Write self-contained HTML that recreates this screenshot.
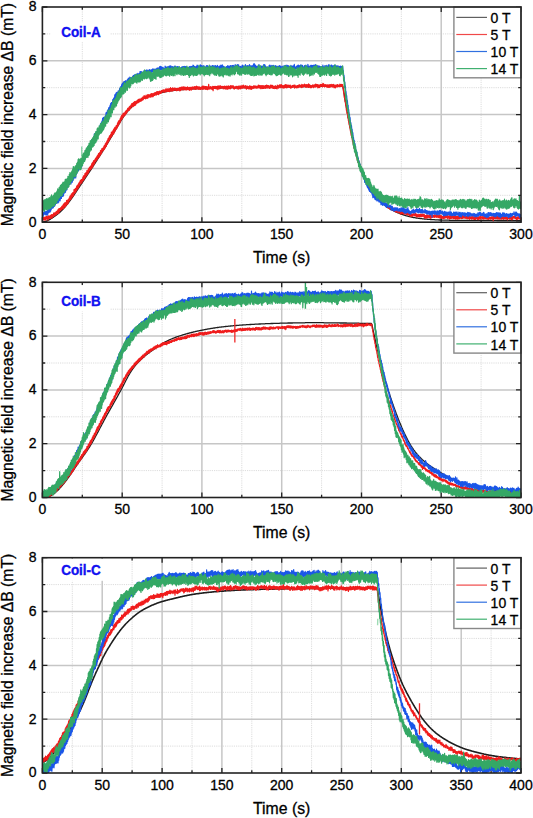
<!DOCTYPE html>
<html><head><meta charset="utf-8"><style>
html,body{margin:0;padding:0;background:#fff;}
svg{display:block;}
text{font-family:"Liberation Sans",sans-serif;fill:#000;stroke:#000;stroke-width:0.3px;}
</style><style>
.mg{stroke:#dcdcdc;stroke-width:1;stroke-dasharray:1.2 1;}
.Mg{stroke:#c6c6c6;stroke-width:1.5;}
.tk{stroke:#222;stroke-width:1.3;fill:none;}
.fr{fill:none;stroke:#222;stroke-width:1.6;}
.lg{fill:#fff;stroke:#888;stroke-width:1.4;}
.xl{font-size:14px;text-anchor:middle;}
.yl{font-size:14px;text-anchor:end;}
.xt{font-size:15.8px;text-anchor:middle;}
.yt{font-size:15.7px;text-anchor:middle;}
.lt{font-size:14px;}
.coil{font-size:14px;font-weight:bold;fill:#1010f0;stroke:#1010f0;stroke-width:0.35px;}
</style></head><body>
<svg width="533" height="818" viewBox="0 0 533 818">

<line x1="82.3" y1="7" x2="82.3" y2="222.2" class="mg"/>
<line x1="162.1" y1="7" x2="162.1" y2="222.2" class="mg"/>
<line x1="241.8" y1="7" x2="241.8" y2="222.2" class="mg"/>
<line x1="321.6" y1="7" x2="321.6" y2="222.2" class="mg"/>
<line x1="401.3" y1="7" x2="401.3" y2="222.2" class="mg"/>
<line x1="481.1" y1="7" x2="481.1" y2="222.2" class="mg"/>
<line x1="42.4" y1="195.3" x2="521" y2="195.3" class="mg"/>
<line x1="42.4" y1="141.5" x2="521" y2="141.5" class="mg"/>
<line x1="42.4" y1="87.7" x2="521" y2="87.7" class="mg"/>
<line x1="42.4" y1="33.9" x2="521" y2="33.9" class="mg"/>
<line x1="122.2" y1="7" x2="122.2" y2="222.2" class="Mg"/>
<line x1="201.9" y1="7" x2="201.9" y2="222.2" class="Mg"/>
<line x1="281.7" y1="7" x2="281.7" y2="222.2" class="Mg"/>
<line x1="361.5" y1="7" x2="361.5" y2="222.2" class="Mg"/>
<line x1="441.2" y1="7" x2="441.2" y2="222.2" class="Mg"/>
<line x1="42.4" y1="168.4" x2="521" y2="168.4" class="Mg"/>
<line x1="42.4" y1="114.6" x2="521" y2="114.6" class="Mg"/>
<line x1="42.4" y1="60.8" x2="521" y2="60.8" class="Mg"/>
<path d="M42.4 222.2v-5M42.4 7v5M82.3 222.2v-2.8M82.3 7v2.8M122.2 222.2v-5M122.2 7v5M162.1 222.2v-2.8M162.1 7v2.8M201.9 222.2v-5M201.9 7v5M241.8 222.2v-2.8M241.8 7v2.8M281.7 222.2v-5M281.7 7v5M321.6 222.2v-2.8M321.6 7v2.8M361.5 222.2v-5M361.5 7v5M401.3 222.2v-2.8M401.3 7v2.8M441.2 222.2v-5M441.2 7v5M481.1 222.2v-2.8M481.1 7v2.8M521 222.2v-5M521 7v5M42.4 222.2h5M521 222.2h-5M42.4 195.3h2.8M521 195.3h-2.8M42.4 168.4h5M521 168.4h-5M42.4 141.5h2.8M521 141.5h-2.8M42.4 114.6h5M521 114.6h-5M42.4 87.7h2.8M521 87.7h-2.8M42.4 60.8h5M521 60.8h-5M42.4 33.9h2.8M521 33.9h-2.8M42.4 7h5M521 7h-5" class="tk"/>
<rect x="50.8" y="22.3" width="59.2" height="19.5" fill="#fff"/>
<text x="42.4" y="239" class="xl">0</text>
<text x="122.2" y="239" class="xl">50</text>
<text x="201.9" y="239" class="xl">100</text>
<text x="281.7" y="239" class="xl">150</text>
<text x="361.5" y="239" class="xl">200</text>
<text x="441.2" y="239" class="xl">250</text>
<text x="521" y="239" class="xl">300</text>
<text x="36.6" y="226.5" class="yl">0</text>
<text x="36.6" y="172.7" class="yl">2</text>
<text x="36.6" y="118.9" class="yl">4</text>
<text x="36.6" y="65.1" class="yl">6</text>
<text x="36.6" y="11.3" class="yl">8</text>
<text x="281.7" y="262.8" class="xt">Time (s)</text>
<text transform="translate(12.5 114.6) rotate(-90)" class="yt">Magnetic field increase ΔB (mT)</text>
<line x1="82.3" y1="282.3" x2="82.3" y2="497.5" class="mg"/>
<line x1="162.1" y1="282.3" x2="162.1" y2="497.5" class="mg"/>
<line x1="241.8" y1="282.3" x2="241.8" y2="497.5" class="mg"/>
<line x1="321.6" y1="282.3" x2="321.6" y2="497.5" class="mg"/>
<line x1="401.3" y1="282.3" x2="401.3" y2="497.5" class="mg"/>
<line x1="481.1" y1="282.3" x2="481.1" y2="497.5" class="mg"/>
<line x1="42.4" y1="470.6" x2="521" y2="470.6" class="mg"/>
<line x1="42.4" y1="416.8" x2="521" y2="416.8" class="mg"/>
<line x1="42.4" y1="363" x2="521" y2="363" class="mg"/>
<line x1="42.4" y1="309.2" x2="521" y2="309.2" class="mg"/>
<line x1="122.2" y1="282.3" x2="122.2" y2="497.5" class="Mg"/>
<line x1="201.9" y1="282.3" x2="201.9" y2="497.5" class="Mg"/>
<line x1="281.7" y1="282.3" x2="281.7" y2="497.5" class="Mg"/>
<line x1="361.5" y1="282.3" x2="361.5" y2="497.5" class="Mg"/>
<line x1="441.2" y1="282.3" x2="441.2" y2="497.5" class="Mg"/>
<line x1="42.4" y1="443.7" x2="521" y2="443.7" class="Mg"/>
<line x1="42.4" y1="389.9" x2="521" y2="389.9" class="Mg"/>
<line x1="42.4" y1="336.1" x2="521" y2="336.1" class="Mg"/>
<path d="M42.4 497.5v-5M42.4 282.3v5M82.3 497.5v-2.8M82.3 282.3v2.8M122.2 497.5v-5M122.2 282.3v5M162.1 497.5v-2.8M162.1 282.3v2.8M201.9 497.5v-5M201.9 282.3v5M241.8 497.5v-2.8M241.8 282.3v2.8M281.7 497.5v-5M281.7 282.3v5M321.6 497.5v-2.8M321.6 282.3v2.8M361.5 497.5v-5M361.5 282.3v5M401.3 497.5v-2.8M401.3 282.3v2.8M441.2 497.5v-5M441.2 282.3v5M481.1 497.5v-2.8M481.1 282.3v2.8M521 497.5v-5M521 282.3v5M42.4 497.5h5M521 497.5h-5M42.4 470.6h2.8M521 470.6h-2.8M42.4 443.7h5M521 443.7h-5M42.4 416.8h2.8M521 416.8h-2.8M42.4 389.9h5M521 389.9h-5M42.4 363h2.8M521 363h-2.8M42.4 336.1h5M521 336.1h-5M42.4 309.2h2.8M521 309.2h-2.8M42.4 282.3h5M521 282.3h-5" class="tk"/>
<rect x="50.8" y="285.6" width="59.2" height="25.9" fill="#fff"/>
<text x="42.4" y="514.3" class="xl">0</text>
<text x="122.2" y="514.3" class="xl">50</text>
<text x="201.9" y="514.3" class="xl">100</text>
<text x="281.7" y="514.3" class="xl">150</text>
<text x="361.5" y="514.3" class="xl">200</text>
<text x="441.2" y="514.3" class="xl">250</text>
<text x="521" y="514.3" class="xl">300</text>
<text x="36.6" y="501.8" class="yl">0</text>
<text x="36.6" y="448" class="yl">2</text>
<text x="36.6" y="394.2" class="yl">4</text>
<text x="36.6" y="340.4" class="yl">6</text>
<text x="36.6" y="286.6" class="yl">8</text>
<text x="281.7" y="538.1" class="xt">Time (s)</text>
<text transform="translate(12.5 389.9) rotate(-90)" class="yt">Magnetic field increase ΔB (mT)</text>
<line x1="72.3" y1="557.7" x2="72.3" y2="773" class="mg"/>
<line x1="132.1" y1="557.7" x2="132.1" y2="773" class="mg"/>
<line x1="192" y1="557.7" x2="192" y2="773" class="mg"/>
<line x1="251.8" y1="557.7" x2="251.8" y2="773" class="mg"/>
<line x1="311.6" y1="557.7" x2="311.6" y2="773" class="mg"/>
<line x1="371.4" y1="557.7" x2="371.4" y2="773" class="mg"/>
<line x1="431.3" y1="557.7" x2="431.3" y2="773" class="mg"/>
<line x1="491.1" y1="557.7" x2="491.1" y2="773" class="mg"/>
<line x1="42.4" y1="746.1" x2="521" y2="746.1" class="mg"/>
<line x1="42.4" y1="692.3" x2="521" y2="692.3" class="mg"/>
<line x1="42.4" y1="638.4" x2="521" y2="638.4" class="mg"/>
<line x1="42.4" y1="584.6" x2="521" y2="584.6" class="mg"/>
<line x1="102.2" y1="557.7" x2="102.2" y2="773" class="Mg"/>
<line x1="162.1" y1="557.7" x2="162.1" y2="773" class="Mg"/>
<line x1="221.9" y1="557.7" x2="221.9" y2="773" class="Mg"/>
<line x1="281.7" y1="557.7" x2="281.7" y2="773" class="Mg"/>
<line x1="341.5" y1="557.7" x2="341.5" y2="773" class="Mg"/>
<line x1="401.3" y1="557.7" x2="401.3" y2="773" class="Mg"/>
<line x1="461.2" y1="557.7" x2="461.2" y2="773" class="Mg"/>
<line x1="42.4" y1="719.2" x2="521" y2="719.2" class="Mg"/>
<line x1="42.4" y1="665.4" x2="521" y2="665.4" class="Mg"/>
<line x1="42.4" y1="611.5" x2="521" y2="611.5" class="Mg"/>
<path d="M42.4 773v-5M42.4 557.7v5M72.3 773v-2.8M72.3 557.7v2.8M102.2 773v-5M102.2 557.7v5M132.1 773v-2.8M132.1 557.7v2.8M162.1 773v-5M162.1 557.7v5M192 773v-2.8M192 557.7v2.8M221.9 773v-5M221.9 557.7v5M251.8 773v-2.8M251.8 557.7v2.8M281.7 773v-5M281.7 557.7v5M311.6 773v-2.8M311.6 557.7v2.8M341.5 773v-5M341.5 557.7v5M371.4 773v-2.8M371.4 557.7v2.8M401.3 773v-5M401.3 557.7v5M431.3 773v-2.8M431.3 557.7v2.8M461.2 773v-5M461.2 557.7v5M491.1 773v-2.8M491.1 557.7v2.8M521 773v-5M521 557.7v5M42.4 773h5M521 773h-5M42.4 746.1h2.8M521 746.1h-2.8M42.4 719.2h5M521 719.2h-5M42.4 692.3h2.8M521 692.3h-2.8M42.4 665.4h5M521 665.4h-5M42.4 638.4h2.8M521 638.4h-2.8M42.4 611.5h5M521 611.5h-5M42.4 584.6h2.8M521 584.6h-2.8M42.4 557.7h5M521 557.7h-5" class="tk"/>
<rect x="50.8" y="558.4" width="59.2" height="22.4" fill="#fff"/>
<text x="42.4" y="789.8" class="xl">0</text>
<text x="102.2" y="789.8" class="xl">50</text>
<text x="162.1" y="789.8" class="xl">100</text>
<text x="221.9" y="789.8" class="xl">150</text>
<text x="281.7" y="789.8" class="xl">200</text>
<text x="341.5" y="789.8" class="xl">250</text>
<text x="401.3" y="789.8" class="xl">300</text>
<text x="461.2" y="789.8" class="xl">350</text>
<text x="521" y="789.8" class="xl">400</text>
<text x="36.6" y="777.3" class="yl">0</text>
<text x="36.6" y="723.5" class="yl">2</text>
<text x="36.6" y="669.6" class="yl">4</text>
<text x="36.6" y="615.8" class="yl">6</text>
<text x="36.6" y="562" class="yl">8</text>
<text x="281.7" y="813.6" class="xt">Time (s)</text>
<text transform="translate(12.5 665.4) rotate(-90)" class="yt">Magnetic field increase ΔB (mT)</text>
<clipPath id="cp0"><rect x="42.4" y="7.0" width="478.6" height="215.2"/></clipPath>
<g clip-path="url(#cp0)" fill="none" stroke-linejoin="round">
<path d="M42.4 222.0l.5 0 .5-.1 .5-.1 .5-.1 .5-.1 .5-.1 .5-.2 .5-.2 .5-.2 .5-.2 .5-.3 .5-.2 .5-.3 .5-.2 .5-.3 .5-.3 .5-.3 .5-.3 .5-.3 .5-.4 .5-.3 .5-.3 .5-.4 .5-.3 .5-.4 .5-.3 .5-.4 .5-.4 .5-.4 .5-.3 .5-.4 .5-.5 .5-.4 .5-.4 .5-.4 .5-.5 .5-.5 .5-.4 .5-.5 .5-.5 .5-.6 .5-.5 .5-.5 .5-.6 .5-.5 .5-.6 .5-.6 .5-.6 .5-.6 .5-.7 .5-.6 .5-.6 .5-.7 .5-.7 .5-.6 .5-.7 .5-.7 .5-.7 .5-.7 .5-.7 .5-.7 .5-.8 .5-.7 .5-.7 .5-.8 .5-.7 .5-.8 .5-.7 .5-.8 .5-.7 .5-.8 .5-.7 .5-.8 .5-.7 .5-.8 .5-.7 .5-.8 .5-.7 .5-.8 .5-.7 .5-.8 .5-.7 .5-.8 .5-.7 .5-.8 .5-.7 .5-.8 .5-.7 .5-.8 .5-.7 .5-.8 .5-.7 .5-.8 .5-.7 .5-.8 .5-.8 .5-.7 .5-.8 .5-.8 .5-.7 .5-.8 .5-.8 .5-.7 .5-.8 .5-.8 .5-.8 .5-.7 .5-.8 .5-.8 .5-.8 .5-.8 .5-.8 .5-.7 .5-.8 .5-.8 .5-.8 .5-.8 .5-.8 .5-.8 .5-.8 .5-.8 .5-.8 .5-.8 .5-.8 .5-.8 .5-.8 .5-.9 .5-.8 .5-.8 .5-.8 .5-.9 .5-.8 .5-.8 .5-.8 .5-.9 .5-.8 .5-.9 .5-.8 .5-.8 .5-.9 .5-.8 .5-.9 .5-.8 .5-.9 .5-.8 .5-.9 .5-.8 .5-.9 .5-.8 .5-.9 .5-.8 .5-.9 .5-.8 .5-.8 .5-.9 .5-.8 .5-.9 .5-.8 .5-.8 .5-.8 .5-.7 .5-.7 .5-.8 .5-.7 .5-.6 .5-.7 .5-.6 .5-.7 .5-.6 .5-.6 .5-.6 .5-.5 .5-.6 .5-.5 .5-.6 .5-.5 .5-.5 .5-.5 .5-.5 .5-.5 .5-.4 .5-.5 .5-.4 .5-.5 .5-.4 .5-.4 .5-.4 .5-.3 .5-.4 .5-.4 .5-.3 .5-.3 .5-.4 .5-.3 .5-.3 .5-.3 .5-.3 .5-.2 .5-.3 .5-.3 .5-.2 .5-.3 .5-.2 .5-.2 .5-.3 .5-.2 .5-.2 .5-.2 .5-.2 .5-.2 .5-.2 .5-.2 .5-.2 .5-.2 .5-.2 .5-.2 .5-.1 .5-.2 .5-.2 .5-.1 .5-.2 .5-.2 .5-.1 .5-.2 .5-.1 .5-.2 .5-.1 .5-.2 .5-.1 .5-.2 .5-.1 .5-.1 .5-.2 .5-.1 .5-.1 .5-.1 .5-.2 .5-.1 .5-.1 .5-.1 .5-.1 .5-.1 .5-.1 .5-.1 .5-.1 .5-.1 .5-.1 .5-.1 .5-.1 .5-.1 .5-.1 .5-.1 .5-.1 .5 0 .5-.1 .5-.1 .5-.1 .5 0 .5-.1 .5-.1 .5 0 .5-.1 .5-.1 .5 0 .5-.1 .5 0 .5-.1 .5-.1 .5 0 .5-.1 .5 0 .5-.1 .5 0 .5-.1 .5 0 .5 0 .5-.1 .5 0 .5-.1 .5 0 .5 0 .5-.1 .5 0 .5-.1 .5 0 .5 0 .5-.1 .5 0 .5 0 .5-.1 .5 0 .5 0 .5-.1 .5 0 .5 0 .5-.1 .5 0 .5 0 .5 0 .5-.1 .5 0 .5 0 .5 0 .5-.1 .5 0 .5 0 .5 0 .5-.1 .5 0 .5 0 .5 0 .5-.1 .5 0 .5 0 .5 0 .5 0 .5-.1 .5 0 .5 0 .5 0 .5 0 .5 0 .5-.1 .5 0 .5 0 .5 0 .5 0 .5-.1 .5 0 .5 0 .5 0 .5 0 .5 0 .5 0 .5-.1 .5 0 .5 0 .5 0 .5 0 .5 0 .5 0 .5-.1 .5 0 .5 0 .5 0 .5 0 .5 0 .5 0 .5-.1 .5 0 .5 0 .5 0 .5 0 .5 0 .5 0 .5 0 .5 0 .5-.1 .5 0 .5 0 .5 0 .5 0 .5 0 .5 0 .5 0 .5 0 .5-.1 .5 0 .5 0 .5 0 .5 0 .5 0 .5 0 .5 0 .5 0 .5 0 .5-.1 .5 0 .5 0 .5 0 .5 0 .5 0 .5 0 .5 0 .5 0 .5 0 .5 0 .5-.1 .5 0 .5 0 .5 0 .5 0 .5 0 .5 0 .5 0 .5 0 .5 0 .5 0 .5 0 .5-.1 .5 0 .5 0 .5 0 .5 0 .5 0 .5 0 .5 0 .5 0 .5 0 .5 0 .5 0 .5-.1 .5 0 .5 0 .5 0 .5 0 .5 0 .5 0 .5 0 .5 0 .5 0 .5 0 .5 0 .5-.1 .5 0 .5 0 .5 0 .5 0 .5 0 .5 0 .5 0 .5 0 .5 0 .5 0 .5-.1 .5 0 .5 0 .5 0 .5 0 .5 0 .5 0 .5 0 .5 0 .5 0 .5 0 .5 0 .5-.1 .5 0 .5 0 .5 0 .5 0 .5 0 .5 0 .5 0 .5 0 .5 0 .5 0 .5 0 .5-.1 .5 0 .5 0 .5 0 .5 0 .5 0 .5 0 .5 0 .5 0 .5 0 .5 0 .5 0 .5-.1 .5 0 .5 0 .5 0 .5 0 .5 0 .5 0 .5 0 .5 0 .5 0 .5 0 .5 0 .5-.1 .5 0 .5 0 .5 0 .5 0 .5 0 .5 0 .5 0 .5 0 .5 0 .5 0 .5 0 .5-.1 .5 0 .5 0 .5 0 .5 0 .5 0 .5 0 .5 0 .5 0 .5 0 .5 0 .5 0 .5 0 .5-.1 .5 0 .5 0 .5 0 .5 0 .5 0 .5 0 .5 0 .5 0 .5 0 .5 0 .5 0 .5 0 .5 0 .5 0 .5-.1 .5 0 .5 0 .5 0 .5 0 .5 0 .5 0 .5 0 .5 0 .5 0 .5 0 .5 0 .5 0 .5 0 .5 0 .5 0 .5 0 .5-.1 .5 0 .5 0 .5 0 .5 0 .5 0 .5 0 .5 0 .5 0 .5 0 .5 0 .5 0 .5 0 .5 0 .5 0 .5 0 .5 0 .5-.1 .5 0 .5 0 .5 0 .5 0 .5 0 .5 0 .5 0 .5 0 .5 0 .5 0 .5 0 .5 0 .5 0 .5 0 .5 0 .5 0 .5-.1 .5 0 .5 0 .5 0 .5 0 .5 0 .5 0 .5 0 .5 0 .5 0 .5 0 .5 0 .5 0 .5 0 .5 0 .5 0 .5 0 .5-.1 .5 0 .5 0 .5 0 .5 0 .5 0 .5 0 .5 0 .5 0 .5 0 .5 .6 .5 3 .5 3 .5 3 .5 2.9 .5 2.9 .5 2.8 .5 2.8 .5 2.8 .5 2.7 .5 2.7 .5 2.6 .5 2.6 .5 2.6 .5 2.5 .5 2.4 .5 2.5 .5 2.3 .5 2.4 .5 2.2 .5 2.2 .5 2.2 .5 2.1 .5 2 .5 2 .5 2 .5 1.9 .5 1.8 .5 1.8 .5 1.7 .5 1.7 .5 1.6 .5 1.6 .5 1.5 .5 1.5 .5 1.4 .5 1.4 .5 1.4 .5 1.3 .5 1.3 .5 1.2 .5 1.2 .5 1.2 .5 1.1 .5 1.1 .5 1.1 .5 1 .5 1.1 .5 1 .5 .9 .5 1 .5 .9 .5 .9 .5 .9 .5 .9 .5 .8 .5 .8 .5 .9 .5 .7 .5 .8 .5 .8 .5 .7 .5 .7 .5 .7 .5 .7 .5 .7 .5 .6 .5 .6 .5 .7 .5 .6 .5 .5 .5 .6 .5 .6 .5 .5 .5 .5 .5 .5 .5 .5 .5 .5 .5 .5 .5 .4 .5 .5 .5 .4 .5 .4 .5 .4 .5 .4 .5 .4 .5 .4 .5 .3 .5 .4 .5 .4 .5 .3 .5 .3 .5 .3 .5 .4 .5 .3 .5 .3 .5 .3 .5 .3 .5 .2 .5 .3 .5 .3 .5 .2 .5 .3 .5 .2 .5 .3 .5 .2 .5 .3 .5 .2 .5 .2 .5 .2 .5 .2 .5 .2 .5 .2 .5 .2 .5 .2 .5 .2 .5 .2 .5 .2 .5 .2 .5 .1 .5 .2 .5 .2 .5 .1 .5 .2 .5 .2 .5 .1 .5 .2 .5 .1 .5 .1 .5 .2 .5 .1 .5 .1 .5 .2 .5 .1 .5 .1 .5 .1 .5 .1 .5 .1 .5 .2 .5 .1 .5 .1 .5 .1 .5 0 .5 .1 .5 .1 .5 .1 .5 .1 .5 .1 .5 .1 .5 0 .5 .1 .5 .1 .5 0 .5 .1 .5 .1 .5 0 .5 .1 .5 .1 .5 0 .5 .1 .5 0 .5 .1 .5 0 .5 .1 .5 0 .5 .1 .5 0 .5 .1 .5 0 .5 .1 .5 0 .5 0 .5 .1 .5 0 .5 0 .5 .1 .5 0 .5 .1 .5 0 .5 0 .5 0 .5 .1 .5 0 .5 0 .5 .1 .5 0 .5 0 .5 0 .5 .1 .5 0 .5 0 .5 0 .5 .1 .5 0 .5 0 .5 0 .5 0 .5 0 .5 .1 .5 0 .5 0 .5 0 .5 0 .5 0 .5 .1 .5 0 .5 0 .5 0 .5 0 .5 0 .5 0 .5 0 .5 0 .5 .1 .5 0 .5 0 .5 0 .5 0 .5 0 .5 0 .5 0 .5 0 .5 0 .5 0 .5 0 .5 0 .5 0 .5 0 .5 .1 .5 0 .5 0 .5 0 .5 0 .5 0 .5 0 .5 0 .5 0 .5 0 .5 0 .5 0 .5 0 .5 0 .5 0 .5 0 .5 0 .5 0 .5 0 .5 0 .5 0 .5 0 .5 0 .5 0 .5 0 .5 0 .5 0 .5 0 .5 0 .5 0 .5 0 .5 0 .5 0 .5 0 .5 0 .5 0 .5 0 .5 0 .5 0 .5 0 .5 0 .5 0 .5 0 .5 0 .5 0 .5 0 .5 0 .5 0 .5 0 .5 0 .5 0 .5 0 .5 0 .5 0 .5 0 .5 0 .5 0 .5 0 .5 0 .5 0 .5 0 .5 0 .5 0 .5 0 .5 0 .5 0 .5 0 .5 0 .5 0 .5 0 .5 0 .5 0 .5 0 .5 0 .5 0 .5 0 .5 0 .5 0 .5 0 .5 0 .5 .1 .5 0 .5 0 .5 0 .5 0 .5 0 .5 0 .5 0 .5 0 .5 0 .5 0 .5 0 .5 0 .5 0 .5 0 .5 0 .5 0 .5 0 .5 0 .5 0 .5 0 .5 0 .5 0 .5 0 .5 0 .5 0 .5 0 .5 0 .5 0 .5 0 .5 0 .5 0 .5 0 .5 0 .5 0 .5 .1 .5 0 .5 0 .5 0 .5 0 .5 0 .5 0 .5 0 .5 0 .5 0 .5 0 .5 0 .5 0 .5 0" stroke="#1e1e1e" stroke-width="1.3"/>
<path d="M42.4 220.2l.3-2.1 .4 2 .3-2.7 .4 1.9 .3-1.5 .3 1.8 .4-2.5 .3 3.3 .4-3.3 .3 2.6 .3-3 .4 2.3 .3-2.8 .4 2.7 .3-1.2 .3 2.4 .4-4.3 .3 2.8 .4-2.5 .3 2.6 .3-2.7 .4 2.1 .3-2.4 .4 2.6 .3-3.1 .3 2.8 .4-3.3 .3 3.5 .4-3.7 .3 2.7 .3-2.3 .4 1.4 .3-3.3 .4 3 .3-3.1 .3 2.9 .4-2.7 .3 2 .4-2.8 .3 2.4 .3-3.3 .4 3.1 .3-3.2 .4 2 .3-3.1 .3 2.7 .4-3.7 .3 4.2 .4-4.7 .3 3 .3-3.2 .4 2.3 .3-2.8 .4 2.2 .3-2.9 .3 2.5 .4-3.5 .3 3 .4-3.5 .3 2.8 .3-3.7 .4 3.6 .3-4.6 .4 3.8 .3-4.5 .3 3.3 .4-3.9 .3 4 .4-4.1 .3 3 .3-4.8 .4 3.8 .3-4.3 .4 4 .3-4.2 .3 3.1 .4-4 .3 2.5 .4-3.8 .3 2.6 .3-4.1 .4 3.2 .3-3.8 .4 3.6 .3-5.2 .3 3.7 .4-4.1 .3 3.3 .4-4.3 .3 3.6 .3-3.7 .4 2.6 .3-5.5 .4 3.6 .3-3.9 .3 3.5 .4-4.3 .3 3.6 .4-4.3 .3 2.8 .3-4.7 .4 3.6 .3-4.1 .4 3 .3-4.2 .3 3.7 .4-4.8 .3 3.3 .4-4.3 .3 3.1 .3-4.5 .4 2.5 .3-3.1 .4 2.6 .3-3.3 .3 3.6 .4-4.1 .3 2.2 .4-4.2 .3 3.5 .3-4.6 .4 3.9 .3-4.1 .4 2.6 .3-4.6 .3 3.8 .4-4.3 .3 3.3 .4-4.2 .3 3 .3-4.7 .4 3.9 .3-3.8 .4 2.8 .3-4.5 .3 3.7 .4-4.6 .3 2.8 .4-3.7 .3 2.5 .3-3.1 .4 3 .3-4.1 .4 3 .3-4.6 .3 3.8 .4-4.8 .3 4.2 .4-5.2 .3 3.3 .3-4.6 .4 3.8 .3-4 .4 2.9 .3-4.1 .3 2.2 .4-3.3 .3 3 .4-3.9 .3 2.4 .3-3.5 .4 3 .3-4.1 .4 3 .3-4.3 .3 3.1 .4-3.6 .3 3.6 .4-4.4 .3 2.8 .3-4.7 .4 3.6 .3-3.9 .4 3.2 .3-4.8 .3 2.8 .4-3.1 .3 2.7 .4-3.5 .3 2.6 .3-3.9 .4 3.2 .3-4.1 .4 2.9 .3-4.4 .3 3.2 .4-4.2 .3 3.6 .4-4.9 .3 3 .3-4.2 .4 2.9 .3-4.5 .4 3.3 .3-4.2 .3 3.1 .4-4.9 .3 3.6 .4-4.3 .3 2.7 .3-3.6 .4 2.9 .3-5.2 .4 4.4 .3-4.5 .3 3 .4-4.2 .3 3.5 .4-4.8 .3 4.1 .3-5.1 .4 3.8 .3-5 .4 3.6 .3-3.9 .3 2.7 .4-4.2 .3 3.3 .4-3.6 .3 2.8 .3-4.8 .4 3.1 .3-4.4 .4 3.3 .3-4.7 .3 3.2 .4-3.7 .3 3 .4-4.6 .3 2.9 .3-4.4 .4 2.7 .3-3.9 .4 3.5 .3-4.4 .3 3.5 .4-4.8 .3 3.5 .4-3.9 .3 3 .3-3.1 .4 2.1 .3-3.1 .4 2.9 .3-3.9 .3 3 .4-3.3 .3 2.6 .4-3.6 .3 2.1 .3-3.4 .4 2.2 .3-2.5 .4 2.2 .3-3.2 .3 3 .4-3.8 .3 2.5 .4-2.9 .3 2.4 .3-3.5 .4 2 .3-3.2 .4 3 .3-2.9 .3 3 .4-3.9 .3 3.4 .4-3.9 .3 3.3 .3-4 .4 3.8 .3-3.6 .4 3.2 .3-3.7 .3 2.6 .4-2.7 .3 2.2 .4-3.1 .3 2.3 .3-2.8 .4 2.9 .3-3.3 .4 1.9 .3-2.3 .3 3 .4-2.9 .3 2.4 .4-2.4 .3 1.8 .3-2.9 .4 2.8 .3-2.5 .4 1.9 .3-3.1 .3 2.7 .4-2.9 .3 2.1 .4-3.5 .3 3 .3-2.3 .4 2.3 .3-2.2 .4 2.5 .3-3.6 .3 2.8 .4-1.7 .3 2 .4-3.4 .3 3.3 .3-3.6 .4 2.6 .3-2.4 .4 1.9 .3-1.8 .3 2.3 .4-2.7 .3 2.7 .4-3.4 .3 2.4 .3-2.6 .4 3.4 .3-3.1 .4 2.2 .3-2.5 .3 3 .4-3.1 .3 2 .4-2.7 .3 2.7 .3-2.6 .4 1.8 .3-2.1 .4 2.5 .3-2.9 .3 2.7 .4-3.4 .3 2.2 .4-2.1 .3 2.9 .3-3 .4 3.1 .3-2.7 .4 1.8 .3-2.7 .3 2.4 .4-1.7 .3 1.8 .4-2.6 .3 1.9 .3-2.1 .4 1.3 .3-1.6 .4 1.8 .3-2.3 .3 2.1 .4-2.1 .3 2.1 .4-1.9 .3 2.4 .3-2.7 .4 1.7 .3-2.6 .4 2.3 .3-2.2 .3 2.7 .4-2.8 .3 2.6 .4-2.5 .3 2.5 .3-2.7 .4 2.6 .3-2.3 .4 2.6 .3-3.3 .3 2.5 .4-3.2 .3 3.3 .4-2.4 .3 2.2 .3-2 .4 2.4 .3-3.3 .4 2.6 .3-1.9 .3 1.9 .4-2.3 .3 2.1 .4-2.2 .3 1.5 .3-1.3 .4 2 .3-2 .4 2.4 .3-2 .3 1.9 .4-2.3 .3 2.2 .4-1.6 .3 1.2 .3-2.1 .4 1.9 .3-2 .4 2.9 .3-3.5 .3 3.3 .4-2.8 .3 1.7 .4-2.3 .3 2.8 .3-2.8 .4 2.5 .3-2.6 .4 2.8 .3-3 .3 2.6 .4-2.5 .3 2.6 .4-2.6 .3 2.7 .3-2.4 .4 2.6 .3-2.6 .4 2.6 .3-2.4 .3 1.9 .4-2.6 .3 2.8 .4-1.7 .3 1.6 .3-1.9 .4 2.9 .3-3.2 .4 2.6 .3-2.3 .3 2 .4-2.4 .3 2.9 .4-2.6 .3 2 .3-2.5 .4 2 .3-2.1 .4 2.1 .3-1.3 .3 1.5 .4-2.7 .3 2.4 .4-1.8 .3 2.4 .3-2.8 .4 2.6 .3-3.1 .4 2.6 .3-2.2 .3 2.4 .4-2.1 .3 1.9 .4-1.9 .3 2.6 .3-2.7 .4 2.3 .3-2.1 .4 2.4 .3-1.7 .3 1.8 .4-2.4 .3 1.9 .4-2.2 .3 2.1 .3-2.7 .4 3.3 .3-3.2 .4 2.4 .3-2.7 .3 3 .4-2.2 .3 2.1 .4-2.4 .3 2.8 .3-2.6 .4 2.8 .3-2.9 .4 2.6 .3-2.1 .3 2.6 .4-3 .3 2 .4-4.4 .3 5 .3-2.2 .4 1.6 .3-1.9 .4 1.8 .3-2.1 .3 2.4 .4-1.7 .3 1.9 .4-1.9 .3 2.1 .3-2.9 .4 4.3 .3-3.8 .4 1.8 .3-2.4 .3 2 .4-1.7 .3 1.8 .4-2.1 .3 2.4 .3-2.2 .4 2.3 .3-2.3 .4 1.6 .3-2 .3 3.5 .4-3.3 .3 2.5 .4-3 .3 2.1 .3-1.6 .4 2.5 .3-3.1 .4 2.4 .3-1.5 .3 1.5 .4-1.8 .3 1.7 .4-1.7 .3 1.6 .3-1.3 .4 2.2 .3-2.3 .4 2 .3-2.4 .3 2.6 .4-2.3 .3 2.3 .4-2 .3 2.6 .3-3.1 .4 2 .3-1.8 .4 2.7 .3-2.7 .3 2.8 .4-3.3 .3 2.6 .4-1.8 .3 1.8 .3-2.1 .4 2.4 .3-3.3 .4 3.1 .3-1.5 .3 .9 .4-2.3 .3 1.8 .4-1.2 .3 1.6 .3-2.2 .4 2.8 .3-1.8 .4 2.4 .3-2.2 .3 1.8 .4-1.8 .3 1.5 .4-2.1 .3 1.7 .3-1.7 .4 2.3 .3-2.3 .4 2.4 .3-1.8 .3 2.3 .4-3 .3 2.6 .4-1.7 .3 1.2 .3-2.4 .4 3.1 .3-3 .4 2.7 .3-2.7 .3 2 .4-2.3 .3 2.4 .4-1.9 .3 1.9 .3-2.9 .4 2.3 .3-1.3 .4 1.9 .3-2 .3 1 .4-1.5 .3 2.7 .4-2.1 .3 2.9 .3-2.8 .4 2 .3-2.1 .4 2.3 .3-1.6 .3 2 .4-2.2 .3 1.9 .4-2.8 .3 3.1 .3-2.8 .4 2.7 .3-2.5 .4 3.1 .3-3 .3 2.7 .4-2.6 .3 1.9 .4-1.6 .3 1.3 .3-2.3 .4 2.7 .3-2.4 .4 1.8 .3-2 .3 1.8 .4-1.6 .3 2 .4-1.5 .3 1.6 .3-2.1 .4 2.1 .3-1.9 .4 1.4 .3-2.5 .3 2.5 .4-2.4 .3 2.9 .4-2.4 .3 1.7 .3-2 .4 3.1 .3-2.5 .4 1.9 .3-2.3 .3 3 .4-3 .3 2.7 .4-2.1 .3 2 .3-2.6 .4 2.6 .3-1.4 .4 1.1 .3-2.3 .3 2.7 .4-2.9 .3 2 .4-2.3 .3 3 .3-2.8 .4 2.6 .3-2.5 .4 2.3 .3-2.2 .3 2.2 .4-1.8 .3 2.3 .4-2.3 .3 2.1 .3-3 .4 2.7 .3-2.1 .4 1.9 .3-2.5 .3 2.9 .4-2.4 .3 2.7 .4-2.3 .3 2.3 .3-1.6 .4 2 .3-2.4 .4 1.9 .3-2.5 .3 2.8 .4-1.4 .3 1.2 .4-1.6 .3 2.2 .3-3.8 .4 2.9 .3-2.2 .4 2.3 .3-2.4 .3 2.3 .4-3.1 .3 2.3 .4-2.3 .3 2.3 .3-2 .4 2.6 .3-3.2 .4 2.3 .3-1.4 .3 1.9 .4-1.8 .3 2.6 .4-2.3 .3 1.9 .3-2.5 .4 2.5 .3-2.6 .4 2.5 .3-3.1 .3 2.5 .4-2.4 .3 3.1 .4-2.1 .3 2 .3-2.6 .4 2.1 .3-2 .4 1.4 .3-1.2 .3 2 .4-2 .3 2 .4-2.2 .3 3 .3-2.1 .4 1.9 .3-1.9 .4 1.3 .3-1.8 .3 1.9 .4-2.2 .3 1.5 .4-1.4 .3 1.8 .3-2 .4 3 .3-3 .4 2.2 .3-1.4 .3 1.3 .4-1.4 .3 1.9 .4-2 .3 1.8 .3-2 .4 2 .3-2.5 .4 2.1 .3-1.9 .3 1.7 .4-2.3 .3 2.3 .4-1.4 .3 1.3 .3-1.4 .4 2.1 .3-3.3 .4 2.9 .3-2.4 .3 2.4 .4-2.2 .3 1.8 .4-2.2 .3 1.9 .3-2.5 .4 2.3 .3-1.6 .4 2.5 .3-2.1 .3 2.1 .4-2.7 .3 2.6 .4-2.5 .3 2.2 .3-1.6 .4 2.1 .3-3.4 .4 3.5 .3-2.8 .3 2.1 .4-1.5 .3 2.1 .4-1.7 .3 2.4 .3-2.5 .4 1.8 .3-1.6 .4 1.5 .3-2.4 .3 2.1 .4-1.8 .3 2.5 .4-2.5 .3 1.4 .3-1.6 .4 2.3 .3-3.2 .4 2.8 .3-2 .3 1.8 .4-2.3 .3 2.4 .4-2.1 .3 3.2 .3-2.8 .4 2.4 .3-2.6 .4 2.9 .3-2.4 .3 2.1 .4-2.9 .3 1.9 .4-2 .3 2 .3-2 .4 1.4 .3-1.3 .4 2.4 .3-3.5 .3 3.1 .4-2.7 .3 2.7 .4-1.8 .3 2.2 .3-1.9 .4 1.4 .3-1.8 .4 2.1 .3-1.7 .3 2 .4-2.2 .3 2.5 .4-2.5 .3 2.1 .3-2.1 .4 2.6 .3-2 .4 1.7 .3-2.4 .3 2.8 .4-2.9 .3 2.1 .4-1.7 .3 1.6 .3-2.2 .4 2.2 .3-1.7 .4 2.3 .3-2.6 .3 1.8 .4-2 .3 3.2 .4-2.3 .3 2.4 .3-2.4 .4 2.5 .3-2.7 .4 1.9 .3-1.8 .3 1.6 .4-2.1 .3 2.3 .4-2.3 .3 1.8 .3-.8 .4 1 .3-1.6 .4 1.6 .3-2.7 .3 2.6 .4-2.1 .3 1.9 .4-2.1 .3 2 .3-1.7 .4 1.8 .3-1.9 .4 3.7 .3-.3 .3 4.9 .4 .1 .3 4.6 .4-.4 .3 4.7 .3-.7 .4 4.3 .3 .3 .4 4.5 .3-.7 .3 3.9 .4-.5 .3 4.9 .4-.9 .3 3.7 .3-1 .4 5.2 .3-.8 .4 4 .3 .2 .3 2.8 .4-.2 .3 4.3 .4-.6 .3 3.1 .3 .4 .4 3 .3-.3 .4 3.6 .3-1.4 .3 4.9 .4-2.3 .3 4 .4-.4 .3 2.1 .3 .6 .4 3.1 .3-1.3 .4 4.1 .3-1.4 .3 3.5 .4-1.6 .3 4.1 .4-1.3 .3 2.6 .3-.5 .4 3.4 .3-2.2 .4 4 .3-.9 .3 2.8 .4-1 .3 3 .4-1.2 .3 3 .3-1.2 .4 3.2 .3-2.1 .4 2.8 .3-1.5 .3 3 .4-1.6 .3 3.1 .4-1.7 .3 2.8 .3-.7 .4 2.9 .3-1.8 .4 2.6 .3-2.1 .3 2.5 .4-.8 .3 2.1 .4-1.1 .3 1.8 .3-1.3 .4 2.7 .3-1.7 .4 2.7 .3-1.5 .3 2.6 .4-1.4 .3 3 .4-1.9 .3 2.8 .3-1.1 .4 2.2 .3-2.1 .4 2.7 .3-1.5 .3 2.4 .4-2.7 .3 3.2 .4-1.8 .3 2.7 .3-.9 .4 1.7 .3-1.6 .4 3.1 .3-2.3 .3 2.4 .4-1.5 .3 2.6 .4-1.8 .3 2.3 .3-1.3 .4 1.8 .3-2.2 .4 3.1 .3-2.9 .3 2.7 .4-2.4 .3 3.2 .4-2.9 .3 3.4 .3-2.2 .4 2.6 .3-2.2 .4 2.7 .3-2.3 .3 2.2 .4-.6 .3 1.4 .4-1 .3 1.8 .3-1.8 .4 2 .3-1.4 .4 3.1 .3-2.2 .3 3.1 .4-3.2 .3 2.7 .4-1.9 .3 2.9 .3-2.1 .4 2.8 .3-2.1 .4 1.7 .3-1.5 .3 2 .4-1.8 .3 1.8 .4-1.3 .3 2.1 .3-2.4 .4 3 .3-1.4 .4 1.2 .3-1.6 .3 2.2 .4-1.7 .3 2.6 .4-2.5 .3 2.2 .3-2.1 .4 2.6 .3-2.1 .4 2.4 .3-2.8 .3 2.4 .4-2 .3 2.3 .4-2.6 .3 3.2 .3-2.3 .4 2.8 .3-2.3 .4 3.2 .3-2.7 .3 1.5 .4-1.9 .3 2.4 .4-1.7 .3 1.7 .3-1.9 .4 2.5 .3-2.9 .4 2 .3-1.7 .3 2.5 .4-2.7 .3 2.6 .4-.9 .3 1.5 .3-2 .4 2 .3-1.4 .4 1.6 .3-2.9 .3 2.5 .4-2 .3 2.8 .4-2.5 .3 3 .3-2.1 .4 2.9 .3-2.7 .4 2.2 .3-2.1 .3 2 .4-1.6 .3 2.4 .4-2.7 .3 1.6 .3-2.1 .4 1.6 .3-1.1 .4 1.6 .3-1.8 .3 2.2 .4-2.6 .3 2.6 .4-2.1 .3 2.7 .3-2 .4 2 .3-1.8 .4 2.1 .3-2.6 .3 2.3 .4-1.8 .3 1.7 .4-1.9 .3 2.2 .3-2.5 .4 2.1 .3-2.4 .4 2.6 .3-2.3 .3 2.3 .4-2.4 .3 2.1 .4-1.9 .3 1.7 .3-1.8 .4 2.5 .3-2.6 .4 3.6 .3-2.5 .3 2.8 .4-2.6 .3 2.5 .4-2.5 .3 2.5 .3-3.3 .4 3.1 .3-2 .4 1.9 .3-2.6 .3 2 .4-.8 .3 1.3 .4-2.7 .3 2.8 .3-2.7 .4 3.3 .3-2.8 .4 2.5 .3-2.7 .3 1.8 .4-2.3 .3 2.7 .4-2 .3 1.7 .3-2.2 .4 2.1 .3-2 .4 2.3 .3-1.7 .3 1.1 .4-2.1 .3 2.1 .4-1.8 .3 2.5 .3-2.6 .4 2 .3-1.5 .4 2.3 .3-2.7 .3 2.3 .4-1.6 .3 2.1 .4-3 .3 2.9 .3-2.1 .4 2.3 .3-2.4 .4 2.8 .3-1.9 .3 2 .4-1.9 .3 1.7 .4-2 .3 2.3 .3-2.1 .4 2.1 .3-2 .4 1.5 .3-2.6 .3 2.4 .4-2.7 .3 2.2 .4-1 .3 1.7 .3-2.4 .4 3.1 .3-2.9 .4 2.2 .3-2.1 .3 2.2 .4-1.4 .3 2.4 .4-3.3 .3 2.5 .3-2.8 .4 3.2 .3-2.9 .4 2.4 .3-2.2 .3 1.6 .4-2.1 .3 3.3 .4-2.8 .3 2.3 .3-2.2 .4 2.3 .3-2.5 .4 3 .3-2.4 .3 2.6 .4-2.8 .3 2.7 .4-2.6 .3 1.9 .3-2 .4 3 .3-3.1 .4 2.1 .3-2.2 .3 2.9 .4-2.7 .3 2 .4-1.9 .3 1.8 .3-1.5 .4 1.9 .3-2.4 .4 2.3 .3-3.5 .3 3.4 .4-2.9 .3 2.7 .4-1.7 .3 1.5 .3-1.5 .4 1.7 .3-1.8 .4 2.1 .3-1.7 .3 1 .4-1.2 .3 2.1 .4-2.4 .3 2.5 .3-2.8 .4 2.7 .3-2.4 .4 2.2 .3-2.5 .3 3.3 .4-2.4 .3 1.8 .4-1.8 .3 1.4 .3-1.2 .4 2 .3-2.4 .4 2.1 .3-2.3 .3 2.1 .4-1.9 .3 2.2 .4-1.6 .3 2 .3-2.2 .4 2.3 .3-2.7 .4 2.6 .3-2.5 .3 1.9 .4-1.8 .3 1.6 .4-1.7 .3 2.7 .3-2.2 .4 2.3 .3-2.5 .4 1.9 .3-2.4 .3 2.2 .4-1.7 .3 2.1 .4-3 .3 2.3 .3-1.6 .4 1.3 .3-1.4 .4 2.2 .3-2.4 .3 1.9 .4-1.6 .3 2.2 .4-2.7 .3 1.8 .3-2.1 .4 2.7 .3-2.3 .4 1.8 .3-1.3 .3 1.7 .4-1.5 .3 1.9 .4-2.6 .3 2.6 .3-2.2 .4 2.6 .3-2 .4 1 .3-1.4 .3 1.9 .4-1.6 .3 1.7 .4-1.9 .3 1.4 .3-1.8 .4 2.1 .3-1.9 .4 1.8 .3-2.1 .3 4.2 .4-4.5 .3 2.6 .4-2.7 .3 2.1 .3-3.1 .4 3.2 .3-2.5 .4 2.8 .3-2.6 .3 2.1 .4-2 .3 2.6 .4-2.3 .3 2.3 .3-2.4 .4 2.3 .3-1.9 .4 2.1 .3-2.6 .3 2.7 .4-2.3 .3 2.2 .4-2.9 .3 3.1 .3-2.4 .4 2.1 .3-2.2 .4 1.4 .3-1.3 .3 2.5 .4-2.6 .3 1.5 .4-2.2 .3 2.9 .3-2.8 .4 2.2 .3-1.6 .4 2.4 .3-2.1 .3 2 .4-2.1 .3 3 .4-2.6 .3 1.2 .3-1.2 .4 1.2 .3-1.6 .4 2.3 .3-2.2 .3 1.8 .4-1.8 .3 2.1 .4-1.6 .3 2.2 .3-3.4 .4 3.4 .3-2.7 .4 1.5 .3-1.8 .3 1.2 .4-1.6 .3 1.7 .4-1.9 .3 2.5 .3-1.5 .4 1.7 .3-1.4 .4 1.9 .3-2 .3 2.4 .4-2.6 .3 2 .4-2.6 .3 2.3 .3-1.5 .4 1.2 .3-2.2 .4 2.9 .3-2.9 .3 2.9 .4-2.1" stroke="#f01c1c" stroke-width="1.2"/>
<path d="M42.4 215.2l.3-4.3 .4 5.6 .3-3.7 .4 2.1 .3-2.2 .3 1.4 .4-2.9 .3 3 .4-1.8 .3 2.5 .3-3.7 .4 3.3 .3-2.8 .4 3.5 .3-4.6 .3 3.5 .4-4.2 .3 2.9 .4-3.4 .3 2.7 .3-4.2 .4 4.2 .3-3.9 .4 3 .3-4.4 .3 2.9 .4-4.6 .3 2.9 .4-2.6 .3 2.7 .3-3.5 .4 3.1 .3-4.2 .4 3 .3-3.3 .3 2.9 .4-3.2 .3 2.1 .4-3.5 .3 1.1 .3-2 .4 2.8 .3-4.6 .4 3.6 .3-4.8 .3 5.4 .4-5.8 .3 5 .4-5.5 .3 3.7 .3-4.4 .4 4.8 .3-5 .4 2.9 .3-3.1 .3 2.9 .4-4.9 .3 2.8 .4-3.7 .3 3.8 .3-4.8 .4 4 .3-5.6 .4 3 .3-3.9 .3 3.5 .4-5.5 .3 5 .4-4.2 .3 2.2 .3-5.1 .4 4.5 .3-6.4 .4 4.1 .3-4.3 .3 2.4 .4-4.8 .3 3.7 .4-4.7 .3 5.1 .3-5 .4 2.7 .3-2.8 .4 4.4 .3-4.4 .3 2.6 .4-4.4 .3 4.3 .4-5.8 .3 4.1 .3-4.8 .4 3.3 .3-4.9 .4 3.9 .3-5.6 .3 4.4 .4-4.7 .3 6 .4-7.9 .3 4.2 .3-6 .4 4.6 .3-6 .4 4.3 .3-4.4 .3 3.8 .4-5 .3 3.2 .4-3.7 .3 3.7 .3-4.2 .4 3.2 .3-4 .4 3.8 .3-6.4 .3 5 .4-5.5 .3 2.3 .4-4.8 .3 3.1 .3-4.5 .4 3.2 .3-4.2 .4 3.7 .3-5.5 .3 4.8 .4-6.7 .3 3.1 .4-5 .3 4 .3-4.1 .4 3.2 .3-3.6 .4 4.4 .3-5.2 .3 3.1 .4-4.3 .3 3.2 .4-6.2 .3 3.7 .3-4 .4 3.1 .3-4.9 .4 2.8 .3-5.7 .3 4.4 .4-4.7 .3 3.3 .4-4.1 .3 2.9 .3-4.9 .4 4.1 .3-6.8 .4 4.3 .3-4.7 .3 3.7 .4-4 .3 2.4 .4-4 .3 3.7 .3-3.3 .4 3.6 .3-3.9 .4 2 .3-4.3 .3 3.5 .4-4.9 .3 3 .4-5.3 .3 2.9 .3-4.8 .4 3.2 .3-4.2 .4 3.9 .3-5.7 .3 3.8 .4-6.3 .3 3.9 .4-5 .3 4.7 .3-4.4 .4 4.1 .3-4.5 .4 3.5 .3-4.9 .3 3.6 .4-6.6 .3 4.5 .4-5 .3 3.1 .3-4.7 .4 2.8 .3-3.8 .4 3.1 .3-5.1 .3 3.3 .4-3.9 .3 3.8 .4-5.8 .3 3.4 .3-5 .4 3.6 .3-4.7 .4 4.9 .3-5.1 .3 2.6 .4-5.4 .3 3.8 .4-4.6 .3 3.2 .3-4.2 .4 2.9 .3-5.7 .4 3.8 .3-4.5 .3 3.6 .4-4.9 .3 3.9 .4-4.4 .3 3.7 .3-3.8 .4 1.4 .3-2.8 .4 4.5 .3-4.4 .3 2.1 .4-4.5 .3 4.4 .4-5.8 .3 4.5 .3-5.2 .4 3.3 .3-5 .4 3.4 .3-4.7 .3 4.1 .4-4.7 .3 3.3 .4-4.3 .3 2.8 .3-3.3 .4 1.7 .3-1.5 .4 3 .3-3.9 .3 3.7 .4-2.7 .3 3.1 .4-4.8 .3 3.3 .3-3.9 .4 3.3 .3-4.7 .4 3.9 .3-2.9 .3 2.2 .4-4.1 .3 4.2 .4-3.3 .3 3.3 .3-3.5 .4 2.5 .3-2.8 .4 1.8 .3-2.8 .3 3.2 .4-4 .3 4.3 .4-4.6 .3 3.1 .3-3.3 .4 2.2 .3-3 .4 2.1 .3-1 .3 2.8 .4-4 .3 3.7 .4-4 .3 3 .3-3.7 .4 3.6 .3-2.6 .4 2.3 .3-2.9 .3 2 .4-4.2 .3 4.2 .4-4.2 .3 3.3 .3-3.1 .4 3.5 .3-3.2 .4 2.8 .3-2.2 .3 1.9 .4-2.3 .3 1.4 .4-2.9 .3 2.4 .3-2 .4 1.6 .3-2.2 .4 3 .3-2.6 .3 2.6 .4-3.7 .3 3.2 .4-1.4 .3 1.3 .3-2.8 .4 2.6 .3-1.8 .4 2.4 .3-3.7 .3 3.1 .4-2 .3 2.2 .4-3.1 .3 3.5 .3-3.3 .4 1.7 .3-2.3 .4 1.9 .3-2.5 .3 2.6 .4-2 .3 2.2 .4-2.5 .3 2.2 .3-1.6 .4 2.2 .3-2.7 .4 2.2 .3-2.6 .3 1.1 .4-1.8 .3 3.4 .4-3.4 .3 2.9 .3-3.2 .4 2.5 .3-2 .4 1.9 .3-3.6 .3 3.3 .4-3.5 .3 3 .4-2.6 .3 2.6 .3-2.6 .4 3.1 .3-2.1 .4 2 .3-2.4 .3 2.9 .4-1.8 .3 1.2 .4-1.4 .3 2.5 .3-4.6 .4 3.5 .3-2.7 .4 1.2 .3-1.2 .3 2.6 .4-2.3 .3 2.3 .4-2.9 .3 2.8 .3-2.6 .4 .8 .3-1.5 .4 2.4 .3-2.5 .3 4 .4-4.2 .3 3.7 .4-3.2 .3 4.3 .3-3.3 .4 2.2 .3-3 .4 3.1 .3-2.7 .3 2 .4-2.1 .3 1.9 .4-2.7 .3 3 .3-3 .4 3.8 .3-2.5 .4 2.6 .3-3.1 .3 3.2 .4-3.5 .3 3.1 .4-3.1 .3 2.7 .3-2.2 .4 2.8 .3-2.4 .4 3 .3-2.4 .3 2.3 .4-2.2 .3 2.1 .4-3.3 .3 3.1 .3-3 .4 3.3 .3-3.9 .4 2 .3-2 .3 2.8 .4-2.9 .3 2.7 .4-2.2 .3 2.4 .3-2.7 .4 3.1 .3-3 .4 2.2 .3-2.1 .3 2.1 .4-1.4 .3 2.2 .4-1.8 .3 2.1 .3-3 .4 1.7 .3-2.1 .4 3 .3-2.4 .3 2.5 .4-3.3 .3 3.1 .4-2.9 .3 2 .3-2 .4 1.6 .3-3 .4 3.2 .3-2.7 .3 3.8 .4-3 .3 2.1 .4-1.9 .3 3.6 .3-2.3 .4 1.8 .3-3.4 .4 2.6 .3-4 .3 4.7 .4-3.9 .3 2.5 .4-2.1 .3 2.2 .3-2.3 .4 2.7 .3-2.7 .4 2.6 .3-3.8 .3 4.3 .4-3.4 .3 1.5 .4-1.8 .3 3.7 .3-2.8 .4 2.3 .3-2.5 .4 2.3 .3-2.8 .3 2.7 .4-1 .3 2.1 .4-1.7 .3 1.7 .3-3.2 .4 1.7 .3-2.3 .4 2.9 .3-3.1 .3 3.2 .4-2.5 .3 1.8 .4-.9 .3 1.4 .3-1.3 .4 2.7 .3-3.7 .4 2.4 .3-2.6 .3 3.3 .4-2.5 .3 2.3 .4-3.4 .3 2.6 .3-2.6 .4 2.7 .3-2.1 .4 2.1 .3-2.8 .3 2.9 .4-1.8 .3 2.3 .4-3.3 .3 2.9 .3-2.1 .4 2.5 .3-2.9 .4 2.7 .3-3.5 .3 3 .4-1.8 .3 2.4 .4-1.7 .3 3.4 .3-4.5 .4 1.7 .3-2 .4 2.5 .3-3.3 .3 3.1 .4-2.6 .3 2.3 .4-3 .3 3.5 .3-2.1 .4 2.3 .3-2.1 .4 2.6 .3-2.2 .3 3.1 .4-2.2 .3 2.3 .4-2.7 .3 1.7 .3-2.4 .4 2.2 .3-2.3 .4 1.9 .3-2.7 .3 2.3 .4-1.9 .3 2.6 .4-1.9 .3 2.5 .3-3.2 .4 3.4 .3-3.9 .4 3.2 .3-2.4 .3 2 .4-2.7 .3 3.6 .4-3.8 .3 2.3 .3-2.4 .4 3.1 .3-2.7 .4 2 .3-.8 .3 .9 .4-3.3 .3 3.4 .4-1.7 .3 1.1 .3-1.8 .4 2.9 .3-4 .4 2.3 .3-1.9 .3 2.4 .4-2.5 .3 3.2 .4-1.7 .3 2.4 .3-1.7 .4 2.6 .3-3.2 .4 2.3 .3-.7 .3 2.3 .4-4.6 .3 3 .4-3.5 .3 3.6 .3-2.6 .4 2.5 .3-2.6 .4 3.3 .3-3.4 .3 1.1 .4-2.4 .3 4.1 .4-2.7 .3 1.9 .3-1.9 .4 2.2 .3-2.8 .4 3.2 .3-2.4 .3 2 .4-2.8 .3 2.8 .4-3.8 .3 3.4 .3-2.4 .4 3.2 .3-2.3 .4 2.9 .3-3.5 .3 1.9 .4-1.9 .3 2.8 .4-2.9 .3 2.1 .3-3.6 .4 2.7 .3-3.2 .4 5.2 .3-3.7 .3 3.1 .4-3.3 .3 4.6 .4-2.7 .3 1.8 .3-2.3 .4 1.8 .3-1.7 .4 2.6 .3-3.6 .3 2.7 .4-3.7 .3 3.5 .4-1.8 .3 2.8 .3-2 .4 2 .3-2.7 .4 3.4 .3-3.5 .3 2.8 .4-2.6 .3 1.7 .4-2.3 .3 2.1 .3-3.3 .4 3.7 .3-3.6 .4 4.4 .3-4 .3 4.1 .4-2.4 .3 1.4 .4-1.3 .3 2.4 .3-1.7 .4 1.6 .3-1.6 .4 2.1 .3-2.7 .3 1.3 .4-2.9 .3 2.1 .4-2.4 .3 3.7 .3-3 .4 2 .3-1.6 .4 1.2 .3-2.1 .3 3.4 .4-2.4 .3 1.5 .4-2.4 .3 3.6 .3-3.1 .4 2.1 .3-1.4 .4 2 .3-3 .3 4.3 .4-3.8 .3 2.6 .4-2.3 .3 2.7 .3-2.1 .4 1.9 .3-2.8 .4 2.1 .3-1.7 .3 2.6 .4-3.6 .3 3.3 .4-2.9 .3 4 .3-3.4 .4 2.5 .3-1.9 .4 1.8 .3-2.7 .3 2.5 .4-1.8 .3 1.1 .4-1.1 .3 1.3 .3-2.5 .4 2.7 .3-2.2 .4 2.6 .3-3.5 .3 2.7 .4-1.8 .3 2.1 .4-3.3 .3 2.5 .3-1.8 .4 2.9 .3-2.9 .4 2.9 .3-2.3 .3 3.6 .4-2.5 .3 3 .4-4.1 .3 2 .3-3 .4 2.8 .3-1.7 .4 2.1 .3-2.4 .3 3 .4-3.1 .3 3.3 .4-3.8 .3 3.5 .3-4.6 .4 4.6 .3-1.6 .4 .9 .3-1.3 .3 1.6 .4-2.6 .3 2.4 .4-1.3 .3 1.1 .3-2.8 .4 1.6 .3-2 .4 3.4 .3-2.4 .3 2.4 .4-2.7 .3 2.4 .4-3 .3 3.5 .3-3.7 .4 2.8 .3-2.2 .4 3.2 .3-3.4 .3 2.7 .4-1 .3 .9 .4-1.1 .3 1.9 .3-3.1 .4 2.7 .3-2.2 .4 3.6 .3-4.7 .3 2.7 .4-1.5 .3 2 .4-1.3 .3 1.1 .3-3.7 .4 5.4 .3-3.6 .4 2.2 .3-2.3 .3 3.6 .4-2 .3 .6 .4-2.8 .3 3.8 .3-3.8 .4 3.5 .3-3.6 .4 2.9 .3-2.4 .3 4 .4-4.4 .3 2.7 .4-2.9 .3 2.8 .3-1.6 .4 1.9 .3-3.7 .4 3.7 .3-2.2 .3 2.3 .4-3.1 .3 3 .4-1 .3 2.2 .3-4 .4 3.6 .3-1.6 .4 1 .3-2.3 .3 3.8 .4-3.1 .3 2.6 .4-2.9 .3 2.7 .3-2.3 .4 1.8 .3-2.5 .4 2.1 .3-3.2 .3 3.7 .4-2.1 .3 3 .4-3 .3 2.4 .3-3.7 .4 4.1 .3-2.1 .4 2 .3-4.1 .3 4.1 .4-2.5 .3 .6 .4-1.8 .3 2.3 .3-3.1 .4 2.9 .3-3.2 .4 3.8 .3-1.7 .3 1.1 .4-2.1 .3 2.5 .4-3.2 .3 2.9 .3-2.8 .4 2.3 .3-.7 .4 1.1 .3-2.4 .3 2.8 .4-1.5 .3 2.2 .4-3.9 .3 3.8 .3-1.9 .4 1.9 .3-3.3 .4 3.9 .3-3.4 .3 4 .4-4.2 .3 2.5 .4-2.4 .3 3.7 .3-3.7 .4 3.1 .3-2.6 .4 1.8 .3-2 .3 2.7 .4-2.8 .3 2.3 .4-1.6 .3 1.9 .3-2.4 .4 2.9 .3-2.9 .4 3.9 .3 .3 .3 4.2 .4 .5 .3 5.7 .4 .7 .3 4.3 .3-.2 .4 5.2 .3 .5 .4 5.8 .3-1.6 .3 6.4 .4-1.4 .3 4.3 .4 0 .3 6.2 .3-1.6 .4 6 .3-1.4 .4 4.7 .3-1.2 .3 6.1 .4-1.3 .3 4.7 .4-1.5 .3 4.7 .3-1.2 .4 5.2 .3-1.8 .4 5.5 .3-.6 .3 3.9 .4-1 .3 3.6 .4-.8 .3 3.6 .3-.5 .4 5.9 .3-1.6 .4 4.1 .3-2.5 .3 5.1 .4-.9 .3 3.8 .4-2 .3 4.1 .3-1.7 .4 5 .3-2.2 .4 4.1 .3-2.6 .3 4.5 .4-2 .3 4.8 .4-2.5 .3 3.6 .3-1.8 .4 4.8 .3-2.4 .4 4.1 .3-2.4 .3 3.3 .4-.8 .3 4.2 .4-2.3 .3 2.4 .3-1.1 .4 3.1 .3-2.8 .4 4.3 .3-1.9 .3 3.3 .4-1.8 .3 2.8 .4-1.1 .3 2.7 .3-1.9 .4 3.3 .3-2.5 .4 2.6 .3-1.3 .3 2.3 .4-2.2 .3 2.8 .4-1.3 .3 3.1 .3-1.1 .4 4 .3-2.7 .4 .7 .3-2 .3 4 .4-1.9 .3 3.3 .4-2.1 .3 2.7 .3-3.4 .4 3.6 .3-2.6 .4 3.7 .3-4.4 .3 3.4 .4-1.9 .3 2.8 .4-1.4 .3 2.4 .3-1.5 .4 1.5 .3-.2 .4 .9 .3-1.9 .3 4 .4-2.8 .3 2.3 .4-2.6 .3 3.7 .3-3.4 .4 3 .3-3.5 .4 3.5 .3-1.8 .3 2 .4-1.9 .3 2.6 .4-3 .3 3.8 .3-2.7 .4 3.6 .3-4.3 .4 3 .3-3 .3 3.7 .4-2.3 .3 2.6 .4-2.3 .3 2.1 .3-.8 .4 1.4 .3-2.4 .4 2.6 .3-1.8 .3 4.1 .4-4.1 .3 3.4 .4-3.1 .3 3.6 .3-1.9 .4 2.3 .3-2 .4 2.9 .3-3.4 .3 2.5 .4-2.4 .3 2.5 .4-2.6 .3 2.8 .3-2.4 .4 1.9 .3-2.3 .4 2.2 .3-1.9 .3 3.1 .4-1.9 .3 1.5 .4-2 .3 2.2 .3-2.5 .4 2.4 .3-2 .4 2.7 .3-3.7 .3 3.1 .4-3 .3 3.3 .4-2.4 .3 2.6 .3-4.3 .4 4.9 .3-4.2 .4 3.4 .3-2.5 .3 4.5 .4-4.1 .3 3.8 .4-4 .3 4.2 .3-4.2 .4 3.5 .3-3.6 .4 2.6 .3-4 .3 5.1 .4-2.8 .3 3.5 .4-2.5 .3 2.4 .3-1.7 .4 2.6 .3-2.4 .4 2.1 .3-2.8 .3 1.6 .4-2.5 .3 2.6 .4-2.3 .3 2.5 .3-3.7 .4 3.1 .3-2.2 .4 2.7 .3-2 .3 2 .4-3.1 .3 2.3 .4-1.7 .3 1.5 .3-3.3 .4 3.4 .3-2.5 .4 3.2 .3-3.3 .3 3.5 .4-2.7 .3 1.7 .4-3.5 .3 4.3 .3-2.3 .4 2.4 .3-3 .4 2.7 .3-2.5 .3 3.1 .4-3.7 .3 3.5 .4-2.7 .3 1.7 .3-1 .4 2.1 .3-1.7 .4 1.2 .3-3.1 .3 3.4 .4-2.5 .3 3.1 .4-2.7 .3 2.8 .3-2.5 .4 3.3 .3-3.3 .4 1.6 .3-1.3 .3 2.7 .4-2.3 .3 2.6 .4-3.2 .3 3.8 .3-3.1 .4 2.8 .3-2.6 .4 1.6 .3-2.2 .3 5.8 .4-6 .3 2.9 .4-2.4 .3 1.8 .3-2.3 .4 3.1 .3-3.3 .4 3.4 .3-3.4 .3 2.3 .4-1.7 .3 2.7 .4-2 .3 2.6 .3-3.9 .4 3.2 .3-3 .4 3.7 .3-3 .3 2 .4-3.1 .3 3.6 .4-3.9 .3 3.4 .3-3.2 .4 2.5 .3-1.8 .4 2.2 .3-1.4 .3 1.9 .4-3 .3 3.8 .4-2.8 .3 3.7 .3-3.2 .4 3.2 .3-4.3 .4 4.2 .3-3.7 .3 3.3 .4-2.8 .3 2.6 .4-2.9 .3 3.4 .3-1.8 .4 1.4 .3-3.1 .4 2.4 .3-2.2 .3 2.4 .4-2.3 .3 3.1 .4-4.5 .3 4.2 .3-2.4 .4 2.5 .3-3 .4 3.6 .3-2.2 .3 1.8 .4-1.8 .3 1.8 .4-3.2 .3 2.9 .3-3.1 .4 3.6 .3-2.7 .4 2.6 .3-3.4 .3 3.4 .4-2.6 .3 1.9 .4-3 .3 3.1 .3-1.8 .4 2.1 .3-1.8 .4 2.1 .3-3.5 .3 4.3 .4-3.8 .3 4.2 .4-2.7 .3 2.1 .3-3.8 .4 4.5 .3-3 .4 .8 .3-2.1 .3 2.4 .4-2 .3 2.7 .4-2.5 .3 .6 .3-.8 .4 2.9 .3-2.8 .4 3.5 .3-3.5 .3 2.5 .4-2.1 .3 1.8 .4-1.8 .3 2.8 .3-3.8 .4 4.2 .3-3.7 .4 1.5 .3-1.9 .3 3.3 .4-2.5 .3 1 .4-1.3 .3 3.3 .3-2.5 .4 1.8 .3-1.7 .4 1.5 .3-1.3 .3 1.9 .4-2.7 .3 2.1 .4-.9 .3 2.3 .3-3.1 .4 2.3 .3-1.8 .4 2.5 .3-2.1 .3 1.7 .4-2.3 .3 2.9 .4-2.7 .3 1.1 .3-2.4 .4 3.4 .3-3.1 .4 2.1 .3-2.7 .3 2.6 .4-3.2 .3 3.3 .4-2.5 .3 2.9 .3-2.1 .4 1.8 .3-1.5 .4 1.5 .3-2 .3 2 .4-3.1 .3 3.7 .4-3.2 .3 3.7 .3-1.9 .4 2.1 .3-2.5 .4 2.8 .3-1.7 .3 1.8 .4-3.6 .3 3.9 .4-3 .3 2.3 .3-4 .4 4.2 .3-4.4 .4 3.1 .3-2.7 .3 3 .4-3 .3 2.7 .4-2.9 .3 2.7 .3-2 .4 2.5 .3-2.6 .4 2.4 .3-1.3 .3 1.6 .4-2.7 .3 2.5 .4-2.3 .3 3 .3-2.6 .4 2.9 .3-3.3 .4 3.2 .3-4.1 .3 3 .4-2.8 .3 2.4 .4-2.3 .3 3.2 .3-1.9 .4 2.4 .3-3.9 .4 3.1 .3-2.1 .3 3.4 .4-4.1 .3 4.8 .4-3.3 .3 2.2 .3-2.2 .4 1.9 .3-3.3 .4 3 .3-3.4 .3 2.1 .4-1.2 .3 3.1 .4-3.7 .3 3.4 .3-2.3 .4 2.4 .3-2.4 .4 1.7 .3-2.3 .3 2.9 .4-2.2 .3 1.5 .4-1.6 .3 3.3 .3-2.2 .4 2.1 .3-3.4 .4 2.2 .3-1.6 .3 2.4 .4-3.5 .3 3.6 .4-2.5 .3 1.7 .3-2.7 .4 2.5 .3-2.7 .4 1.5 .3-1.3 .3 1.2 .4-2.8 .3 2.7 .4-1.2 .3 2.3 .3-2.9 .4 4 .3-4.9 .4 4 .3-3.2 .3 1.7 .4-.9 .3 2.1 .4-1.9 .3 1.8 .3-.8 .4 1.9 .3-2.8 .4 3.9 .3-3.1 .3 2.4 .4-2.9" stroke="#1a56e8" stroke-width="1.2"/>
<path d="M42.4 210.4l.3-10.7 .4 10.6 .3-9.4 .4 8.1 .3-8.4 .3 10.8 .4-11.7 .3 10 .4-9.9 .3 9.2 .3-9.8 .4 10.4 .3-11 .4 11.5 .3-9.7 .3 8.7 .4-11.1 .3 10.8 .4-9.4 .3 9.7 .3-11.6 .4 11.1 .3-10.5 .4 10.1 .3-12.1 .3 10.8 .4-12.1 .3 12.3 .4-9.5 .3 8.3 .3-9.8 .4 10 .3-10.7 .4 10.5 .3-12.1 .3 11.5 .4-12.5 .3 10.6 .4-9.7 .3 9.7 .3-11.1 .4 10.4 .3-11.7 .4 9.6 .3-11.7 .3 11.4 .4-10.3 .3 8.1 .4-10.5 .3 10.2 .3-10.7 .4 8.5 .3-10 .4 10.6 .3-11.4 .3 10.9 .4-11.4 .3 11.3 .4-12.4 .3 10.1 .3-11.2 .4 10.6 .3-9.6 .4 9 .3-10.3 .3 9.4 .4-11.6 .3 9.7 .4-10.3 .3 10.6 .3-9.8 .4 9.3 .3-10.5 .4 7.9 .3-10.1 .3 11 .4-10.6 .3 9.7 .4-12.2 .3 9.7 .3-11.5 .4 11.5 .3-10 .4 7.2 .3-9 .3 9.1 .4-10.5 .3 8.1 .4-10 .3 11 .3-13.3 .4 8.7 .3-8.5 .4 10 .3-8 .3 6.8 .4-9.6 .3 10.6 .4-11.2 .3 8.5 .3-10.4 .4 9.6 .3-10.7 .4 9.3 .3-12.2 .3 9 .4-9.8 .3 10.1 .4-9 .3 10.1 .3-10.4 .4 10.1 .3-11.3 .4 10.8 .3-10.7 .3 7.3 .4-10.4 .3 10.4 .4-11.5 .3 9.3 .3-10.5 .4 8.8 .3-8.7 .4 8.3 .3-10.9 .3 9.4 .4-9.9 .3 7.6 .4-9.4 .3 9.1 .3-9.5 .4 9.4 .3-10.6 .4 10.7 .3-11.8 .3 10 .4-12.1 .3 11.6 .4-11.8 .3 8.4 .3-11 .4 9.6 .3-9 .4 8.8 .3-10.5 .3 7.6 .4-8.9 .3 8.7 .4-9.3 .3 8.6 .3-9.8 .4 9.1 .3-11.1 .4 8.9 .3-9.9 .3 9.4 .4-11.2 .3 10.5 .4-10.1 .3 8.6 .3-11.8 .4 10.1 .3-11.1 .4 11 .3-10.4 .3 6.8 .4-9.3 .3 8.2 .4-7.5 .3 6.3 .3-9 .4 9.6 .3-9.8 .4 8.7 .3-9.7 .3 8.9 .4-10.2 .3 8.9 .4-7.3 .3 6.7 .3-10.2 .4 8.5 .3-10.8 .4 8.4 .3-6.1 .3 6.7 .4-10.9 .3 7.3 .4-7.5 .3 8.4 .3-9.2 .4 7.4 .3-11.5 .4 11.6 .3-10.5 .3 8.4 .4-9.2 .3 7.7 .4-9.3 .3 7.3 .3-7.9 .4 8.4 .3-10.9 .4 6.9 .3-8.3 .3 8.6 .4-12 .3 8.7 .4-9 .3 9 .3-9.6 .4 7.1 .3-7.6 .4 7.5 .3-8.6 .3 6.7 .4-7.8 .3 8.6 .4-11 .3 8.5 .3-10.3 .4 8.8 .3-8.5 .4 6.8 .3-9.2 .3 8.6 .4-7.9 .3 6.3 .4-10.2 .3 9.8 .3-10.2 .4 9.2 .3-8.4 .4 6.3 .3-7 .3 5.8 .4-7.6 .3 8.2 .4-9.3 .3 8.8 .3-11.1 .4 9.3 .3-8.2 .4 8.7 .3-8.4 .3 6.9 .4-8.8 .3 7 .4-7.6 .3 9 .3-7.9 .4 4.1 .3-6.2 .4 6.8 .3-7 .3 7.8 .4-8.6 .3 8.2 .4-10 .3 8.1 .3-6.7 .4 4.2 .3-4.2 .4 4.8 .3-7 .3 7.1 .4-6.4 .3 5.8 .4-5.6 .3 4.7 .3-6.5 .4 6.1 .3-6.7 .4 6.6 .3-7 .3 7.6 .4-8.2 .3 9 .4-7.8 .3 6.1 .3-6 .4 6.5 .3-7.7 .4 7.6 .3-7.3 .3 7.2 .4-7.5 .3 7.4 .4-6.9 .3 5.8 .3-7.8 .4 6.6 .3-6.2 .4 7.1 .3-8.3 .3 5.3 .4-4.9 .3 6.3 .4-7.5 .3 7.8 .3-9.2 .4 8.4 .3-7 .4 6.6 .3-5.7 .3 6.5 .4-6.8 .3 6 .4-6 .3 6.4 .3-7.6 .4 5.7 .3-3.7 .4 5 .3-6.1 .3 7.4 .4-7.2 .3 9.6 .4-8.8 .3 8.5 .3-7.3 .4 6.9 .3-8.1 .4 7.8 .3-7.5 .3 6.5 .4-8.9 .3 6.9 .4-4.6 .3 5.7 .3-8.9 .4 9 .3-7.9 .4 8.7 .3-9.2 .3 5.4 .4-5.9 .3 6.6 .4-6.1 .3 6.2 .3-7.3 .4 6.6 .3-6.3 .4 7.4 .3-5.8 .3 6.7 .4-6.7 .3 6.5 .4-7.1 .3 6.8 .3-5.2 .4 4.1 .3-6.2 .4 6.8 .3-7.7 .3 7 .4-5.4 .3 4.4 .4-5.8 .3 5.7 .3-6.3 .4 7 .3-6.9 .4 7.3 .3-7.2 .3 6.6 .4-7 .3 6.8 .4-8 .3 8.2 .3-6.9 .4 6.6 .3-6.5 .4 7.6 .3-7.2 .3 5.4 .4-5.8 .3 6.5 .4-6.6 .3 7.1 .3-8.2 .4 7 .3-5.2 .4 6.7 .3-6.7 .3 6.6 .4-8 .3 5.1 .4-6 .3 8.9 .3-8.3 .4 5.5 .3-6.1 .4 7 .3-6 .3 6.9 .4-6.2 .3 4.4 .4-5.3 .3 6.4 .3-6.3 .4 5.3 .3-6.4 .4 7.8 .3-6.4 .3 5.9 .4-6 .3 7.4 .4-6.5 .3 5.2 .3-5.6 .4 6 .3-6.4 .4 7.5 .3-8.4 .3 8.2 .4-7.4 .3 6.6 .4-6.5 .3 7.2 .3-6.3 .4 5.6 .3-6.4 .4 6.3 .3-8.4 .3 8.5 .4-6.9 .3 6.7 .4-6.5 .3 7.7 .3-8.1 .4 10.1 .3-8 .4 6.1 .3-7.1 .3 6.9 .4-7.6 .3 6.3 .4-5.5 .3 6.2 .3-7.5 .4 6.9 .3-4.4 .4 6.2 .3-8.9 .3 8.3 .4-7.2 .3 6.3 .4-6.5 .3 7.2 .3-6.8 .4 7 .3-6.9 .4 6.9 .3-5.6 .3 5 .4-6.6 .3 6 .4-6.9 .3 5.9 .3-8 .4 8.4 .3-6.6 .4 8 .3-7.2 .3 6 .4-6.7 .3 6.3 .4-5.8 .3 6.3 .3-5.9 .4 5.5 .3-6.9 .4 7.9 .3-7.3 .3 8.6 .4-9.2 .3 8 .4-6.5 .3 6.4 .3-6.7 .4 6.6 .3-7.4 .4 6.6 .3-6.3 .3 7.1 .4-6.5 .3 6.8 .4-7.9 .3 6.8 .3-8.4 .4 10.5 .3-8.6 .4 5.8 .3-5.4 .3 6.3 .4-7.1 .3 5.4 .4-4.7 .3 5.5 .3-5.7 .4 6.6 .3-6.2 .4 6.5 .3-7.5 .3 8.3 .4-5.2 .3 5.4 .4-7.2 .3 6.8 .3-6.5 .4 7.2 .3-5.9 .4 3.3 .3-5.2 .3 6.4 .4-6.2 .3 7.3 .4-6.6 .3 7.8 .3-6.6 .4 5.7 .3-5.8 .4 6.2 .3-7.5 .3 7.4 .4-6.9 .3 5.5 .4-6 .3 7.7 .3-8.4 .4 9.4 .3-8.9 .4 6.3 .3-6.1 .3 6.3 .4-7.4 .3 6.7 .4-6.3 .3 7.4 .3-6.5 .4 6.5 .3-6.6 .4 6.6 .3-6.7 .3 6.5 .4-6 .3 6.8 .4-5.2 .3 4.6 .3-6 .4 7.1 .3-8.6 .4 6.9 .3-6.3 .3 5.4 .4-7 .3 8.4 .4-6 .3 4.6 .3-5 .4 5.2 .3-6.8 .4 7.9 .3-7.3 .3 6.8 .4-8.3 .3 7.4 .4-7.3 .3 4.6 .3-4.5 .4 5.3 .3-6.2 .4 8.3 .3-6.9 .3 7.4 .4-7 .3 6.6 .4-6.7 .3 8.1 .3-7.3 .4 5.6 .3-4.8 .4 6.5 .3-6.6 .3 6.4 .4-6.9 .3 5.2 .4-5.2 .3 5.3 .3-5.3 .4 5.3 .3-7.3 .4 8.1 .3-7.1 .3 6.4 .4-6.2 .3 7.2 .4-8.2 .3 6.8 .3-5.2 .4 6 .3-6.7 .4 7 .3-7 .3 6.5 .4-7.1 .3 6.8 .4-6.1 .3 7.4 .3-7.9 .4 8.5 .3-8.1 .4 8.2 .3-7.3 .3 7.4 .4-7.9 .3 7.6 .4-5.4 .3 4.3 .3-7 .4 8.9 .3-7.8 .4 7.4 .3-7.6 .3 7.5 .4-6.1 .3 5.5 .4-6 .3 6.5 .3-6.7 .4 5.9 .3-6.8 .4 5 .3-7.5 .3 9.7 .4-8.4 .3 6.9 .4-6.9 .3 8.8 .3-9.6 .4 8.7 .3-5.4 .4 5.9 .3-6.6 .3 6.9 .4-6.5 .3 5.4 .4-7.4 .3 6.8 .3-7.9 .4 6.8 .3-4.7 .4 5.8 .3-6.4 .3 7.4 .4-5.9 .3 7 .4-7.8 .3 6.6 .3-6.8 .4 6.5 .3-7.6 .4 7.4 .3-6.4 .3 5.4 .4-5.4 .3 7 .4-7.2 .3 6.8 .3-5.8 .4 6.7 .3-7.7 .4 7.4 .3-8.7 .3 8.7 .4-7.9 .3 6.4 .4-6.3 .3 5.9 .3-6.9 .4 7.7 .3-6.9 .4 6.6 .3-5.4 .3 6.7 .4-6.8 .3 7.9 .4-5.1 .3 4.9 .3-8.9 .4 8.6 .3-7.9 .4 7.2 .3-6.7 .3 6.6 .4-7.1 .3 6.3 .4-5.1 .3 6.3 .3-5.9 .4 6.2 .3-6.2 .4 5.4 .3-6.8 .3 6 .4-5.6 .3 5.2 .4-5.2 .3 4.5 .3-6.3 .4 8.1 .3-7.3 .4 6.1 .3-7.3 .3 8.8 .4-6.8 .3 6.9 .4-8.1 .3 8.4 .3-6.5 .4 5.7 .3-6.8 .4 9.2 .3-9 .3 8.4 .4-9.7 .3 6.7 .4-5.5 .3 7.4 .3-8.6 .4 8.6 .3-7.1 .4 7 .3-7.1 .3 9.2 .4-7.7 .3 4.6 .4-5.6 .3 7.7 .3-7.7 .4 6.7 .3-5.2 .4 5.6 .3-5.5 .3 4.9 .4-4.6 .3 5.1 .4-7.5 .3 7.8 .3-7 .4 8.9 .3-9 .4 6.2 .3-6.5 .3 6.3 .4-6.9 .3 7.8 .4-7.6 .3 5.2 .3-7.3 .4 7.2 .3-5.6 .4 6.8 .3-6 .3 6.5 .4-6.9 .3 7.7 .4-6.9 .3 6 .3-6.3 .4 5.3 .3-7 .4 6.6 .3-7.2 .3 6.5 .4-5.1 .3 6.8 .4-6.9 .3 6.8 .3-5.8 .4 5.7 .3-5.5 .4 5 .3-5 .3 7.8 .4-9 .3 8.2 .4-7.3 .3 7.6 .3-7.3 .4 6.3 .3-6.2 .4 4.4 .3-4.7 .3 7.1 .4-8 .3 5.9 .4-6.6 .3 7.6 .3-6.2 .4 3.8 .3-5.5 .4 6.4 .3-6.1 .3 5.9 .4-7.1 .3 6.5 .4-3.6 .3 5.2 .3-4.7 .4 5.4 .3-6.2 .4 6.4 .3-6.2 .3 8.3 .4-8.9 .3 9 .4-9.4 .3 7.7 .3-8.1 .4 9 .3-8.9 .4 8.1 .3-4.9 .3 4 .4-6.3 .3 7.1 .4-7 .3 7.4 .3-6.7 .4 5 .3-7.2 .4 8.1 .3-6.7 .3 7.9 .4-8.7 .3 6.4 .4-6.3 .3 5.8 .3-5.4 .4 6.5 .3-5.6 .4 7.2 .3-10 .3 9 .4-7.7 .3 9.2 .4-7.9 .3 7.5 .3-8.1 .4 6 .3-4.6 .4 5.7 .3-7 .3 6.7 .4-8.1 .3 7.7 .4-5.3 .3 6.6 .3-10.4 .4 9.1 .3-7.3 .4 7.9 .3-6.5 .3 5.4 .4-5.7 .3 6.3 .4-7.1 .3 6.9 .3-6.5 .4 5.5 .3-4.6 .4 7.4 .3-7.2 .3 7.5 .4-7.3 .3 5.7 .4-5.8 .3 5.8 .3-7.3 .4 5.4 .3-6.5 .4 9.5 .3-4.5 .3 10.1 .4-3.9 .3 10.4 .4-5.1 .3 9.3 .3-3 .4 10.3 .3-4.8 .4 9.4 .3-4.6 .3 9.1 .4-3.6 .3 7 .4-3.2 .3 9.8 .3-5.7 .4 8.3 .3-4.9 .4 9.6 .3-5.1 .3 9.3 .4-5.6 .3 8.9 .4-3.9 .3 8.8 .3-6.1 .4 8.2 .3-4.1 .4 9.6 .3-5.2 .3 8.2 .4-6.5 .3 10.2 .4-7.4 .3 8.4 .3-6.8 .4 9.9 .3-6.3 .4 7.9 .3-5.5 .3 8.4 .4-4.7 .3 6.8 .4-3.6 .3 7.3 .3-4.3 .4 5.8 .3-5 .4 7.9 .3-5.7 .3 6.4 .4-5.1 .3 5.7 .4-4.9 .3 8.6 .3-7.4 .4 8.1 .3-7.4 .4 9.1 .3-7.1 .3 8.3 .4-6.7 .3 6.6 .4-3.2 .3 5.9 .3-6.5 .4 8.6 .3-6 .4 6.5 .3-6.1 .3 6.3 .4-6.1 .3 6.1 .4-6.5 .3 7.7 .3-7.3 .4 8 .3-7.2 .4 9 .3-6.4 .3 8.9 .4-6.8 .3 7.8 .4-6.4 .3 6.4 .3-4.1 .4 5.3 .3-6.1 .4 6.6 .3-8.3 .3 7.3 .4-5.5 .3 8.2 .4-6.7 .3 6.9 .3-6.3 .4 7.6 .3-7.9 .4 9.9 .3-9.2 .3 7.4 .4-7.9 .3 8.4 .4-5.5 .3 6.8 .3-7.3 .4 8 .3-6.6 .4 6.1 .3-7.8 .3 9.9 .4-8.7 .3 7.9 .4-6.4 .3 7.9 .3-6.9 .4 7 .3-6.3 .4 6.1 .3-6.1 .3 6.8 .4-6.1 .3 5.8 .4-6.8 .3 6 .3-5.7 .4 6.2 .3-6.7 .4 8.3 .3-7.9 .3 7.2 .4-6.4 .3 8.9 .4-9.2 .3 6.9 .3-6.5 .4 6.5 .3-6.3 .4 5.2 .3-5.1 .3 5.3 .4-5.3 .3 7.7 .4-8.1 .3 6.8 .3-5.1 .4 5.6 .3-5.1 .4 4.5 .3-6.3 .3 5.9 .4-6.8 .3 7.2 .4-6.5 .3 7.6 .3-8.4 .4 8 .3-7.3 .4 9 .3-7.3 .3 6.8 .4-6.7 .3 5.3 .4-7.1 .3 9.3 .3-7.4 .4 6.6 .3-6.2 .4 7.1 .3-7.7 .3 6.9 .4-7 .3 7.8 .4-6.3 .3 7.6 .3-6.9 .4 6.4 .3-6.9 .4 7.5 .3-8.6 .3 8.4 .4-7.1 .3 7.5 .4-8.4 .3 8.7 .3-8.3 .4 6.1 .3-6.5 .4 7.1 .3-7.2 .3 6.6 .4-5.7 .3 5.4 .4-6.3 .3 6.6 .3-5.2 .4 6 .3-6.2 .4 7.9 .3-8 .3 8.1 .4-8.9 .3 7.8 .4-6.4 .3 6.5 .3-7.2 .4 5.4 .3-6.3 .4 6.6 .3-5.7 .3 4.5 .4-5.1 .3 7.8 .4-7.2 .3 7.4 .3-6.8 .4 6.8 .3-7.9 .4 7.7 .3-7.4 .3 7.4 .4-7.8 .3 6.8 .4-7.4 .3 6.3 .3-8.4 .4 8.6 .3-7.6 .4 9.4 .3-5.7 .3 5.7 .4-7.6 .3 8.5 .4-7.2 .3 6 .3-5.9 .4 4.7 .3-5.7 .4 6.9 .3-8.2 .3 8.7 .4-7.8 .3 6.6 .4-5.2 .3 5.9 .3-8.2 .4 6.6 .3-4 .4 5.4 .3-7.3 .3 7 .4-5.3 .3 5.6 .4-7 .3 8.3 .3-7.7 .4 6.7 .3-7 .4 6.4 .3-6.9 .3 6.2 .4-5.1 .3 6.8 .4-6.3 .3 7.3 .3-5.3 .4 5.6 .3-7.3 .4 7.6 .3-7.7 .3 5 .4-5 .3 7 .4-7.6 .3 6.1 .3-5.9 .4 6.7 .3-6.6 .4 5.3 .3-5.4 .3 7.2 .4-9.1 .3 8.4 .4-6.9 .3 7.2 .3-7.3 .4 6.1 .3-5.8 .4 7 .3-8.1 .3 8 .4-6.1 .3 6.9 .4-7.9 .3 7.9 .3-6.8 .4 6.3 .3-5.5 .4 5.7 .3-4.4 .3 5.1 .4-7.4 .3 6.4 .4-7 .3 6.3 .3-7.4 .4 5.7 .3-5.3 .4 6.7 .3-6.6 .3 5.8 .4-5.3 .3 5.9 .4-5.7 .3 8.7 .3-8.7 .4 6.9 .3-6.6 .4 5.8 .3-6.8 .3 6.4 .4-6.5 .3 4.6 .4-4.2 .3 5.2 .3-5.7 .4 7.2 .3-6.5 .4 5.1 .3-6.2 .3 6.3 .4-6.1 .3 7.6 .4-6.4 .3 6.6 .3-6.8 .4 8.5 .3-7.1 .4 5.4 .3-7.2 .3 7.1 .4-6.3 .3 5.6 .4-7.3 .3 6.4 .3-6.2 .4 7.8 .3-6.7 .4 7.1 .3-8 .3 7.8 .4-8.2 .3 6.8 .4-6.4 .3 7.8 .3-7.7 .4 6.8 .3-6.6 .4 8.1 .3-6.6 .3 6.7 .4-6.9 .3 5.6 .4-6.9 .3 6.2 .3-6.8 .4 7.1 .3-7.1 .4 7.4 .3-7 .3 7.3 .4-8.1 .3 7 .4-6.4 .3 7.8 .3-6.8 .4 7.8 .3-9.2 .4 8.5 .3-5.7 .3 6.1 .4-7.4 .3 6.7 .4-6.9 .3 7.1 .3-8.2 .4 8.3 .3-7.3 .4 7.2 .3-7.9 .3 8.3 .4-7.7 .3 7.6 .4-6.8 .3 5.6 .3-3.8 .4 7 .3-7.7 .4 8 .3-10.2 .3 7.2 .4-6.2 .3 9.2 .4-8.6 .3 5.6 .3-6.9 .4 6.1 .3-6.3 .4 5.8 .3-7.6 .3 6.4 .4-6.6 .3 7.2 .4-6.6 .3 7.1 .3-6.4 .4 6.8 .3-5.9 .4 5.7 .3-6.9 .3 6.1 .4-5.6 .3 8.2 .4-6.9 .3 7.1 .3-8.7 .4 6.5 .3-6.4 .4 7.9 .3-6 .3 6.7 .4-7.8 .3 7.1 .4-4.4 .3 5.9 .3-6.3 .4 4.9 .3-5.4 .4 5 .3-5.3 .3 7.8 .4-6 .3 4.3 .4-6.9 .3 5.6 .3-6.5 .4 6.3 .3-7.4 .4 6.4 .3-5.1 .3 6.1 .4-7.3 .3 6.9 .4-6.1 .3 7.6 .3-5 .4 6.5 .3-8 .4 8.8 .3-9.9 .3 7.9 .4-6.7 .3 5.8 .4-5.1 .3 6.1 .3-6.8 .4 5.9 .3-6.1 .4 7.4 .3-7.8 .3 7.3 .4-6.6 .3 6.7 .4-8.7 .3 7.1 .3-4.6 .4 6.2 .3-7 .4 7.9 .3-8.8 .3 9.1 .4-7.9 .3 6.9 .4-6.9 .3 7.1 .3-8 .4 7.9 .3-6.8 .4 6.2 .3-6.8 .3 5.8 .4-6.7 .3 6.2 .4-7.5 .3 7.7 .3-8.6 .4 7.1 .3-4.1 .4 5 .3-5.7 .3 7.2 .4-8.2 .3 8.8 .4-9 .3 8.6 .3-7.8 .4 6.1 .3-6.9 .4 6.7 .3-5 .3 6.8 .4-6.8 .3 8 .4-6.7 .3 7.3 .3-7.7 .4 7 .3-12.1 .4 10.9 .3-5.2 .3 6.7 .4-7.2" stroke="#34a865" stroke-width="1.2"/>
<line x1="81.8" y1="146.5" x2="81.8" y2="156" stroke="#6cc490" stroke-width="1.1"/>
</g>
<clipPath id="cp1"><rect x="42.4" y="282.3" width="478.6" height="215.2"/></clipPath>
<g clip-path="url(#cp1)" fill="none" stroke-linejoin="round">
<path d="M42.4 497.8l.5 0 .5 0 .5 0 .5 0 .5-.1 .5 0 .5-.1 .5-.1 .5-.2 .5-.1 .5-.2 .5-.2 .5-.2 .5-.2 .5-.2 .5-.3 .5-.2 .5-.3 .5-.3 .5-.4 .5-.3 .5-.4 .5-.3 .5-.4 .5-.4 .5-.4 .5-.5 .5-.4 .5-.5 .5-.4 .5-.5 .5-.5 .5-.5 .5-.5 .5-.6 .5-.5 .5-.6 .5-.5 .5-.6 .5-.6 .5-.6 .5-.6 .5-.6 .5-.6 .5-.7 .5-.6 .5-.7 .5-.6 .5-.7 .5-.7 .5-.7 .5-.7 .5-.7 .5-.7 .5-.7 .5-.7 .5-.7 .5-.8 .5-.7 .5-.8 .5-.7 .5-.8 .5-.7 .5-.7 .5-.8 .5-.7 .5-.8 .5-.7 .5-.7 .5-.8 .5-.7 .5-.7 .5-.7 .5-.7 .5-.7 .5-.7 .5-.7 .5-.7 .5-.7 .5-.7 .5-.7 .5-.7 .5-.7 .5-.7 .5-.7 .5-.7 .5-.8 .5-.7 .5-.7 .5-.8 .5-.7 .5-.8 .5-.7 .5-.8 .5-.8 .5-.8 .5-.8 .5-.9 .5-.8 .5-.9 .5-.8 .5-.9 .5-.9 .5-.9 .5-.9 .5-.9 .5-1 .5-.9 .5-.9 .5-1 .5-.9 .5-1 .5-.9 .5-1 .5-.9 .5-1 .5-.9 .5-1 .5-.9 .5-1 .5-.9 .5-1 .5-.9 .5-.9 .5-.9 .5-.9 .5-1 .5-.9 .5-.9 .5-.9 .5-.9 .5-.8 .5-.9 .5-.9 .5-.9 .5-.9 .5-.9 .5-.9 .5-.8 .5-.9 .5-.9 .5-.9 .5-.9 .5-.9 .5-.9 .5-.8 .5-.9 .5-.9 .5-.9 .5-.9 .5-.9 .5-.9 .5-1 .5-.9 .5-.9 .5-.9 .5-.9 .5-1 .5-.9 .5-1 .5-.9 .5-1 .5-1 .5-.9 .5-1 .5-1 .5-1 .5-1 .5-.9 .5-1 .5-.9 .5-.9 .5-.9 .5-.8 .5-.9 .5-.8 .5-.8 .5-.8 .5-.7 .5-.7 .5-.7 .5-.7 .5-.7 .5-.6 .5-.7 .5-.6 .5-.6 .5-.6 .5-.5 .5-.6 .5-.5 .5-.5 .5-.5 .5-.5 .5-.5 .5-.5 .5-.5 .5-.5 .5-.4 .5-.5 .5-.4 .5-.5 .5-.4 .5-.5 .5-.4 .5-.4 .5-.4 .5-.4 .5-.4 .5-.4 .5-.4 .5-.4 .5-.4 .5-.3 .5-.4 .5-.4 .5-.3 .5-.4 .5-.3 .5-.4 .5-.4 .5-.3 .5-.3 .5-.4 .5-.3 .5-.4 .5-.3 .5-.4 .5-.3 .5-.4 .5-.3 .5-.3 .5-.4 .5-.3 .5-.3 .5-.4 .5-.3 .5-.3 .5-.3 .5-.3 .5-.3 .5-.3 .5-.3 .5-.3 .5-.2 .5-.3 .5-.3 .5-.2 .5-.3 .5-.2 .5-.3 .5-.2 .5-.3 .5-.2 .5-.2 .5-.2 .5-.3 .5-.2 .5-.2 .5-.2 .5-.2 .5-.2 .5-.2 .5-.2 .5-.2 .5-.2 .5-.2 .5-.2 .5-.1 .5-.2 .5-.2 .5-.2 .5-.1 .5-.2 .5-.2 .5-.1 .5-.2 .5-.2 .5-.1 .5-.2 .5-.1 .5-.2 .5-.1 .5-.2 .5-.1 .5-.2 .5-.1 .5-.2 .5-.1 .5-.2 .5-.1 .5-.1 .5-.2 .5-.1 .5-.1 .5-.1 .5-.2 .5-.1 .5-.1 .5-.1 .5-.2 .5-.1 .5-.1 .5-.1 .5-.1 .5-.2 .5-.1 .5-.1 .5-.1 .5-.1 .5-.1 .5-.1 .5-.1 .5-.1 .5-.1 .5-.1 .5-.1 .5-.1 .5-.1 .5-.1 .5-.1 .5-.1 .5-.1 .5-.1 .5-.1 .5-.1 .5-.1 .5-.1 .5-.1 .5-.1 .5-.1 .5-.1 .5 0 .5-.1 .5-.1 .5-.1 .5-.1 .5-.1 .5 0 .5-.1 .5-.1 .5-.1 .5-.1 .5 0 .5-.1 .5-.1 .5-.1 .5 0 .5-.1 .5-.1 .5 0 .5-.1 .5-.1 .5-.1 .5 0 .5-.1 .5 0 .5-.1 .5-.1 .5 0 .5-.1 .5 0 .5-.1 .5-.1 .5 0 .5-.1 .5 0 .5-.1 .5 0 .5-.1 .5 0 .5-.1 .5 0 .5-.1 .5 0 .5-.1 .5 0 .5-.1 .5 0 .5-.1 .5 0 .5-.1 .5 0 .5-.1 .5 0 .5 0 .5-.1 .5 0 .5-.1 .5 0 .5 0 .5-.1 .5 0 .5-.1 .5 0 .5 0 .5-.1 .5 0 .5 0 .5-.1 .5 0 .5-.1 .5 0 .5 0 .5-.1 .5 0 .5 0 .5-.1 .5 0 .5 0 .5-.1 .5 0 .5 0 .5 0 .5-.1 .5 0 .5 0 .5-.1 .5 0 .5 0 .5 0 .5-.1 .5 0 .5 0 .5-.1 .5 0 .5 0 .5 0 .5-.1 .5 0 .5 0 .5 0 .5-.1 .5 0 .5 0 .5 0 .5-.1 .5 0 .5 0 .5 0 .5 0 .5-.1 .5 0 .5 0 .5 0 .5-.1 .5 0 .5 0 .5 0 .5 0 .5-.1 .5 0 .5 0 .5 0 .5 0 .5 0 .5-.1 .5 0 .5 0 .5 0 .5 0 .5-.1 .5 0 .5 0 .5 0 .5 0 .5 0 .5-.1 .5 0 .5 0 .5 0 .5 0 .5 0 .5 0 .5-.1 .5 0 .5 0 .5 0 .5 0 .5 0 .5 0 .5-.1 .5 0 .5 0 .5 0 .5 0 .5 0 .5 0 .5 0 .5 0 .5-.1 .5 0 .5 0 .5 0 .5 0 .5 0 .5 0 .5 0 .5 0 .5 0 .5-.1 .5 0 .5 0 .5 0 .5 0 .5 0 .5 0 .5 0 .5 0 .5 0 .5 0 .5 0 .5-.1 .5 0 .5 0 .5 0 .5 0 .5 0 .5 0 .5 0 .5 0 .5 0 .5 0 .5 0 .5 0 .5-.1 .5 0 .5 0 .5 0 .5 0 .5 0 .5 0 .5 0 .5 0 .5 0 .5 0 .5 0 .5 0 .5 0 .5 0 .5 0 .5 0 .5 0 .5 0 .5 0 .5 0 .5 0 .5 0 .5 0 .5 0 .5 0 .5 0 .5 0 .5 0 .5 0 .5 0 .5 0 .5 0 .5 0 .5 0 .5 0 .5 0 .5 .1 .5 0 .5 0 .5 0 .5 0 .5 0 .5 0 .5 0 .5 0 .5 0 .5 0 .5 0 .5 0 .5 0 .5 0 .5 0 .5 0 .5 .1 .5 0 .5 0 .5 0 .5 0 .5 0 .5 0 .5 0 .5 0 .5 0 .5 0 .5 0 .5 0 .5 0 .5 0 .5 .1 .5 0 .5 0 .5 0 .5 0 .5 0 .5 0 .5 0 .5 0 .5 0 .5 0 .5 0 .5 0 .5 0 .5 .1 .5 0 .5 0 .5 0 .5 0 .5 0 .5 0 .5 0 .5 0 .5 0 .5 0 .5 0 .5 0 .5 .1 .5 0 .5 0 .5 0 .5 0 .5 0 .5 0 .5 0 .5 0 .5 0 .5 0 .5 0 .5 .1 .5 0 .5 0 .5 0 .5 0 .5 0 .5 0 .5 0 .5 0 .5 0 .5 0 .5 0 .5 0 .5 .1 .5 0 .5 0 .5 0 .5 0 .5 0 .5 0 .5 0 .5 0 .5 0 .5 0 .5 0 .5 1.1 .5 2.4 .5 2.4 .5 2.3 .5 2.3 .5 2.3 .5 2.3 .5 2.3 .5 2.2 .5 2.2 .5 2.2 .5 2.1 .5 2.2 .5 2.1 .5 2.1 .5 2 .5 2.1 .5 2 .5 2 .5 1.9 .5 1.9 .5 1.9 .5 1.9 .5 1.9 .5 1.8 .5 1.8 .5 1.8 .5 1.7 .5 1.8 .5 1.7 .5 1.7 .5 1.6 .5 1.7 .5 1.6 .5 1.6 .5 1.5 .5 1.6 .5 1.5 .5 1.5 .5 1.5 .5 1.5 .5 1.5 .5 1.4 .5 1.4 .5 1.4 .5 1.4 .5 1.4 .5 1.4 .5 1.3 .5 1.4 .5 1.3 .5 1.3 .5 1.3 .5 1.3 .5 1.2 .5 1.3 .5 1.2 .5 1.2 .5 1.2 .5 1.2 .5 1.2 .5 1.1 .5 1.2 .5 1.1 .5 1.1 .5 1.1 .5 1 .5 1.1 .5 1 .5 1 .5 1 .5 1 .5 .9 .5 .9 .5 1 .5 .8 .5 .9 .5 .8 .5 .9 .5 .8 .5 .7 .5 .8 .5 .7 .5 .8 .5 .7 .5 .6 .5 .7 .5 .7 .5 .6 .5 .6 .5 .6 .5 .6 .5 .6 .5 .6 .5 .5 .5 .5 .5 .6 .5 .5 .5 .5 .5 .5 .5 .4 .5 .5 .5 .4 .5 .5 .5 .4 .5 .4 .5 .5 .5 .4 .5 .4 .5 .4 .5 .3 .5 .4 .5 .4 .5 .4 .5 .3 .5 .4 .5 .3 .5 .4 .5 .3 .5 .4 .5 .3 .5 .4 .5 .3 .5 .3 .5 .4 .5 .3 .5 .3 .5 .3 .5 .4 .5 .3 .5 .3 .5 .3 .5 .3 .5 .4 .5 .3 .5 .3 .5 .3 .5 .3 .5 .3 .5 .3 .5 .3 .5 .3 .5 .3 .5 .3 .5 .3 .5 .3 .5 .2 .5 .3 .5 .3 .5 .3 .5 .3 .5 .2 .5 .3 .5 .3 .5 .2 .5 .3 .5 .2 .5 .3 .5 .2 .5 .3 .5 .2 .5 .3 .5 .2 .5 .2 .5 .3 .5 .2 .5 .2 .5 .2 .5 .2 .5 .2 .5 .2 .5 .3 .5 .2 .5 .1 .5 .2 .5 .2 .5 .2 .5 .2 .5 .2 .5 .2 .5 .1 .5 .2 .5 .2 .5 .1 .5 .2 .5 .2 .5 .1 .5 .2 .5 .1 .5 .2 .5 .1 .5 .2 .5 .1 .5 .2 .5 .1 .5 .2 .5 .1 .5 .1 .5 .2 .5 .1 .5 .1 .5 .1 .5 .2 .5 .1 .5 .1 .5 .1 .5 .2 .5 .1 .5 .1 .5 .1 .5 .1 .5 .1 .5 .1 .5 .1 .5 .2 .5 .1 .5 .1 .5 .1 .5 .1 .5 .1 .5 .1 .5 0 .5 .1 .5 .1 .5 .1 .5 .1 .5 .1 .5 .1 .5 .1 .5 .1 .5 0 .5 .1 .5 .1 .5 .1 .5 0 .5 .1 .5 .1 .5 .1 .5 0 .5 .1 .5 .1 .5 0 .5 .1 .5 .1 .5 0 .5 .1 .5 0 .5 .1 .5 .1 .5 0 .5 .1 .5 0 .5 .1 .5 0 .5 .1 .5 0 .5 .1 .5 0 .5 .1 .5 0 .5 .1 .5 0 .5 0 .5 .1 .5 0 .5 .1 .5 0 .5 0 .5 .1 .5 0 .5 .1 .5 0 .5 0 .5 .1 .5 0 .5 0 .5 .1 .5 0 .5 .1 .5 0 .5 0 .5 0 .5 .1 .5 0 .5 0 .5 .1 .5 0 .5 0 .5 .1 .5 0 .5 0 .5 0 .5 .1 .5 0 .5 0 .5 .1 .5 0 .5 0 .5 0" stroke="#1e1e1e" stroke-width="1.3"/>
<path d="M42.4 498.5l.3-2 .4 1.6 .3-1.3 .4 1.4 .3-1.9 .3 2.2 .4-2.3 .3 2 .4-2.6 .3 2.5 .3-2.3 .4 2.4 .3-2.7 .4 2.1 .3-2.6 .3 1.9 .4-1.7 .3 1 .4-1.7 .3 2.3 .3-3 .4 2.9 .3-3.3 .4 2.1 .3-1.9 .3 1.5 .4-2.2 .3 1.9 .4-2.7 .3 2 .3-2.6 .4 2.6 .3-2.7 .4 1.6 .3-3 .3 2.9 .4-3.1 .3 2 .4-2.2 .3 2 .3-3 .4 2.6 .3-3.1 .4 2.1 .3-3.4 .3 1.9 .4-2.3 .3 2.2 .4-3.5 .3 3.1 .3-3.1 .4 2.1 .3-2.5 .4 2 .3-3.1 .3 2.2 .4-2.8 .3 1.8 .4-2.4 .3 1.9 .3-3.2 .4 2.7 .3-2.8 .4 1.9 .3-3.3 .3 2.7 .4-3.6 .3 2.5 .4-3.1 .3 1.7 .3-3.3 .4 2.4 .3-2.8 .4 1.8 .3-3.6 .3 2.8 .4-3.6 .3 2.6 .4-3.4 .3 2.4 .3-2.7 .4 2.6 .3-3.8 .4 3 .3-3.3 .3 2.4 .4-3.3 .3 1.8 .4-3.3 .3 2.9 .3-4.4 .4 3 .3-3.8 .4 2.7 .3-3.7 .3 2.3 .4-3.7 .3 2.8 .4-3.7 .3 2.4 .3-3.2 .4 2.6 .3-3.7 .4 3.3 .3-3.5 .3 2.1 .4-3.8 .3 2.6 .4-3.2 .3 2.3 .3-3.8 .4 3.2 .3-3.8 .4 2.6 .3-4.1 .3 3.2 .4-3.8 .3 2.1 .4-3.3 .3 2.7 .3-4 .4 2.5 .3-3.2 .4 2.9 .3-3.8 .3 3.1 .4-3.8 .3 2.3 .4-3.5 .3 3.1 .3-4.7 .4 2.9 .3-3.2 .4 2.3 .3-4.3 .3 2.3 .4-2.9 .3 2.3 .4-3.9 .3 2.9 .3-4.2 .4 3.1 .3-3.8 .4 2.9 .3-4.1 .3 2.5 .4-4.2 .3 2.2 .4-3.7 .3 3.3 .3-3.9 .4 2.6 .3-4.7 .4 3.5 .3-3.6 .3 1.9 .4-4.1 .3 3.2 .4-5 .3 2.8 .3-4.2 .4 3.2 .3-4.2 .4 3 .3-3.7 .3 2.7 .4-4.7 .3 3 .4-3.6 .3 2 .3-4 .4 2.8 .3-4.1 .4 3.4 .3-4.1 .3 1.9 .4-3.7 .3 3 .4-4.2 .3 2.6 .3-3.9 .4 3.2 .3-4.5 .4 3.3 .3-4.3 .3 2.4 .4-3.7 .3 2.5 .4-4.6 .3 2.9 .3-4.1 .4 3.2 .3-4.2 .4 3.2 .3-3.8 .3 2.5 .4-3 .3 1.8 .4-3.7 .3 3.2 .3-4.4 .4 2.3 .3-3.7 .4 3.1 .3-4.3 .3 3.1 .4-4.1 .3 2.6 .4-3.4 .3 2.5 .3-4.7 .4 3.5 .3-4.3 .4 2.7 .3-4.5 .3 2.5 .4-4 .3 2.7 .4-4.3 .3 3.7 .3-5 .4 3 .3-3.9 .4 3.1 .3-3.3 .3 2.5 .4-4.3 .3 2.8 .4-4.1 .3 3.5 .3-4.6 .4 3 .3-3.9 .4 3 .3-4.4 .3 2.9 .4-4.6 .3 2.8 .4-4.5 .3 3.6 .3-4 .4 2.6 .3-3.7 .4 2 .3-3.6 .3 2.6 .4-3.6 .3 2.5 .4-3.8 .3 2.6 .3-3.4 .4 2.4 .3-3.7 .4 2.5 .3-3.3 .3 2.9 .4-3.7 .3 1.9 .4-2.6 .3 1.8 .3-2.7 .4 2.4 .3-3.3 .4 1.8 .3-2.7 .3 2.4 .4-2.6 .3 2.1 .4-3.6 .3 2.4 .3-3.4 .4 2.1 .3-2.4 .4 2.1 .3-3 .3 2.6 .4-3.1 .3 1.8 .4-2.6 .3 2.6 .3-3.3 .4 2.3 .3-3 .4 2.1 .3-3 .3 2.4 .4-2.6 .3 2.5 .4-3 .3 2 .3-3.1 .4 2.4 .3-2.9 .4 2.2 .3-3.1 .3 2.1 .4-2 .3 1.9 .4-3 .3 2.9 .3-3.1 .4 1.8 .3-2.4 .4 1.3 .3-2.3 .3 2.2 .4-3.2 .3 2.7 .4-2.5 .3 1.8 .3-2.5 .4 2.1 .3-2.7 .4 2.9 .3-3.3 .3 1.7 .4-2.2 .3 2.4 .4-2.8 .3 2.1 .3-2.1 .4 1.5 .3-1.9 .4 1.6 .3-2.3 .3 2 .4-2.7 .3 2.4 .4-2.4 .3 1.7 .3-2.5 .4 1.7 .3-1.8 .4 2.8 .3-3.4 .3 2.1 .4-1.9 .3 1.9 .4-3.1 .3 2.7 .3-1.8 .4 1.5 .3-1.3 .4 .5 .3-1.2 .3 2 .4-2.3 .3 1.9 .4-2.9 .3 2.3 .3-2.2 .4 1.8 .3-2.8 .4 2.3 .3-2.4 .3 1.9 .4-1.7 .3 1.8 .4-2.4 .3 2 .3-2 .4 2.1 .3-1.9 .4 1.9 .3-2.4 .3 2.8 .4-2.8 .3 1.6 .4-1.9 .3 1.7 .3-2.1 .4 2 .3-2.2 .4 2 .3-2.1 .3 1.4 .4-1.6 .3 1.7 .4-1.8 .3 1.7 .3-1.8 .4 1.1 .3-1.7 .4 1.3 .3-1.3 .3 1.2 .4-1.6 .3 1.7 .4-2.1 .3 1.7 .3-1.5 .4 1.1 .3-1.9 .4 2 .3-2.2 .3 2.1 .4-2.2 .3 1.4 .4-1.6 .3 1.3 .3-2.1 .4 2.2 .3-1.3 .4 1.6 .3-1.9 .3 1.4 .4-2.1 .3 2.2 .4-2.1 .3 2.2 .3-2.5 .4 1.6 .3-1.6 .4 1.7 .3-.9 .3 .8 .4-2.1 .3 2 .4-2 .3 2.3 .3-2.5 .4 2.2 .3-2.6 .4 2.4 .3-2.3 .3 1.9 .4-2.8 .3 2.4 .4-2.2 .3 1.6 .3-1.5 .4 2 .3-2.2 .4 1.3 .3-1.4 .3 1.6 .4-1.8 .3 1.7 .4-2.5 .3 2.5 .3-2 .4 1.4 .3-1.8 .4 2.2 .3-2.2 .3 2.4 .4-2.4 .3 2 .4-2 .3 1.4 .3-1.6 .4 2 .3-2.4 .4 2.4 .3-2.2 .3 1.7 .4-1.7 .3 1.2 .4-1.8 .3 2.1 .3-2.4 .4 1.9 .3-2.2 .4 1.7 .3-1.7 .3 1.8 .4-1.4 .3 .9 .4-1.4 .3 2.6 .3-2.6 .4 2.1 .3-2.1 .4 2.6 .3-2 .3 1.7 .4-2.4 .3 2.2 .4-2.4 .3 1.9 .3-1.5 .4 1.9 .3-2 .4 1.9 .3-2.1 .3 1.4 .4-1.8 .3 2.1 .4-1.8 .3 1.6 .3-1.8 .4 1.4 .3-1.8 .4 1.9 .3-2 .3 1.6 .4-.9 .3 .8 .4-1.7 .3 1.2 .3-1.7 .4 1.9 .3-2 .4 2 .3-2.1 .3 1.8 .4-1 .3 1.6 .4-1.6 .3 1.8 .3-1.8 .4 1.6 .3-1.8 .4 1 .3-1.7 .3 2 .4-2.2 .3 2.2 .4-1.4 .3 1.5 .3-2.1 .4 2.4 .3-2.5 .4 2.3 .3-1.6 .3 1.5 .4-1.2 .3 1.5 .4-2.3 .3 1.9 .3-1.5 .4 1.8 .3-1.9 .4 1.8 .3-2 .3 1.3 .4-1.6 .3 1.3 .4-1.5 .3 1.4 .3-.7 .4 1.4 .3-2.3 .4 1.8 .3-1.4 .3 1.4 .4-1.6 .3 1.4 .4-1.3 .3 1.3 .3-1.1 .4 1.2 .3-1.2 .4 1.3 .3-1.4 .3 1.9 .4-2.3 .3 2 .4-1.3 .3 1.6 .3-2 .4 1.3 .3-1.5 .4 1.5 .3-1.8 .3 2 .4-2.3 .3 1.8 .4-1.6 .3 1.7 .3-1.6 .4 1.4 .3-2.1 .4 1.9 .3-1.8 .3 1 .4-1.3 .3 .8 .4-.9 .3 1.5 .3-1.7 .4 1.1 .3-1.4 .4 2.3 .3-1.1 .3 1.1 .4-1.9 .3 1.9 .4-2.5 .3 2.2 .3-1.7 .4 1.9 .3-1.5 .4 1.4 .3-2.1 .3 1.6 .4-1.5 .3 2 .4-2 .3 1.3 .3-1.2 .4 1.7 .3-2 .4 2 .3-2.2 .3 1.9 .4-1.6 .3 1.4 .4-1.9 .3 2.5 .3-1.7 .4 1.7 .3-1.9 .4 1 .3-.8 .3 1.3 .4-1.9 .3 2 .4-1.7 .3 1.7 .3-1.8 .4 1.4 .3-1.3 .4 1.8 .3-1.3 .3 1.5 .4-2.6 .3 2 .4-2.4 .3 2 .3-1.3 .4 1.1 .3-1.4 .4 2.2 .3-2.4 .3 1.9 .4-1.8 .3 2.4 .4-2.2 .3 1.9 .3-1.7 .4 1.9 .3-1.7 .4 1.7 .3-2.4 .3 1.6 .4-1.7 .3 2.1 .4-2.2 .3 1.8 .3-2.3 .4 2.1 .3-1.6 .4 1.9 .3-2.1 .3 2.1 .4-1.9 .3 1.8 .4-1.3 .3 .9 .3-1.1 .4 1.4 .3-1.2 .4 1.5 .3-1.5 .3 1.2 .4-1.8 .3 2.4 .4-2.3 .3 2.2 .3-2.6 .4 1.7 .3-1.4 .4 1.5 .3-1.7 .3 1.9 .4-1.3 .3 1.3 .4-1.8 .3 1.9 .3-1.9 .4 1.6 .3-.9 .4 1 .3-1.4 .3 1.2 .4-1.5 .3 .7 .4-.9 .3 1 .3-.9 .4 1.2 .3-1.7 .4 2.9 .3-2.2 .3 1.1 .4-1.5 .3 1.3 .4-.8 .3 1.1 .3-1.3 .4 1.4 .3-1.7 .4 1.4 .3-1.8 .3 2.2 .4-1.9 .3 1.3 .4-1.2 .3 1.6 .3-1.7 .4 2.3 .3-2.4 .4 1.8 .3-1.8 .3 3 .4-3 .3 1.3 .4-2.1 .3 1.5 .3-1.5 .4 1.9 .3-1.5 .4 1.3 .3-1.8 .3 2.1 .4-1.7 .3 1.2 .4-1.2 .3 1.8 .3-2 .4 1.9 .3-1.4 .4 1.2 .3-1.2 .3 1.8 .4-1.8 .3 1.8 .4-1.9 .3 1.3 .3-1 .4 .9 .3-.8 .4 1.6 .3-1.9 .3 1.4 .4-1.3 .3 2 .4-1.9 .3 1.6 .3-1.9 .4 1.6 .3-1.4 .4 1.5 .3-1.6 .3 1 .4-1.4 .3 1.6 .4-1.5 .3 1.4 .3-1.6 .4 .5 .3-.3 .4 1 .3-1.8 .3 1.9 .4-1.1 .3 .9 .4-1.7 .3 1.9 .3-1.2 .4 1.5 .3-1.5 .4 1.5 .3-1.6 .3 1.9 .4-2 .3 1.3 .4-1.3 .3 1.6 .3-2.2 .4 1.5 .3-1 .4 1.4 .3-1.3 .3 1.5 .4-.5 .3 .9 .4-1.9 .3 1.2 .3-1 .4 .7 .3-1 .4 1.1 .3-1.8 .3 1.5 .4-1.4 .3 1.4 .4-1.4 .3 1.6 .3-1.5 .4 2 .3-1.7 .4 1.8 .3-2.2 .3 1.7 .4-2.1 .3 2.7 .4-1.8 .3 .4 .3-.7 .4 1.8 .3-2.1 .4 2 .3-1.9 .3 2 .4-2 .3 1.7 .4-1.5 .3 1.9 .3-1.5 .4 1 .3-.9 .4 1.8 .3-2.3 .3 2.2 .4-2 .3 1.6 .4-2.2 .3 2 .3-1.9 .4 1.8 .3-1.6 .4 1.7 .3-1.8 .3 2.2 .4-2 .3 2 .4-2 .3 1.2 .3-.8 .4 1 .3-2.3 .4 1.8 .3-1.3 .3 1.4 .4-.9 .3 1.2 .4-1.7 .3 1.7 .3-1.4 .4 1.5 .3-2 .4 1.5 .3-1.4 .3 1.7 .4-1 .3 .8 .4-1.8 .3 1.8 .3-1.7 .4 1.8 .3-1.6 .4 1.6 .3-1.1 .3 .7 .4-2.1 .3 1.7 .4-1 .3 2 .3-2.1 .4 1.9 .3-1.1 .4 .9 .3-.8 .3 .7 .4-1.2 .3 1.9 .4-1.7 .3 1.3 .3-1.5 .4 1.9 .3-1.6 .4 1.6 .3-2.3 .3 2 .4-1.5 .3 1.2 .4-2.2 .3 2.6 .3-1.9 .4 1.9 .3-2 .4 1.6 .3-1.5 .3 1.6 .4-1.9 .3 1.7 .4-1.7 .3 1.7 .3-1.5 .4 1.4 .3-1.4 .4 .9 .3-1.1 .3 2 .4-2.3 .3 1.7 .4-.7 .3 1.3 .3-2.2 .4 2.5 .3-1.5 .4 1.5 .3-1.5 .3 1.2 .4-1.7 .3 1.8 .4-2.1 .3 1.5 .3-1.7 .4 2.5 .3-2.7 .4 2 .3-.9 .3 1.3 .4-2.8 .3 2.5 .4-2.1 .3 2 .3-2.6 .4 2.1 .3-1.2 .4 1.7 .3-1.9 .3 1 .4-1 .3 1.7 .4-1.4 .3 1.7 .3-1.9 .4 1.3 .3-1.1 .4 2.4 .3-2.9 .3 1.8 .4-.8 .3 1.2 .4-2 .3 1.2 .3-1.2 .4 1.8 .3-2.1 .4 1.9 .3-2.3 .3 2.1 .4-1.6 .3 1.2 .4-1 .3 .9 .3-1 .4 1.1 .3-.8 .4 1.2 .3-1.6 .3 1.7 .4-1.7 .3 1.3 .4-.6 .3 3.9 .3 .4 .4 2.9 .3 1.1 .4 3.9 .3 .2 .3 2.9 .4 .2 .3 3.4 .4 .4 .3 3.6 .3 .4 .4 2.3 .3 .2 .4 3.1 .3 1 .3 3 .4 .3 .3 3 .4-.2 .3 3.1 .3 .5 .4 2.5 .3 .1 .4 2.8 .3-.2 .3 3.4 .4-.2 .3 3.2 .4-.4 .3 3.4 .3-.7 .4 3.5 .3-.5 .4 2.7 .3 .4 .3 2.4 .4-.6 .3 2.7 .4 .6 .3 1.8 .3 .1 .4 3.1 .3-.4 .4 2.2 .3-.1 .3 3 .4-.8 .3 3.2 .4-.9 .3 2.9 .3-1.3 .4 2.8 .3-.1 .4 2.6 .3-1.7 .3 3.8 .4-.7 .3 2.9 .4-.9 .3 2.3 .3 .3 .4 2.6 .3-.3 .4 1.6 .3-.4 .3 3.1 .4-1.1 .3 2.4 .4-.3 .3 2.4 .3-.4 .4 1.9 .3-.7 .4 2.4 .3-.9 .3 2.5 .4-.6 .3 2.8 .4-1.4 .3 2.7 .3-.7 .4 2.1 .3-.2 .4 1.6 .3-.9 .3 2.9 .4-1.6 .3 2.7 .4-1.3 .3 2.1 .3-.1 .4 2.3 .3-.9 .4 1.8 .3-.4 .3 2.9 .4-1.4 .3 2.6 .4-.8 .3 2.1 .3-1.1 .4 1.5 .3-.7 .4 2.4 .3-1 .3 1.5 .4-.2 .3 2 .4-.2 .3 1.8 .3-1.4 .4 2.5 .3-1.5 .4 2.5 .3-.8 .3 2 .4-1.4 .3 1.9 .4-.6 .3 1.2 .3-.9 .4 2.1 .3-1.8 .4 2.6 .3-1.1 .3 2.4 .4-1.2 .3 2.1 .4-1.1 .3 1.8 .3-.7 .4 .9 .3-.7 .4 1.6 .3-.4 .3 1.7 .4-1.4 .3 1.8 .4-2 .3 2.5 .3-1.2 .4 1.8 .3-1.2 .4 2.3 .3-1.3 .3 1.9 .4-1.6 .3 3.7 .4-3.3 .3 2.3 .3-1.8 .4 1.7 .3-1.3 .4 1.7 .3-.6 .3 1.4 .4-1.6 .3 3 .4-1.7 .3 1.3 .3-1.1 .4 2 .3-1.3 .4 1.7 .3-1.4 .3 1.5 .4-1.4 .3 1.7 .4-1.7 .3 2.6 .3-1.3 .4 1.5 .3-1.2 .4 1.6 .3-1.1 .3 2.3 .4-2.1 .3 1.9 .4-1.3 .3 2.1 .3-1.3 .4 2 .3-1.5 .4 2.1 .3-2.2 .3 2.2 .4-1.7 .3 2.1 .4-1.9 .3 2.2 .3-1.3 .4 1.3 .3-.7 .4 1.8 .3-1.7 .3 2.1 .4-1.9 .3 2.5 .4-1.5 .3 1.7 .3-2.5 .4 2.4 .3-1 .4 1.7 .3-1.6 .3 1.6 .4-1.1 .3 2.2 .4-2.3 .3 1.6 .3-.8 .4 .8 .3-1.3 .4 1.6 .3-1.2 .3 1.9 .4-1.4 .3 1.7 .4-1.5 .3 2.3 .3-1.7 .4 2.1 .3-1.5 .4 2.2 .3-1.5 .3 1 .4-.9 .3 2.4 .4-2.6 .3 1.9 .3-1.2 .4 1.7 .3-1.8 .4 1.9 .3-1.5 .3 1 .4-1.1 .3 2.3 .4-1.4 .3 .9 .3-.9 .4 1.1 .3-1.1 .4 1.4 .3-1.4 .3 2.1 .4-1.3 .3 2 .4-1.6 .3 1.5 .3-1.5 .4 1.5 .3-1.5 .4 1.7 .3-1.1 .3 1.4 .4-1.5 .3 1.9 .4-1.2 .3 1 .3-1.4 .4 1.9 .3-1.5 .4 2.1 .3-2.1 .3 2.1 .4-1.8 .3 2 .4-1.6 .3 1.7 .3-2.1 .4 2 .3-1.4 .4 1.3 .3-2.3 .3 2.2 .4-1.5 .3 1.9 .4-1.7 .3 1.3 .3-1.4 .4 2.7 .3-1.7 .4 1.7 .3-1.9 .3 2 .4-1.8 .3 2.1 .4-2.1 .3 1.7 .3-2.2 .4 2.4 .3-1.3 .4 1.8 .3-2.4 .3 2.5 .4-1.3 .3 1.9 .4-2 .3 1.7 .3-1.6 .4 1.9 .3-2.3 .4 1.5 .3-1.7 .3 2.1 .4-2.2 .3 1.6 .4-1.1 .3 2.1 .3-1.4 .4 1.4 .3-1.5 .4 1.6 .3-1.4 .3 1.5 .4-1.3 .3 1.1 .4-1.9 .3 1.8 .3-1.5 .4 1.9 .3-1.6 .4 2 .3-1.8 .3 2.1 .4-2.2 .3 1.4 .4-.9 .3 1.8 .3-2.2 .4 1.9 .3-.9 .4 1 .3-1.7 .3 2.4 .4-2.4 .3 1.5 .4-.9 .3 1.2 .3-1.2 .4 1.3 .3-1.5 .4 1.6 .3-1.8 .3 1.5 .4-1.5 .3 2 .4-1.7 .3 1.7 .3-1.4 .4 1 .3-.3 .4 .8 .3-1.4 .3 2.3 .4-2.3 .3 1.3 .4-1.3 .3 1.2 .3-1.3 .4 1.6 .3-1.5 .4 1.6 .3-1.8 .3 2.2 .4-1.3 .3 1.5 .4-1.5 .3 1.5 .3-1.8 .4 2.2 .3-2.1 .4 1.5 .3-1.6 .3 1.9 .4-1.6 .3 1.6 .4-1.6 .3 2.5 .3-2.7 .4 3.5 .3-2.8 .4 1.3 .3-1.8 .3 1.2 .4-1.8 .3 1.7 .4-1.3 .3 1.4 .3-1.2 .4 2 .3-1.8 .4 1.6 .3-1.1 .3 1.7 .4-1.7 .3 1.7 .4-2 .3 1.1 .3-1.3 .4 2.1 .3-2.6 .4 2.3 .3-1.7 .3 1.8 .4-2.1 .3 1.9 .4-1.1 .3 1.5 .3-1.2 .4 .7 .3 0 .4 .2 .3-1.4 .3 1.4 .4-1.5 .3 1.2 .4-2 .3 3.1 .3-2.8 .4 1.8 .3-1.6 .4 2.1 .3-1.7 .3 2.3 .4-2.1 .3 1.4 .4-1.1 .3 1.3 .3-1.6 .4 2.4 .3-2.2 .4 1.5 .3-1.5 .3 1.3 .4-1" stroke="#f01c1c" stroke-width="1.2"/>
<path d="M42.4 495.0l.3-3.7 .4 4.4 .3-3 .4 4.4 .3-5.7 .3 5.2 .4-4.5 .3 5 .4-4.4 .3 3.6 .3-4.2 .4 4.3 .3-3.8 .4 2.7 .3-4.3 .3 4.2 .4-4.7 .3 5.2 .4-6.3 .3 3.9 .3-4.9 .4 4.4 .3-3.9 .4 4.3 .3-5.1 .3 2.8 .4-4.3 .3 4.6 .4-4.9 .3 4.1 .3-4 .4 4.9 .3-5.3 .4 4 .3-3.3 .3 3 .4-3.3 .3 4.2 .4-5.8 .3 3.6 .3-5.3 .4 4.7 .3-5.5 .4 4.4 .3-5 .3 4.5 .4-5.4 .3 5.2 .4-6.3 .3 5.8 .3-4.9 .4 2.7 .3-4.5 .4 4.5 .3-5.5 .3 4.3 .4-4.6 .3 3.7 .4-4.8 .3 4.5 .3-4.9 .4 4.4 .3-5.1 .4 3.8 .3-5.3 .3 5.9 .4-6.3 .3 5.3 .4-6.5 .3 6 .3-8 .4 5.8 .3-6 .4 5.2 .3-6.9 .3 4.2 .4-4 .3 3.7 .4-5.7 .3 6 .3-6.6 .4 5.5 .3-6.5 .4 5.6 .3-5.9 .3 2.8 .4-5.4 .3 5 .4-5.8 .3 4 .3-7 .4 4.8 .3-5.1 .4 5.2 .3-7.7 .3 5.3 .4-5.2 .3 4 .4-6.4 .3 5.5 .3-8.1 .4 5.8 .3-6.4 .4 4.1 .3-6.8 .3 5.3 .4-5.1 .3 4.5 .4-6.3 .3 5.4 .3-6.4 .4 6.1 .3-8.9 .4 5.5 .3-6 .3 4.4 .4-5.4 .3 3.6 .4-5.4 .3 4.4 .3-6.4 .4 4.4 .3-4.1 .4 3.1 .3-6.3 .3 5.9 .4-6.6 .3 6.2 .4-6.8 .3 4.7 .3-6.4 .4 4.4 .3-5.1 .4 3.5 .3-5.9 .3 5 .4-5.7 .3 3.4 .4-7 .3 5.5 .3-7.2 .4 6 .3-7.4 .4 5 .3-6.4 .3 5.1 .4-6.3 .3 5.6 .4-7.4 .3 7.3 .3-8.3 .4 6.2 .3-6.5 .4 5.8 .3-8.1 .3 5.8 .4-5.3 .3 3.6 .4-6.4 .3 5.8 .3-7.7 .4 4.2 .3-5.1 .4 3.9 .3-5.3 .3 3.7 .4-5.7 .3 5.4 .4-6.4 .3 3.8 .3-5.8 .4 4.6 .3-7.2 .4 5.1 .3-5.3 .3 4 .4-7.2 .3 5 .4-6.8 .3 5 .3-5.7 .4 4.9 .3-7.7 .4 7 .3-7.4 .3 4.7 .4-5.4 .3 4.4 .4-7.5 .3 6.5 .3-7.5 .4 4.9 .3-5.5 .4 3.9 .3-6.8 .3 5.2 .4-7.2 .3 5.5 .4-6.7 .3 5.5 .3-7.3 .4 6.1 .3-7.2 .4 5.9 .3-7.1 .3 5.7 .4-7.3 .3 4.4 .4-6.9 .3 4.6 .3-7.5 .4 5.6 .3-5.9 .4 4.2 .3-5.7 .3 4.8 .4-7.5 .3 5 .4-6.1 .3 4.4 .3-7.7 .4 4.9 .3-5.7 .4 5.1 .3-7.5 .3 5.9 .4-7.1 .3 3.9 .4-5.5 .3 5.3 .3-6.9 .4 4.9 .3-5.5 .4 6 .3-7.3 .3 5.4 .4-6.8 .3 4.3 .4-6.3 .3 5.8 .3-6.5 .4 4.5 .3-6 .4 4.3 .3-3.7 .3 1.9 .4-6.4 .3 6.4 .4-7.8 .3 6.2 .3-5 .4 3.5 .3-5.6 .4 4.7 .3-4.5 .3 3.3 .4-4.4 .3 2.6 .4-4.5 .3 4 .3-5.8 .4 6.2 .3-5.9 .4 5 .3-6.8 .3 5.5 .4-5.5 .3 5.1 .4-6.2 .3 4.5 .3-4.5 .4 3.8 .3-5.2 .4 5.6 .3-5.1 .3 3.5 .4-4.9 .3 4.5 .4-4.7 .3 3.8 .3-4 .4 3.6 .3-5.2 .4 5.1 .3-5.8 .3 5.1 .4-5.3 .3 4.8 .4-5.1 .3 4.4 .3-5.7 .4 4.6 .3-5 .4 6.4 .3-6 .3 3.3 .4-4.6 .3 4.7 .4-4.5 .3 3.1 .3-4.7 .4 3.8 .3-4.6 .4 5.5 .3-5.4 .3 4.1 .4-4.9 .3 5 .4-3.8 .3 3.3 .3-3.6 .4 3.4 .3-5.7 .4 4.2 .3-4.9 .3 4.5 .4-4.4 .3 3.7 .4-4.7 .3 5.1 .3-4.7 .4 3.9 .3-5 .4 4.4 .3-4.1 .3 2.3 .4-4.5 .3 5.8 .4-5.8 .3 4.7 .3-5 .4 4.4 .3-4.3 .4 3.3 .3-4.5 .3 3.4 .4-3.2 .3 3.1 .4-4.2 .3 5.7 .3-5.2 .4 5.6 .3-4.1 .4 3.3 .3-5.3 .3 4.9 .4-4.1 .3 1.6 .4-2.5 .3 3.3 .3-4.5 .4 4.2 .3-4.1 .4 3.6 .3-3 .3 2.9 .4-3.7 .3 4.3 .4-5.4 .3 5.2 .3-5.7 .4 4.2 .3-4 .4 3.9 .3-4.4 .3 2.6 .4-1.8 .3 3.2 .4-4.9 .3 5.1 .3-4.9 .4 3.9 .3-5.2 .4 4.5 .3-4.5 .3 4.2 .4-5 .3 4.4 .4-4 .3 3.9 .3-3.9 .4 4 .3-4.1 .4 3.4 .3-3.7 .3 2.5 .4-3.4 .3 4.1 .4-2.7 .3 1.7 .3-3.8 .4 2.7 .3-3.4 .4 5 .3-5 .3 4.8 .4-4.4 .3 4.2 .4-4.8 .3 4.3 .3-3.8 .4 2.6 .3-2.2 .4 3.5 .3-5.5 .3 3.8 .4-2.4 .3 1.4 .4-3.3 .3 4.7 .3-5.2 .4 5.8 .3-5.9 .4 5.7 .3-4.1 .3 3.5 .4-4.7 .3 3.5 .4-3.1 .3 4 .3-4.2 .4 4.1 .3-3.8 .4 4 .3-2.9 .3 2.5 .4-5 .3 3.3 .4-4.3 .3 3.5 .3-3.5 .4 4.1 .3-4.1 .4 3.8 .3-3.4 .3 4.4 .4-5 .3 4.3 .4-3.3 .3 2.6 .3-3.7 .4 3.3 .3-2.9 .4 3.7 .3-2.4 .3 2.3 .4-4.6 .3 4.1 .4-3.4 .3 3.5 .3-3.4 .4 2.5 .3-2.9 .4 3.6 .3-3.1 .3 4.3 .4-4.7 .3 3.3 .4-3.1 .3 3.9 .3-4.6 .4 3 .3-2.9 .4 3.8 .3-2.5 .3 3.6 .4-4.9 .3 3.8 .4-3.5 .3 4 .3-4.3 .4 4.1 .3-3.9 .4 4.4 .3-5.4 .3 4.1 .4-2.7 .3 2.2 .4-3.8 .3 3.9 .3-3.8 .4 3.8 .3-3.1 .4 3.1 .3-3.5 .3 3.3 .4-4 .3 3.7 .4-3 .3 3.9 .3-4.5 .4 3.7 .3-3.9 .4 4.1 .3-3.9 .3 3.3 .4-3.7 .3 5.5 .4-4.9 .3 3.9 .3-4.2 .4 5.1 .3-3.5 .4 3.2 .3-3.3 .3 3.6 .4-3.7 .3 3.9 .4-4.4 .3 2.8 .3-3.8 .4 3.6 .3-4.9 .4 4.7 .3-3.5 .3 2.3 .4-3.5 .3 5.4 .4-4.7 .3 3.1 .3-2.6 .4 3.3 .3-4 .4 3.6 .3-3.8 .3 5.1 .4-4.9 .3 4.1 .4-5.6 .3 4.4 .3-2.6 .4 4.6 .3-4.5 .4 2.7 .3-3.6 .3 3.3 .4-2.5 .3 2.9 .4-4.1 .3 4.1 .3-4.3 .4 4.1 .3-3.6 .4 4.2 .3-3.7 .3 2.4 .4-3.3 .3 2.8 .4-2.9 .3 4.8 .3-3.8 .4 1.2 .3-1.9 .4 3.4 .3-2.9 .3 4 .4-4.6 .3 3.6 .4-3.7 .3 3.3 .3-2.2 .4 3.6 .3-4.5 .4 4.5 .3-4.7 .3 3.7 .4-4.3 .3 5.1 .4-3.2 .3 4.6 .3-5.3 .4 5 .3-4 .4 2.1 .3-2.9 .3 3.1 .4-3.5 .3 3.7 .4-2.8 .3 3.2 .3-3 .4 2.4 .3-3.6 .4 2.9 .3-3.1 .3 3.7 .4-4.8 .3 5.3 .4-5.1 .3 4.1 .3-2.9 .4 2.4 .3-2.6 .4 2.9 .3-3.2 .3 2.8 .4-2.5 .3 4.3 .4-4.2 .3 2 .3-2.7 .4 3.1 .3-3.1 .4 4.9 .3-5.1 .3 5.2 .4-4.5 .3 3.8 .4-4 .3 4.2 .3-3.3 .4 2.9 .3-3.4 .4 3.2 .3-6 .3 6.3 .4-3.2 .3 2.3 .4-3.1 .3 3 .3-2.9 .4 3.8 .3-4.2 .4 3.6 .3-3.6 .3 4 .4-5.1 .3 3.8 .4-2.3 .3 3.3 .3-3.6 .4 2.5 .3-1.6 .4 3 .3-3.5 .3 2.5 .4-2.7 .3 3.6 .4-2.2 .3 2.6 .3-3.6 .4 3.7 .3-2.4 .4 2.1 .3-4.1 .3 3.1 .4-3.1 .3 3.2 .4-3.6 .3 5.1 .3-4.8 .4 3.6 .3-2.4 .4 2.2 .3-2.7 .3 3.5 .4-4.3 .3 5.7 .4-4.5 .3 3.4 .3-3.3 .4 3.7 .3-3.6 .4 4.2 .3-4.5 .3 3.3 .4-3.6 .3 4.2 .4-6.2 .3 5.2 .3-4.4 .4 3.8 .3-3.9 .4 3.6 .3-4.1 .3 5.4 .4-4.7 .3 4.5 .4-3.6 .3 4.4 .3-4.4 .4 2.3 .3-4.2 .4 4.8 .3-2.7 .3 2.2 .4-3.8 .3 5.1 .4-3.8 .3 2.9 .3-3.1 .4 3.2 .3-4.1 .4 5.6 .3-4.3 .3 3.6 .4-5.1 .3 5.6 .4-4 .3 3.1 .3-3 .4 2.2 .3-4 .4 3.9 .3-2.9 .3 4.1 .4-4.6 .3 3 .4-2.5 .3 3.2 .3-3 .4 4.7 .3-4.8 .4 3.5 .3-4.3 .3 4.2 .4-3.2 .3 2.9 .4-3.9 .3 3.8 .3-4.6 .4 4.9 .3-4.7 .4 4.1 .3-3.4 .3 4.9 .4-4 .3 3.5 .4-4.8 .3 3.6 .3-3 .4 4.1 .3-3.4 .4 3.1 .3-4.2 .3 3.5 .4-3 .3 4.8 .4-4.7 .3 3.4 .3-2.3 .4 1.4 .3-3.2 .4 4.3 .3-3.8 .3 3.9 .4-2.9 .3 4.1 .4-5 .3 5.1 .3-3.6 .4 3.1 .3-4.6 .4 3.2 .3-2.8 .3 2.5 .4-4.2 .3 4.6 .4-3.6 .3 3.8 .3-3.6 .4 3.1 .3-3.7 .4 3.7 .3-3.8 .3 4.4 .4-2.5 .3 2.3 .4-4.6 .3 3.4 .3-2.8 .4 4.2 .3-3.1 .4 2.6 .3-2.8 .3 1.9 .4-3.1 .3 4.1 .4-2.9 .3 1.8 .3-3.3 .4 2.9 .3-3.9 .4 3.9 .3-3.4 .3 4.6 .4-3.5 .3 3.9 .4-4.1 .3 4.2 .3-3.5 .4 4.3 .3-4.8 .4 4.7 .3-5.5 .3 3.5 .4-2.8 .3 3.5 .4-4.2 .3 3.7 .3-3.3 .4 4 .3-4.8 .4 5.3 .3-3.4 .3 3.5 .4-4 .3 3.6 .4-3.4 .3 3.1 .3-4 .4 4.1 .3-3 .4 4.2 .3-4.2 .3 3.6 .4-3.6 .3 3.2 .4-3.8 .3 4.4 .3-5.7 .4 4.9 .3-4.6 .4 4.2 .3-3.8 .3 3 .4-3.1 .3 3.7 .4-3.6 .3 2.8 .3-2.1 .4 3.3 .3-3.9 .4 4.1 .3-3.3 .3 4 .4-4.1 .3 3.1 .4-4.2 .3 3 .3-2.7 .4 4.3 .3-4.4 .4 3.1 .3-2.4 .3 2.5 .4-2.8 .3 3.6 .4-3.9 .3 4.1 .3-4.1 .4 4.2 .3-3.6 .4 2.9 .3-3.6 .3 4.1 .4-4 .3 4 .4-4.3 .3 4 .3-3.9 .4 2.9 .3-4 .4 4.8 .3-2.9 .3 3.9 .4-5.1 .3 4 .4-4 .3 3.8 .3-3.3 .4 3.4 .3-4.5 .4 3 .3-3.8 .3 3.7 .4-2.6 .3 2.8 .4-3.4 .3 4.5 .3-3.8 .4 3.1 .3-2.4 .4 2.8 .3-2.9 .3 4.4 .4-3.2 .3 1.5 .4-2.2 .3 2.9 .3-3.8 .4 4.8 .3-3.9 .4 2.8 .3-3.6 .3 4.4 .4-4.7 .3 4.9 .4-4.2 .3 3.8 .3-4.3 .4 3.6 .3-3.7 .4 4 .3-2 .3 2.2 .4-3.3 .3 4 .4-5.1 .3 4.6 .3-4.3 .4 3.2 .3-2.5 .4 2.5 .3-4.2 .3 4.3 .4-3.7 .3 2.8 .4-2.2 .3 3.4 .3-3.4 .4 4 .3-4.3 .4 4.1 .3-3 .3 2.6 .4-3.2 .3 4.6 .4-3.6 .3 2.9 .3-3.1 .4 2.5 .3-4.4 .4 3.4 .3-3 .3 3.4 .4-2.8 .3 3.6 .4-3.6 .3 3 .3-2.7 .4 3.2 .3-4.3 .4 4.8 .3-4.4 .3 3 .4-4.3 .3 4.1 .4-3.9 .3 5 .3-4.4 .4 3 .3-1.7 .4 2.6 .3-3.2 .3 4.1 .4-3.5 .3 4.1 .4-4.4 .3 4 .3-3 .4 4.1 .3-4.3 .4 4.4 .3-4.2 .3 2.2 .4-3.3 .3 3.6 .4-.7 .3 7.3 .3 .6 .4 6.9 .3 1 .4 5.7 .3 .3 .3 6.2 .4-1.5 .3 7.5 .4-1.9 .3 6.7 .3-1.7 .4 5.5 .3-.6 .4 4.8 .3-1.2 .3 6.8 .4-2.6 .3 4.3 .4-1.5 .3 6 .3-2 .4 6 .3-2.2 .4 4.7 .3-.5 .3 4.3 .4-2.4 .3 5.4 .4-2.6 .3 5.4 .3-2.1 .4 4.7 .3-.6 .4 3.8 .3-2.3 .3 5.7 .4-2.2 .3 3.7 .4-.7 .3 4.6 .3-1.7 .4 4.4 .3-2.6 .4 4.9 .3-2.6 .3 5.2 .4-2 .3 3.4 .4-.1 .3 4.3 .3-3.3 .4 5.1 .3-1.2 .4 6 .3-4.6 .3 5 .4-2.8 .3 4.1 .4-1.4 .3 3.5 .3-2.1 .4 5 .3-2.5 .4 4.1 .3-2.3 .3 6.4 .4-3.5 .3 5.3 .4-2.9 .3 4 .3-2.1 .4 4.7 .3-3.7 .4 5.1 .3-3.3 .3 6.5 .4-3 .3 4.1 .4-2.7 .3 4.7 .3-1.9 .4 4.2 .3-4.4 .4 2.5 .3-1.9 .3 3.8 .4-2.2 .3 4.5 .4-3.2 .3 3.7 .3-2 .4 4.8 .3-3.2 .4 3.9 .3-3.6 .3 4.8 .4-1.9 .3 3.2 .4-2.5 .3 5.2 .3-3.7 .4 5 .3-3.7 .4 4.8 .3-2.7 .3 2.9 .4-2.5 .3 4.2 .4-2.8 .3 4.1 .3-3.6 .4 4.2 .3-2.8 .4 4.8 .3-2.9 .3 2.5 .4-2.6 .3 5.6 .4-3.8 .3 4.3 .3-3.3 .4 4.4 .3-3.2 .4 4.4 .3-2.5 .3 3.1 .4-3.3 .3 3.6 .4-3 .3 3.8 .3-2.4 .4 2.7 .3-3.6 .4 4.1 .3-1.4 .3 3 .4-3.6 .3 3.5 .4-3.8 .3 5.6 .3-3.7 .4 4.2 .3-1.8 .4 3 .3-3.6 .3 3.8 .4-3.6 .3 3.3 .4-1 .3 2.5 .3-2.4 .4 3.1 .3-2.9 .4 3.4 .3-4.2 .3 3 .4-4.7 .3 5.4 .4-3.7 .3 3.8 .3-2.4 .4 2.5 .3-1.9 .4 3.2 .3-2.4 .3 3.8 .4-3.1 .3 3 .4-2.4 .3 3.2 .3-3.8 .4 4.8 .3-2.3 .4 3.3 .3-4.8 .3 4.1 .4-2.4 .3 3 .4-3.1 .3 3.6 .3-3.7 .4 4.9 .3-3.3 .4 2.6 .3-3.6 .3 4 .4-2.7 .3 2.4 .4-3.6 .3 4.7 .3-3.8 .4 3.5 .3-2.6 .4 3.4 .3-4.3 .3 5.9 .4-5.1 .3 5.8 .4-5 .3 4.4 .3-2.5 .4 4.2 .3-3.9 .4 4.1 .3-3.8 .3 2.8 .4-2.9 .3 3.4 .4-3.3 .3 4.1 .3-4.1 .4 4.1 .3-3.8 .4 3.5 .3-2.5 .3 3.8 .4-2.5 .3 2.3 .4-3.5 .3 2.3 .3-.4 .4 1.4 .3-2.9 .4 3.8 .3-2.9 .3 4 .4-5.1 .3 4.7 .4-3.3 .3 4.8 .3-4.3 .4 2.9 .3-1.4 .4 2 .3-2 .3 2.6 .4-3.3 .3 1.6 .4-1.8 .3 2.5 .3-2 .4 3.2 .3-3.3 .4 4.2 .3-5.7 .3 5.7 .4-2.5 .3 3.7 .4-5.9 .3 5.2 .3-3.1 .4 4.3 .3-4.1 .4 4.8 .3-4.7 .3 3.6 .4-2.4 .3 3.1 .4-2.5 .3 4.4 .3-4.3 .4 3.5 .3-4 .4 4.4 .3-4.5 .3 5.2 .4-5.1 .3 2.8 .4-2.2 .3 4 .3-4.6 .4 3.3 .3-2.8 .4 2.6 .3-3.2 .3 5.2 .4-3.6 .3 2.5 .4-3.9 .3 5.2 .3-2.2 .4 2.1 .3-3.4 .4 3.5 .3-2.9 .3 3.6 .4-4.4 .3 4 .4-3 .3 2.1 .3-2 .4 3.2 .3-2.6 .4 3 .3-4.5 .3 3.7 .4-3.1 .3 3.5 .4-4.2 .3 5.5 .3-3.3 .4 2.5 .3-4.7 .4 4.8 .3-4.3 .3 4.7 .4-4.6 .3 4.4 .4-3.7 .3 4.2 .3-3.4 .4 3.9 .3-4.3 .4 5 .3-4.7 .3 3.7 .4-2.6 .3 3.7 .4-4.7 .3 4.4 .3-4.1 .4 3.3 .3-3 .4 2.7 .3-2.9 .3 3.9 .4-4 .3 3.5 .4-4.7 .3 3.6 .3-3.3 .4 3.7 .3-3.7 .4 3.8 .3-2.1 .3 3.3 .4-2.6 .3 3.3 .4-4.2 .3 4 .3-3.2 .4 2.4 .3-1.9 .4 1.9 .3-2.9 .3 3.3 .4-3.6 .3 3.4 .4-3.1 .3 2.7 .3-2.2 .4 2.9 .3-2.9 .4 4 .3-3 .3 4.2 .4-4.7 .3 3.9 .4-5.2 .3 3.3 .3-3.6 .4 4.1 .3-4.2 .4 2.7 .3-2.2 .3 3.8 .4-3.2 .3 4.8 .4-4.1 .3 3.3 .3-3 .4 2.9 .3-2.6 .4 3.6 .3-4.7 .3 5.6 .4-4 .3 2.7 .4-3.2 .3 2.8 .3-4.5 .4 5.1 .3-4.2 .4 3.3 .3-2.6 .3 3.2 .4-1.9 .3 2.1 .4-3.1 .3 4.6 .3-3.4 .4 3.1 .3-4.2 .4 3.6 .3-3.8 .3 3.4 .4-4.4 .3 5.7 .4-4.3 .3 3.1 .3-3.3 .4 3.2 .3-3.1 .4 3.4 .3-3 .3 1.9 .4-2.9 .3 2.7 .4-2.6 .3 4 .3-3.3 .4 2.7 .3-3.9 .4 4.4 .3-3.3 .3 3.6 .4-4.1 .3 4 .4-2.6 .3 4.3 .3-3.6 .4 1.8 .3-3.2 .4 4 .3-4.7 .3 3.9 .4-3.8 .3 3.8 .4-5.3 .3 4.9 .3-3.8 .4 3.5 .3-2.7 .4 2.7 .3-2.9 .3 3.9 .4-4.1" stroke="#1a56e8" stroke-width="1.2"/>
<path d="M42.4 497.4l.3-6.2 .4 5.9 .3-5.1 .4 4.8 .3-6.9 .3 8.1 .4-8.3 .3 8.3 .4-7.6 .3 6.3 .3-4.9 .4 5.2 .3-7.3 .4 6.4 .3-5.8 .3 6.6 .4-8.6 .3 7.9 .4-8.9 .3 7.8 .3-7.4 .4 7.4 .3-7.6 .4 6.9 .3-7.1 .3 7 .4-8.1 .3 6.5 .4-7.6 .3 9.6 .3-8.9 .4 9.2 .3-9.6 .4 8.5 .3-9.2 .3 7.9 .4-6.7 .3 6.7 .4-8.7 .3 7.8 .3-9.9 .4 7.2 .3-7.8 .4 6.3 .3-7.8 .3 7.6 .4-8.6 .3 9.8 .4-9.9 .3 7.2 .3-14.1 .4 13.2 .3-7.6 .4 7.6 .3-8 .3 6.3 .4-7.7 .3 8.8 .4-9 .3 7.9 .3-8.7 .4 8.1 .3-9.9 .4 9.2 .3-8.8 .3 6.9 .4-9 .3 9.5 .4-10.9 .3 8.9 .3-7 .4 7.9 .3-10 .4 6.2 .3-7 .3 6.9 .4-9.4 .3 9.4 .4-8.5 .3 6.7 .3-9.7 .4 8.1 .3-9.4 .4 6.4 .3-8.9 .3 8 .4-8 .3 8.4 .4-10.1 .3 9 .3-11.3 .4 11 .3-9.7 .4 7.9 .3-8.6 .3 7.3 .4-11.5 .3 10.5 .4-10.3 .3 7.1 .3-6.7 .4 6.1 .3-9 .4 8.6 .3-8.7 .3 7.9 .4-10.1 .3 7.7 .4-9.7 .3 7.9 .3-9.1 .4 7 .3-10.1 .4 7.2 .3-8.4 .3 8.2 .4-11 .3 9.3 .4-11.5 .3 9.3 .3-12.1 .4 10.1 .3-7.1 .4 5.2 .3-6.5 .3 6.9 .4-8.3 .3 6.3 .4-8.7 .3 7.1 .3-8.6 .4 8.9 .3-11.1 .4 8.7 .3-8.7 .3 5.8 .4-9.6 .3 10.7 .4-10.7 .3 8.5 .3-11.2 .4 8.8 .3-10.1 .4 8.9 .3-9.4 .3 9.1 .4-9.8 .3 7.5 .4-10.1 .3 9 .3-8.3 .4 6.1 .3-8.1 .4 8.1 .3-8.4 .3 8.6 .4-11 .3 8.4 .4-9.1 .3 6.6 .3-11.7 .4 9.9 .3-10.8 .4 9.5 .3-11.1 .3 9.4 .4-10.4 .3 9 .4-9.4 .3 9.7 .3-13.8 .4 10.5 .3-10.1 .4 10.5 .3-12.6 .3 9.1 .4-11 .3 8.6 .4-9.7 .3 8.5 .3-9.4 .4 7.9 .3-11.6 .4 9.8 .3-9.2 .3 9.9 .4-11.7 .3 8 .4-10.5 .3 8.2 .3-7.9 .4 6.7 .3-9.6 .4 7.3 .3-8.8 .3 7.5 .4-9.2 .3 6.9 .4-8.5 .3 9.1 .3-9.6 .4 7.4 .3-10.6 .4 9.2 .3-12.2 .3 8.1 .4-9.6 .3 9.9 .4-9.3 .3 6.8 .3-10.8 .4 8.6 .3-10.2 .4 9.2 .3-9.7 .3 8.1 .4-10.7 .3 9.6 .4-10.4 .3 11.3 .3-11.3 .4 6.6 .3-9.6 .4 7.7 .3-10.9 .3 10 .4-11.5 .3 11.1 .4-9.9 .3 6.1 .3-8.7 .4 7.8 .3-9.8 .4 8.8 .3-10.5 .3 6.5 .4-8 .3 6.5 .4-8.4 .3 7.7 .3-8.6 .4 8 .3-9.4 .4 8.9 .3-10.3 .3 9.3 .4-9 .3 8.4 .4-8.9 .3 6.7 .3-8.4 .4 7.5 .3-7.1 .4 6.5 .3-6.4 .3 7 .4-8.9 .3 8.2 .4-11.9 .3 9.3 .3-9 .4 7.3 .3-8.2 .4 8.3 .3-7.3 .3 6.6 .4-7.8 .3 7.2 .4-9.2 .3 7.6 .3-9.1 .4 7.3 .3-8.8 .4 8.4 .3-8.8 .3 8.9 .4-8.5 .3 5.4 .4-7.1 .3 8.1 .3-8 .4 6.6 .3-7.6 .4 8.4 .3-7.8 .3 5.6 .4-7.2 .3 7 .4-8.2 .3 9.1 .3-8.6 .4 8.9 .3-9.1 .4 7.4 .3-8.2 .3 7.5 .4-8.6 .3 8.6 .4-7.5 .3 6.9 .3-6.7 .4 4.9 .3-6.5 .4 7.5 .3-7.4 .3 7.3 .4-7.3 .3 6 .4-7.4 .3 8 .3-9.2 .4 6.8 .3-6.8 .4 5 .3-8.3 .3 7.2 .4-6.3 .3 6.1 .4-6.9 .3 7.5 .3-8.2 .4 7.6 .3-7.7 .4 7.2 .3-6.5 .3 5.5 .4-6.1 .3 7.9 .4-9.5 .3 8 .3-6.6 .4 5.1 .3-7.9 .4 6.9 .3-7.3 .3 7.3 .4-6.7 .3 7.6 .4-7.5 .3 7.6 .3-7.5 .4 8 .3-9.2 .4 8.9 .3-8.7 .3 5.7 .4-4.2 .3 5.4 .4-7.1 .3 8.9 .3-8.4 .4 6.7 .3-6.4 .4 7 .3-8.2 .3 8 .4-7.9 .3 4.9 .4-4.4 .3 4.4 .3-5.1 .4 9 .3-10.5 .4 8.9 .3-9.6 .3 7.6 .4-7.9 .3 7.8 .4-7.6 .3 6.5 .3-7.8 .4 7.4 .3-7.3 .4 6.5 .3-7.4 .3 7.5 .4-6.8 .3 6.7 .4-7.8 .3 7.7 .3-6.7 .4 6.5 .3-7.1 .4 5 .3-7.1 .3 9 .4-7.5 .3 7.6 .4-9.3 .3 9.2 .3-7.1 .4 6.7 .3-7.5 .4 6.5 .3-7.5 .3 8.4 .4-7.1 .3 6.5 .4-8.4 .3 6.8 .3-8.7 .4 8.7 .3-8.3 .4 8.2 .3-7.3 .3 8 .4-8 .3 7.1 .4-7.2 .3 9.3 .3-10.1 .4 9.3 .3-6.5 .4 4.9 .3-6.4 .3 6.3 .4-5.8 .3 6.4 .4-6.3 .3 4.3 .3-6.1 .4 7.6 .3-8.4 .4 7.1 .3-6.6 .3 7 .4-6.6 .3 4.7 .4-3.2 .3 5.8 .3-7.4 .4 6.8 .3-4.8 .4 4.8 .3-9.2 .3 8.9 .4-8.7 .3 8 .4-8.4 .3 7.4 .3-7 .4 7.2 .3-7.2 .4 7.5 .3-6.5 .3 6 .4-5.9 .3 6.5 .4-7 .3 7.5 .3-8.2 .4 7 .3-5.8 .4 5.3 .3-7.1 .3 10 .4-9.2 .3 7.8 .4-7 .3 6.3 .3-8.3 .4 8.2 .3-5.9 .4 5.6 .3-7 .3 7.6 .4-9.1 .3 8.5 .4-6.7 .3 7.9 .3-6.7 .4 6 .3-5.6 .4 5.6 .3-7.8 .3 7.4 .4-8.1 .3 6.7 .4-5.4 .3 7.3 .3-8.3 .4 7.6 .3-7.5 .4 6.6 .3-5.3 .3 6.2 .4-7.9 .3 6.7 .4-9.6 .3 8.9 .3-6.7 .4 9.7 .3-8.4 .4 6.9 .3-6.5 .3 7.1 .4-8.5 .3 7.2 .4-7.1 .3 6.4 .3-4.8 .4 5.2 .3-6.1 .4 6.4 .3-5.4 .3 6.4 .4-6.2 .3 6.7 .4-9.4 .3 8.4 .3-6.5 .4 7.5 .3-6.4 .4 6.2 .3-7.6 .3 8.7 .4-9 .3 7 .4-6.7 .3 6.2 .3-7.3 .4 6.9 .3-5.8 .4 5.6 .3-7.4 .3 6.7 .4-6.5 .3 8.5 .4-6.8 .3 6.9 .3-5.8 .4 5.4 .3-7.7 .4 6.8 .3-6.7 .3 6.9 .4-7.4 .3 8.2 .4-8.3 .3 8.3 .3-7.4 .4 8.5 .3-8.9 .4 8.8 .3-6.9 .3 5.8 .4-6.7 .3 5.2 .4-4.8 .3 6.1 .3-9.2 .4 9.2 .3-7.7 .4 7.2 .3-8 .3 7.3 .4-7.4 .3 9 .4-8 .3 8.2 .3-8.1 .4 7.9 .3-6.6 .4 5.9 .3-6.9 .3 7.9 .4-8.8 .3 8 .4-6.9 .3 6.7 .3-7.1 .4 6.5 .3-8.5 .4 8.3 .3-5.1 .3 3.9 .4-6.4 .3 7.7 .4-7.1 .3 7.3 .3-7.9 .4 8 .3-6.5 .4 8.4 .3-9.2 .3 9.5 .4-8.4 .3 5.7 .4-7.4 .3 7.3 .3-8.2 .4 6.7 .3-5.8 .4 7.8 .3-8.7 .3 8.4 .4-7.9 .3 9.5 .4-8.2 .3 7.6 .3-6.2 .4 5.2 .3-7.2 .4 8 .3-7.2 .3 5.6 .4-5.1 .3 4.4 .4-4.2 .3 5.8 .3-7.4 .4 7.5 .3-8.4 .4 6.4 .3-7.2 .3 6.9 .4-7.1 .3 9.5 .4-6.2 .3 5.8 .3-8.7 .4 9.7 .3-7.7 .4 4.5 .3-5.9 .3 7.3 .4-7.3 .3 7.8 .4-7.5 .3 7.8 .3-6.7 .4 6.6 .3-7.1 .4 7.8 .3-5.9 .3 5.2 .4-6.4 .3 6.2 .4-6.4 .3 5.8 .3-6.5 .4 5.9 .3-3.1 .4 4.9 .3-6.5 .3 7.8 .4-7.7 .3 5.4 .4-6.9 .3 6.7 .3-7.6 .4 7.2 .3-9.3 .4 8 .3-6.7 .3 7.1 .4-4.9 .3 4.9 .4-5.1 .3 6.4 .3-6 .4 7.6 .3-8 .4 6.4 .3-5.6 .3 6.3 .4-6.3 .3 5.5 .4-4.6 .3 5.6 .3-8.4 .4 5.7 .3-3.9 .4 5.8 .3-6.5 .3 7.7 .4-8.7 .3 5.5 .4-5.6 .3 5.7 .3-7.1 .4 8.1 .3-7.7 .4 7.1 .3-6.9 .3 8.7 .4-7.9 .3 6.4 .4-5.7 .3 6.8 .3-6.1 .4 6.6 .3-7.6 .4 6.8 .3-4.6 .3 4.7 .4-4.4 .3 4.8 .4-6.6 .3 5 .3-4.9 .4 6.7 .3-5.6 .4 4.6 .3-4.8 .3 5.8 .4-6.5 .3 6.6 .4-8.9 .3 8.6 .3-7.2 .4 7.2 .3-6.7 .4 5.9 .3-8.3 .3 7.9 .4-6.1 .3 5.8 .4-6.6 .3 7 .3-6.3 .4 5.6 .3-5.2 .4 6.2 .3-6.8 .3 8.2 .4-7.4 .3 5.9 .4-4.7 .3 3.9 .3-6.5 .4 8.7 .3-7.1 .4 4.3 .3-5.2 .3 6.9 .4-6.5 .3 6.7 .4-7 .3 7.2 .3-6.5 .4 5.3 .3-5.5 .4 7.4 .3-6.4 .3 6.5 .4-8.2 .3 7.7 .4-7.1 .3 5 .3-4.3 .4 5.7 .3-6.2 .4 6.5 .3-6 .3 6.7 .4-6.1 .3 6.8 .4-6.2 .3 4.4 .3-6.9 .4 5.9 .3-6.7 .4 6.2 .3-5.5 .3 12.4 .4-11.4 .3 5.9 .4-5.9 .3 5.4 .3-4.7 .4 5.6 .3-5.6 .4 6.4 .3-7.9 .3 6.9 .4-6.6 .3 7.8 .4-6.8 .3 4.2 .3-6.2 .4 6.9 .3-8.1 .4 9.3 .3-5.2 .3 5.6 .4-7.1 .3 5.8 .4-7.8 .3 6.6 .3-5.6 .4 6.5 .3-5.9 .4 5.2 .3-6.9 .3 7.1 .4-6.7 .3 6.5 .4-5 .3 4.5 .3-3.4 .4 5.1 .3-7.7 .4 7.7 .3-5.2 .3 4.9 .4-6.9 .3 7.5 .4-8.3 .3 7.8 .3-6.3 .4 5.5 .3-6.5 .4 5.7 .3-5.4 .3 5.9 .4-7.7 .3 9.4 .4-8 .3 6.7 .3-6.1 .4 5.4 .3-7.6 .4 7.2 .3-6.9 .3 8.3 .4-7.4 .3 5.4 .4-5.1 .3 6.8 .3-8.3 .4 8.5 .3-6.3 .4 6.8 .3-6.6 .3 5.5 .4-6.5 .3 6.6 .4-7.1 .3 7.3 .3-5.1 .4 5.7 .3-6.7 .4 6.8 .3-7.2 .3 7.2 .4-7.9 .3 7.5 .4-5.8 .3 6.5 .3-7.2 .4 8.8 .3-8.2 .4 5.9 .3-7.7 .3 7.6 .4-7 .3 6.8 .4-6.8 .3 8 .3-8.6 .4 7.3 .3-6.5 .4 8.3 .3-7.3 .3 8.7 .4-9.4 .3 9.6 .4-7.9 .3 6.8 .3-6.9 .4 4.5 .3-6.9 .4 6.3 .3-6.4 .3 5.8 .4-5.5 .3 5.3 .4-5.9 .3 6.7 .3-6.3 .4 7.3 .3-6.7 .4 6.7 .3-8.9 .3 9 .4-8.6 .3 9.2 .4-9.1 .3 7.9 .3-6.4 .4 5.7 .3-6.4 .4 5.3 .3-5.7 .3 7.8 .4-7.7 .3 7.3 .4-7.5 .3 7.8 .3-6.7 .4 4.5 .3-5.7 .4 7.5 .3-7.9 .3 6.7 .4-6.6 .3 6.3 .4-5.1 .3 5.8 .3-7.3 .4 8.3 .3-5.3 .4 6 .3-6.8 .3 6.9 .4-7.2 .3 4.5 .4-7.1 .3 7.6 .3-5.4 .4 5.2 .3-7.8 .4 9.3 .3-7.1 .3 5.9 .4-6.6 .3 6.5 .4-5.7 .3 8.3 .3-9.2 .4 7.6 .3-6.3 .4 7.4 .3-6.6 .3 5.9 .4-6.5 .3 6 .4-8.5 .3 7.5 .3-5 .4 5.1 .3-5.7 .4 5.1 .3-4.3 .3 5.2 .4-7 .3 7.3 .4-6.5 .3 6.9 .3-7.2 .4 6.8 .3-6 .4 7.3 .3-7.1 .3 6.4 .4-6.6 .3 6.7 .4-6.6 .3 5.1 .3-5.5 .4 4.7 .3-3.4 .4 3.3 .3-8 .3 7.3 .4-5 .3 8 .4-5.4 .3 10.2 .3-2.4 .4 7.9 .3-2.4 .4 7.8 .3-2.7 .3 9.3 .4-4.7 .3 11.5 .4-6.2 .3 12.8 .3-6.7 .4 8.6 .3-2.5 .4 8.6 .3-5.7 .3 10.4 .4-4.6 .3 10.5 .4-5.8 .3 8.8 .3-4.9 .4 8.7 .3-5.3 .4 8.3 .3-3.4 .3 8.6 .4-5.8 .3 9.5 .4-5.9 .3 9.1 .3-6.2 .4 9.4 .3-5.3 .4 9.8 .3-6.5 .3 8.4 .4-4.2 .3 10.2 .4-6.6 .3 10.1 .3-7.6 .4 9.2 .3-5.1 .4 9.6 .3-6.8 .3 7.8 .4-5.7 .3 9.2 .4-5.2 .3 7.6 .3-5.3 .4 9.8 .3-4.8 .4 6.8 .3-4.1 .3 7.9 .4-6.1 .3 7.2 .4-5.3 .3 6.3 .3-3.8 .4 7.2 .3-5.9 .4 7.7 .3-5.4 .3 9.1 .4-5.8 .3 9.1 .4-7.1 .3 10.2 .3-6.3 .4 7 .3-5.5 .4 4.6 .3-3.4 .3 4.8 .4-2.8 .3 6.5 .4-5.2 .3 6.8 .3-5.7 .4 7.9 .3-6.3 .4 7.6 .3-6.8 .3 9.7 .4-4.8 .3 7.3 .4-7.2 .3 6.1 .3-6.4 .4 9.3 .3-6.1 .4 9.8 .3-7.5 .3 6.5 .4-5.7 .3 6 .4-5 .3 7.5 .3-6.4 .4 9.6 .3-6.9 .4 5.3 .3-6.1 .3 7.9 .4-5.6 .3 7.4 .4-7.9 .3 8.3 .3-5.4 .4 6.9 .3-8.1 .4 8.6 .3-6.3 .3 7.9 .4-7.9 .3 7 .4-6.9 .3 7.8 .3-4.3 .4 5 .3-6 .4 7.5 .3-7.2 .3 6.9 .4-4.6 .3 6.4 .4-6.3 .3 7.4 .3-6.8 .4 7.1 .3-5 .4 6.4 .3-5.6 .3 6.7 .4-6.2 .3 6.7 .4-7.2 .3 7.9 .3-6 .4 6.9 .3-8.7 .4 7.8 .3-5 .3 6.8 .4-6.1 .3 6.2 .4-5.7 .3 5.3 .3-6.1 .4 7.8 .3-6.8 .4 7 .3-5.7 .3 6 .4-6 .3 8 .4-5.3 .3 6.1 .3-6 .4 4.6 .3-6.1 .4 8.4 .3-7.1 .3 6.6 .4-7.4 .3 8.1 .4-8.7 .3 9.9 .3-6.6 .4 6.1 .3-5.1 .4 6.8 .3-5.4 .3 6.8 .4-7.3 .3 8.3 .4-9.3 .3 6.4 .3-7.6 .4 8.9 .3-6.5 .4 4.5 .3-5.3 .3 9.4 .4-8.9 .3 7.7 .4-7.2 .3 8.2 .3-7.3 .4 5.7 .3-6.1 .4 8 .3-6.8 .3 6.9 .4-8.1 .3 8.1 .4-6.6 .3 8.8 .3-9.9 .4 9 .3-7.4 .4 5.8 .3-5.7 .3 6.9 .4-5.9 .3 6.5 .4-7.1 .3 7.3 .3-7.7 .4 6.4 .3-5.3 .4 7.1 .3-7.9 .3 6.5 .4-5.7 .3 6.6 .4-4.8 .3 4.8 .3-7 .4 6.4 .3-5.3 .4 7.2 .3-8.2 .3 6.4 .4-5.9 .3 7.5 .4-5.2 .3 5 .3-5.6 .4 7.3 .3-6.9 .4 6.6 .3-6.1 .3 6.9 .4-6.4 .3 5.9 .4-6.2 .3 6.2 .3-7.4 .4 6.8 .3-5.2 .4 6.1 .3-5.1 .3 7.3 .4-10.2 .3 10.5 .4-8.7 .3 5.5 .3-4.8 .4 6.4 .3-8.6 .4 8.8 .3-7.2 .3 7.8 .4-7.4 .3 7.1 .4-6.6 .3 6 .3-7.5 .4 6.4 .3-4.5 .4 6.5 .3-7 .3 7.3 .4-6.9 .3 5.6 .4-6.8 .3 6.6 .3-4.9 .4 3.5 .3-2.6 .4 5.5 .3-5.8 .3 4.7 .4-5.4 .3 7.5 .4-7 .3 6.1 .3-7.8 .4 7.4 .3-5 .4 5.5 .3-7.5 .3 7.9 .4-8 .3 7.9 .4-8.2 .3 9.8 .3-8.4 .4 7.6 .3-7.7 .4 7.1 .3-7.2 .3 8.1 .4-6.8 .3 5.7 .4-6.1 .3 3.6 .3-6.4 .4 8.5 .3-6.5 .4 6.1 .3-6.4 .3 7.1 .4-8 .3 8.3 .4-6.4 .3 5.6 .3-5.6 .4 6.1 .3-4.8 .4 4.7 .3-6.3 .3 7.8 .4-7 .3 4.5 .4-6.1 .3 5.7 .3-6.5 .4 9.2 .3-7.4 .4 8.2 .3-5.2 .3 6.1 .4-6.7 .3 5.5 .4-6.8 .3 6.7 .3-7.9 .4 7.6 .3-8.3 .4 7.6 .3-6.1 .3 6.9 .4-6.5 .3 7.1 .4-7.3 .3 6.5 .3-7.2 .4 5.8 .3-5.7 .4 6.9 .3-7.5 .3 8.4 .4-6.7 .3 6.2 .4-8.5 .3 7.8 .3-7.5 .4 8.7 .3-7.1 .4 4.4 .3-7.6 .3 7.9 .4-6 .3 5.9 .4-3.6 .3 5.4 .3-7.2 .4 8.2 .3-8.5 .4 6.7 .3-5 .3 5.6 .4-8 .3 8.2 .4-8 .3 8.8 .3-7.6 .4 5.5 .3-7.6 .4 7 .3-6.2 .3 5.6 .4-7.2 .3 6.7 .4-6.5 .3 7 .3-6.1 .4 5.9 .3-6.4 .4 6.9 .3-6.4 .3 5.4 .4-6.9 .3 7.3 .4-6.4 .3 6.3 .3-5.7 .4 7.3 .3-7 .4 5.1 .3-6.4 .3 8 .4-6.6 .3 7 .4-6.5 .3 5.4 .3-4.7 .4 6.1 .3-7 .4 6.9 .3-6.2 .3 5.3 .4-3.6 .3 6.1 .4-5.8 .3 6.3 .3-6.9 .4 5.5 .3-6.1 .4 5.8 .3-6.2 .3 6.2 .4-7.9 .3 6.1 .4-5.1 .3 7.1 .3-6 .4 7.3 .3-8 .4 6.9 .3-6.1 .3 8 .4-9.2 .3 7.7 .4-7 .3 6.3 .3-5.8 .4 5.7 .3-7.9 .4 7.5 .3-7.1 .3 6.9 .4-6.7" stroke="#34a865" stroke-width="1.2"/>
<line x1="234.85" y1="319" x2="234.85" y2="342.4" stroke="#f02828" stroke-width="1.3"/>
<line x1="305.4" y1="283" x2="305.4" y2="308.7" stroke="#34a865" stroke-width="1.4"/>
<line x1="306.6" y1="287" x2="306.6" y2="300" stroke="#34a865" stroke-width="1.1"/>
</g>
<clipPath id="cp2"><rect x="42.4" y="557.7" width="478.6" height="215.29999999999995"/></clipPath>
<g clip-path="url(#cp2)" fill="none" stroke-linejoin="round">
<path d="M42.4 762.0l.5 0 .5-.1 .5-.2 .5-.1 .5-.3 .5-.2 .5-.3 .5-.3 .5-.4 .5-.3 .5-.4 .5-.5 .5-.4 .5-.5 .5-.5 .5-.5 .5-.5 .5-.6 .5-.6 .5-.6 .5-.6 .5-.6 .5-.6 .5-.6 .5-.7 .5-.6 .5-.7 .5-.6 .5-.7 .5-.6 .5-.7 .5-.6 .5-.7 .5-.7 .5-.6 .5-.7 .5-.7 .5-.7 .5-.7 .5-.7 .5-.7 .5-.7 .5-.7 .5-.8 .5-.8 .5-.7 .5-.8 .5-.8 .5-.8 .5-.9 .5-.8 .5-.9 .5-.8 .5-.9 .5-.9 .5-.9 .5-.8 .5-1 .5-.9 .5-.9 .5-.9 .5-.9 .5-.9 .5-1 .5-.9 .5-.9 .5-.9 .5-1 .5-.9 .5-1 .5-1 .5-.9 .5-1 .5-1 .5-1 .5-1 .5-1.1 .5-1.1 .5-1.1 .5-1.1 .5-1.1 .5-1.2 .5-1.1 .5-1.2 .5-1.3 .5-1.2 .5-1.2 .5-1.3 .5-1.3 .5-1.2 .5-1.3 .5-1.3 .5-1.3 .5-1.2 .5-1.3 .5-1.3 .5-1.2 .5-1.3 .5-1.2 .5-1.2 .5-1.2 .5-1.2 .5-1.2 .5-1.1 .5-1.1 .5-1.2 .5-1.1 .5-1.1 .5-1 .5-1.1 .5-1.1 .5-1.1 .5-1 .5-1.1 .5-1.1 .5-1.1 .5-1.1 .5-1.1 .5-1 .5-1.1 .5-1 .5-1 .5-.9 .5-1 .5-.9 .5-.9 .5-.9 .5-.9 .5-.8 .5-.9 .5-.8 .5-.8 .5-.8 .5-.8 .5-.8 .5-.8 .5-.8 .5-.8 .5-.8 .5-.8 .5-.7 .5-.8 .5-.7 .5-.8 .5-.7 .5-.8 .5-.7 .5-.7 .5-.7 .5-.7 .5-.7 .5-.7 .5-.6 .5-.7 .5-.7 .5-.6 .5-.6 .5-.7 .5-.6 .5-.6 .5-.6 .5-.5 .5-.6 .5-.6 .5-.5 .5-.6 .5-.5 .5-.5 .5-.5 .5-.6 .5-.5 .5-.4 .5-.5 .5-.5 .5-.5 .5-.4 .5-.5 .5-.4 .5-.5 .5-.4 .5-.5 .5-.4 .5-.4 .5-.4 .5-.4 .5-.4 .5-.4 .5-.4 .5-.4 .5-.4 .5-.4 .5-.3 .5-.4 .5-.3 .5-.4 .5-.3 .5-.3 .5-.3 .5-.3 .5-.3 .5-.3 .5-.3 .5-.3 .5-.3 .5-.3 .5-.2 .5-.3 .5-.3 .5-.2 .5-.3 .5-.2 .5-.3 .5-.2 .5-.3 .5-.2 .5-.2 .5-.3 .5-.2 .5-.2 .5-.2 .5-.2 .5-.2 .5-.2 .5-.2 .5-.2 .5-.2 .5-.2 .5-.2 .5-.2 .5-.2 .5-.2 .5-.1 .5-.2 .5-.2 .5-.1 .5-.2 .5-.2 .5-.1 .5-.2 .5-.1 .5-.2 .5-.1 .5-.2 .5-.1 .5-.2 .5-.1 .5-.1 .5-.2 .5-.1 .5-.1 .5-.2 .5-.1 .5-.1 .5-.1 .5-.2 .5-.1 .5-.1 .5-.1 .5-.1 .5-.1 .5-.2 .5-.1 .5-.1 .5-.1 .5-.1 .5-.2 .5-.1 .5-.1 .5-.1 .5-.1 .5-.2 .5-.1 .5-.1 .5-.1 .5-.2 .5-.1 .5-.1 .5-.1 .5-.1 .5-.1 .5-.2 .5-.1 .5-.1 .5-.1 .5-.1 .5-.1 .5-.1 .5-.1 .5-.1 .5-.1 .5-.1 .5-.1 .5-.1 .5-.1 .5-.1 .5-.1 .5-.1 .5-.1 .5-.1 .5 0 .5-.1 .5-.1 .5-.1 .5-.1 .5 0 .5-.1 .5-.1 .5-.1 .5 0 .5-.1 .5-.1 .5 0 .5-.1 .5-.1 .5 0 .5-.1 .5-.1 .5 0 .5-.1 .5-.1 .5 0 .5-.1 .5 0 .5-.1 .5 0 .5-.1 .5-.1 .5 0 .5-.1 .5 0 .5-.1 .5 0 .5-.1 .5 0 .5-.1 .5 0 .5-.1 .5 0 .5-.1 .5 0 .5-.1 .5 0 .5-.1 .5 0 .5-.1 .5 0 .5 0 .5-.1 .5 0 .5-.1 .5 0 .5-.1 .5 0 .5 0 .5-.1 .5 0 .5-.1 .5 0 .5 0 .5-.1 .5 0 .5 0 .5-.1 .5 0 .5-.1 .5 0 .5 0 .5-.1 .5 0 .5 0 .5-.1 .5 0 .5 0 .5 0 .5-.1 .5 0 .5 0 .5-.1 .5 0 .5 0 .5-.1 .5 0 .5 0 .5 0 .5-.1 .5 0 .5 0 .5 0 .5-.1 .5 0 .5 0 .5 0 .5-.1 .5 0 .5 0 .5 0 .5-.1 .5 0 .5 0 .5 0 .5 0 .5-.1 .5 0 .5 0 .5 0 .5 0 .5-.1 .5 0 .5 0 .5 0 .5 0 .5-.1 .5 0 .5 0 .5 0 .5 0 .5-.1 .5 0 .5 0 .5 0 .5 0 .5 0 .5-.1 .5 0 .5 0 .5 0 .5 0 .5 0 .5 0 .5-.1 .5 0 .5 0 .5 0 .5 0 .5 0 .5 0 .5-.1 .5 0 .5 0 .5 0 .5 0 .5 0 .5 0 .5 0 .5-.1 .5 0 .5 0 .5 0 .5 0 .5 0 .5 0 .5 0 .5 0 .5-.1 .5 0 .5 0 .5 0 .5 0 .5 0 .5 0 .5 0 .5 0 .5 0 .5-.1 .5 0 .5 0 .5 0 .5 0 .5 0 .5 0 .5 0 .5 0 .5 0 .5 0 .5-.1 .5 0 .5 0 .5 0 .5 0 .5 0 .5 0 .5 0 .5 0 .5 0 .5 0 .5-.1 .5 0 .5 0 .5 0 .5 0 .5 0 .5 0 .5 0 .5 0 .5 0 .5-.1 .5 0 .5 0 .5 0 .5 0 .5 0 .5 0 .5 0 .5 0 .5 0 .5 0 .5 0 .5-.1 .5 0 .5 0 .5 0 .5 0 .5 0 .5 0 .5 0 .5 0 .5 0 .5 0 .5 0 .5 0 .5-.1 .5 0 .5 0 .5 0 .5 0 .5 0 .5 0 .5 0 .5 0 .5 0 .5 0 .5 0 .5 0 .5 0 .5 0 .5-.1 .5 0 .5 0 .5 0 .5 0 .5 0 .5 0 .5 0 .5 0 .5 0 .5 0 .5 0 .5 0 .5 0 .5 0 .5 0 .5-.1 .5 0 .5 0 .5 0 .5 0 .5 0 .5 0 .5 0 .5 0 .5 0 .5 0 .5 0 .5 0 .5 0 .5 0 .5 0 .5 0 .5 0 .5-.1 .5 0 .5 0 .5 0 .5 0 .5 0 .5 0 .5 0 .5 0 .5 0 .5 0 .5 0 .5 0 .5 0 .5 0 .5 0 .5 0 .5 0 .5 0 .5 0 .5 0 .5-.1 .5 0 .5 0 .5 0 .5 0 .5 0 .5 0 .5 0 .5 0 .5 0 .5 0 .5 0 .5 0 .5 0 .5 0 .5 0 .5 0 .5 0 .5 0 .5 0 .5 0 .5 0 .5 0 .5-.1 .5 0 .5 0 .5 0 .5 0 .5 0 .5 0 .5 0 .5 0 .5 0 .5 0 .5 0 .5 0 .5 0 .5 0 .5 0 .5 0 .5 0 .5 0 .5 0 .5 0 .5 0 .5 0 .5 0 .5 0 .5 0 .5-.1 .5 0 .5 0 .5 0 .5 0 .5 0 .5 0 .5 0 .5 0 .5 0 .5 0 .5 0 .5 0 .5 0 .5 0 .5 0 .5 0 .5 0 .5 0 .5 0 .5 0 .5 0 .5 0 .5 0 .5 0 .5 0 .5 0 .5 0 .5 0 .5-.1 .5 1.4 .5 3.1 .5 3 .5 2.9 .5 2.9 .5 2.8 .5 2.7 .5 2.8 .5 2.6 .5 2.6 .5 2.6 .5 2.5 .5 2.4 .5 2.4 .5 2.4 .5 2.3 .5 2.2 .5 2.2 .5 2.1 .5 2.1 .5 2 .5 2 .5 1.9 .5 1.8 .5 1.8 .5 1.8 .5 1.7 .5 1.7 .5 1.6 .5 1.6 .5 1.6 .5 1.5 .5 1.5 .5 1.5 .5 1.4 .5 1.5 .5 1.4 .5 1.4 .5 1.4 .5 1.3 .5 1.4 .5 1.3 .5 1.3 .5 1.3 .5 1.3 .5 1.2 .5 1.2 .5 1.2 .5 1.2 .5 1.1 .5 1.2 .5 1.1 .5 1 .5 1.1 .5 1 .5 1.1 .5 1 .5 .9 .5 1 .5 1 .5 .9 .5 1 .5 .9 .5 .9 .5 .9 .5 .9 .5 .9 .5 .9 .5 .9 .5 .8 .5 .9 .5 .8 .5 .9 .5 .8 .5 .9 .5 .8 .5 .8 .5 .8 .5 .8 .5 .8 .5 .8 .5 .7 .5 .8 .5 .8 .5 .7 .5 .8 .5 .7 .5 .7 .5 .8 .5 .7 .5 .6 .5 .7 .5 .7 .5 .6 .5 .7 .5 .6 .5 .6 .5 .6 .5 .6 .5 .6 .5 .6 .5 .5 .5 .6 .5 .5 .5 .6 .5 .5 .5 .5 .5 .5 .5 .5 .5 .4 .5 .5 .5 .5 .5 .4 .5 .5 .5 .4 .5 .4 .5 .5 .5 .4 .5 .4 .5 .4 .5 .4 .5 .3 .5 .4 .5 .4 .5 .3 .5 .4 .5 .4 .5 .3 .5 .3 .5 .4 .5 .3 .5 .3 .5 .4 .5 .3 .5 .3 .5 .3 .5 .3 .5 .3 .5 .3 .5 .3 .5 .3 .5 .3 .5 .3 .5 .3 .5 .3 .5 .2 .5 .3 .5 .3 .5 .2 .5 .3 .5 .2 .5 .3 .5 .2 .5 .3 .5 .2 .5 .3 .5 .2 .5 .2 .5 .3 .5 .2 .5 .2 .5 .2 .5 .3 .5 .2 .5 .2 .5 .2 .5 .2 .5 .2 .5 .2 .5 .2 .5 .2 .5 .2 .5 .2 .5 .2 .5 .1 .5 .2 .5 .2 .5 .1 .5 .2 .5 .2 .5 .1 .5 .2 .5 .1 .5 .2 .5 .1 .5 .2 .5 .1 .5 .2 .5 .1 .5 .2 .5 .1 .5 .1 .5 .2 .5 .1 .5 .1 .5 .2 .5 .1 .5 .1 .5 .2 .5 .1 .5 .1 .5 .1 .5 .2 .5 .1 .5 .1 .5 .1 .5 .2 .5 .1 .5 .1 .5 .1 .5 .1 .5 .1 .5 .1 .5 .2 .5 .1 .5 .1 .5 .1 .5 .1 .5 .1 .5 .1 .5 .1 .5 .1 .5 .1 .5 .1 .5 .1 .5 .1 .5 .1 .5 0 .5 .1 .5 .1 .5 .1 .5 .1 .5 .1 .5 0 .5 .1 .5 .1 .5 .1 .5 0 .5 .1 .5 .1 .5 .1 .5 0 .5 .1 .5 .1 .5 0 .5 .1 .5 .1 .5 0 .5 .1 .5 0 .5 .1 .5 .1 .5 0 .5 .1 .5 0 .5 .1 .5 0 .5 .1 .5 .1 .5 0 .5 .1 .5 0 .5 .1 .5 0 .5 .1 .5 0 .5 .1 .5 0 .5 .1 .5 0 .5 .1 .5 0 .5 .1 .5 0 .5 .1 .5 0 .5 .1 .5 0 .5 .1 .5 0 .5 .1 .5 0 .5 .1 .5 0 .5 .1 .5 0 .5 0 .5 .1" stroke="#1e1e1e" stroke-width="1.6"/>
<path d="M42.4 762.9l.3-3.2 .4 2.4 .3-3.6 .4 3.7 .3-4.4 .3 3.4 .4-3.5 .3 3.3 .4-4.8 .3 3.2 .3-2.9 .4 3.7 .3-3.3 .4 3.4 .3-4.6 .3 3.6 .4-4.6 .3 2.9 .4-3.4 .3 2.3 .3-3.5 .4 2.9 .3-3.7 .4 2.8 .3-4.1 .3 3.2 .4-4.2 .3 3.1 .4-4.1 .3 3.6 .3-3.9 .4 3 .3-4.1 .4 4.1 .3-3.5 .3 4.1 .4-5.9 .3 4 .4-4.5 .3 3.8 .3-4.7 .4 3.5 .3-4.6 .4 3.9 .3-4.1 .3 3 .4-5.1 .3 3.1 .4-4.4 .3 3.8 .3-5.4 .4 3.1 .3-4.2 .4 3.4 .3-3.7 .3 2.3 .4-4.1 .3 2.4 .4-4.8 .3 4.8 .3-5.5 .4 4.4 .3-4.6 .4 3.2 .3-3.8 .3 2 .4-4.7 .3 3.3 .4-4.8 .3 3.7 .3-4.6 .4 2.5 .3-3.9 .4 2.3 .3-3.5 .3 3.3 .4-5.9 .3 5.2 .4-6.2 .3 3.9 .3-4.5 .4 4.2 .3-6.3 .4 3.5 .3-4.3 .3 4.3 .4-6.7 .3 4.1 .4-5.5 .3 3.7 .3-5.2 .4 4.9 .3-6.4 .4 3.7 .3-4.9 .3 4.4 .4-5.8 .3 4.7 .4-7 .3 5.2 .3-5.8 .4 4.4 .3-5.1 .4 2.3 .3-4.8 .3 4.2 .4-5.5 .3 3.7 .4-5.6 .3 4.5 .3-4.5 .4 3 .3-4.8 .4 4.2 .3-5 .3 2.5 .4-5 .3 3.4 .4-5.2 .3 4.5 .3-5.9 .4 3.2 .3-4.7 .4 4.8 .3-6.1 .3 3.2 .4-5.4 .3 4.7 .4-6.2 .3 5.2 .3-6.8 .4 4.2 .3-4.5 .4 2 .3-4.4 .3 3.3 .4-5.3 .3 3.6 .4-4.7 .3 4.1 .3-6.3 .4 4.3 .3-6.4 .4 4.5 .3-5.7 .3 3.4 .4-4.9 .3 3.6 .4-5.3 .3 3.2 .3-5.2 .4 4.2 .3-5.2 .4 2.8 .3-5.5 .3 4.2 .4-5 .3 3.4 .4-4.6 .3 3.9 .3-6.7 .4 4.2 .3-5.9 .4 4.4 .3-5.6 .3 4.8 .4-5.6 .3 4.2 .4-5.5 .3 4.2 .3-4 .4 3.6 .3-6.9 .4 4 .3-5.7 .3 3.6 .4-4.9 .3 3.6 .4-6.4 .3 4.7 .3-5.7 .4 4.8 .3-5.5 .4 4.2 .3-5.7 .3 3.8 .4-4.8 .3 3.4 .4-4.9 .3 3.9 .3-5.1 .4 2.9 .3-3.8 .4 2.5 .3-4 .3 2.6 .4-4 .3 3.5 .4-3.5 .3 2.6 .3-4.7 .4 3.7 .3-4 .4 2.9 .3-3.1 .3 1.5 .4-2.5 .3 .9 .4-3.8 .3 4.3 .3-5.4 .4 3.5 .3-3.7 .4 3 .3-4.3 .3 3.7 .4-3.9 .3 3.1 .4-4.7 .3 2.9 .3-3.5 .4 2.6 .3-2.7 .4 2.4 .3-4.2 .3 3.8 .4-3.9 .3 3.7 .4-4.6 .3 2.3 .3-2.5 .4 2.6 .3-5 .4 4.3 .3-3.8 .3 2.7 .4-3.3 .3 3.1 .4-4 .3 2.4 .3-3.3 .4 3 .3-4.2 .4 4 .3-3.3 .3 2.4 .4-3 .3 2.5 .4-4.1 .3 2.3 .3-3.3 .4 4.5 .3-4.8 .4 3.5 .3-3.6 .3 3.2 .4-3.7 .3 3 .4-3 .3 2 .3-3.8 .4 3.4 .3-3.2 .4 2 .3-2.8 .3 3.1 .4-2.8 .3 2.9 .4-3 .3 3 .3-2.1 .4 1.1 .3-2.2 .4 1.8 .3-2.9 .3 3.2 .4-3.9 .3 3.8 .4-3.9 .3 2.5 .3-2.9 .4 3.3 .3-4.2 .4 3.1 .3-2.9 .3 2.2 .4-2.7 .3 2.6 .4-3.1 .3 3.6 .3-3.3 .4 2.2 .3-3.4 .4 3.6 .3-3.5 .3 2 .4-1.7 .3 2.8 .4-4.3 .3 3 .3-2.6 .4 2.6 .3-3.4 .4 2.4 .3-3.3 .3 2.8 .4-2.1 .3 2.6 .4-3.6 .3 3.4 .3-3.8 .4 3.1 .3-4.4 .4 3.5 .3-3.8 .3 3 .4-3.2 .3 1.3 .4-1.9 .3 2.6 .3-1.7 .4 2.1 .3-3.2 .4 2.7 .3-2.1 .3 2.5 .4-3.9 .3 3.9 .4-2.7 .3 2.4 .3-3.3 .4 2.6 .3-2.3 .4 1.9 .3-1.7 .3 1.8 .4-3.5 .3 3.4 .4-3.1 .3 3.4 .3-2.7 .4 2.4 .3-3.2 .4 3.5 .3-3 .3 2.1 .4-3 .3 3.6 .4-3.9 .3 2.3 .3-1.9 .4 2.4 .3-2.6 .4 4.2 .3-4.1 .3 2.1 .4-2.3 .3 1.2 .4-1.6 .3 2.2 .3-2.9 .4 3.1 .3-2.6 .4 2 .3-3.2 .3 3.4 .4-3.7 .3 3.6 .4-3.3 .3 2.1 .3-2.3 .4 2.1 .3-2.3 .4 2.2 .3-3.2 .3 3.5 .4-2.5 .3 2.4 .4-2.8 .3 1.4 .3-.9 .4 1.5 .3-1.7 .4 2.5 .3-2.5 .3 1.1 .4-2.2 .3 3 .4-2.4 .3 4.6 .3-5.4 .4 2.9 .3-1.4 .4 1.6 .3-1.6 .3 2 .4-3.9 .3 4.3 .4-2.7 .3 2 .3-2.3 .4 1.1 .3-1.7 .4 2.4 .3-2.9 .3 1.8 .4-2.3 .3 2 .4-2.1 .3 1.5 .3-2 .4 2.7 .3-1.1 .4 1 .3-2.5 .3 4.3 .4-3.5 .3 2.8 .4-3 .3 2.2 .3-3.4 .4 3.2 .3-1.9 .4 1.2 .3-2.5 .3 3.8 .4-3 .3 2.4 .4-1.9 .3 1.9 .3-2.4 .4 3.1 .3-3.5 .4 2.7 .3-2.3 .3 1.4 .4-1.2 .3 2.6 .4-3.3 .3 2.3 .3-2.8 .4 3.4 .3-2 .4 2.6 .3-4.2 .3 2.4 .4-2.1 .3 2.6 .4-4.4 .3 3.8 .3-2.8 .4 1.5 .3-2.6 .4 2.8 .3-2 .3 2.8 .4-2.2 .3 2 .4-1.4 .3 1.4 .3-3 .4 4.2 .3-4.5 .4 4.3 .3-2.8 .3 2.5 .4-2.3 .3 1.7 .4-2.3 .3 2.3 .3-2.4 .4 3 .3-2.5 .4 1.4 .3-1.5 .3 2 .4-2.3 .3 2.9 .4-2.5 .3 1.9 .3-1.6 .4 2.3 .3-2.9 .4 2.6 .3-1.9 .3 1 .4-1.5 .3 2.4 .4-3 .3 1.6 .3-2 .4 2.4 .3-2.7 .4 3.1 .3-2 .3 2.2 .4-2.6 .3 1.6 .4-.8 .3 1.6 .3-2.1 .4 1.7 .3-2.8 .4 3.4 .3-2.6 .3 2.2 .4-2.1 .3 2.9 .4-1.5 .3 .7 .3-1.9 .4 3.5 .3-2.6 .4 2.8 .3-3.2 .3 4.1 .4-2.5 .3 1.7 .4-3.6 .3 3.3 .3-2.5 .4 1.7 .3-2.9 .4 3.7 .3-2.4 .3 1.1 .4-2.3 .3 2.7 .4-2.8 .3 1.1 .3-1.8 .4 3.8 .3-2.1 .4 .9 .3-2.8 .3 2.8 .4-2.8 .3 3.1 .4-2.9 .3 2.8 .3-1.8 .4 2.9 .3-2.9 .4 2.3 .3-3.2 .3 3.4 .4-2.7 .3 1.3 .4-1.6 .3 2.8 .3-3 .4 2.7 .3-3.7 .4 4.5 .3-3.9 .3 3.4 .4-1.8 .3 1.4 .4-1.1 .3 1.8 .3-3.1 .4 1 .3-1.4 .4 3 .3-2.7 .3 1.8 .4-3 .3 2.5 .4-2 .3 3.2 .3-3.2 .4 2.5 .3-2 .4 2.8 .3-3 .3 3.6 .4-2.5 .3 1.9 .4-2.4 .3 3.1 .3-2.8 .4 2.5 .3-2.7 .4 1.5 .3-1.4 .3 1.5 .4-2.2 .3 2.1 .4-2.5 .3 2.8 .3-3 .4 1.8 .3-1.8 .4 3.1 .3-2.2 .3 2.3 .4-2.3 .3 2.4 .4-2.3 .3 2.1 .3-2.6 .4 3.9 .3-2.5 .4 1.9 .3-2.4 .3 1.6 .4-1.7 .3 2.1 .4-1.7 .3 2.1 .3-3.3 .4 2.4 .3-.6 .4 1.3 .3-2.6 .3 2.5 .4-2.8 .3 3 .4-1.8 .3 1.2 .3-2.1 .4 1.9 .3-1.4 .4 2.1 .3-2.4 .3 2 .4-1 .3 2.5 .4-3.7 .3 3.1 .3-2.5 .4 1.4 .3-3.2 .4 3 .3-2.6 .3 3.7 .4-2.4 .3 .8 .4-1.7 .3 1.4 .3-1.5 .4 1.9 .3-2.5 .4 2.3 .3-2.1 .3 2.6 .4-2.2 .3 1.5 .4-1.8 .3 2.9 .3-1.9 .4 .8 .3-2.4 .4 3.3 .3-2 .3 2.1 .4-2.5 .3 3 .4-3.4 .3 4 .3-2.3 .4 1.8 .3-2.1 .4 2.9 .3-4.1 .3 1.7 .4-1.3 .3 1.7 .4-2.8 .3 3.7 .3-2.5 .4 1.8 .3-1.7 .4 2.6 .3-2.7 .3 1.9 .4-2 .3 2.4 .4-3 .3 3 .3-2.3 .4 2.1 .3-2.5 .4 1.4 .3-.8 .3 2.5 .4-2.8 .3 2.2 .4-2 .3 2.7 .3-2.6 .4 1.5 .3-1.6 .4 1.9 .3-1.3 .3 3 .4-3.7 .3 2.8 .4-3.1 .3 3 .3-3.1 .4 2.8 .3-2.6 .4 2.1 .3-2.4 .3 2.6 .4-2.8 .3 3.2 .4-4.4 .3 3.9 .3-2.2 .4 3.2 .3-2.7 .4 1.6 .3-1.9 .3 1.8 .4-1.8 .3 2.2 .4-3.1 .3 2.3 .3-1.8 .4 3.2 .3-2.6 .4 1.7 .3-2.1 .3 2.9 .4-2.1 .3 3.3 .4-2.8 .3 2.4 .3-3.1 .4 .6 .3-1.2 .4 2.1 .3-1.2 .3 3 .4-3.5 .3 1.4 .4-1.2 .3 3.1 .3-3.2 .4 2.8 .3-1.9 .4 1.9 .3-1.5 .3 1.8 .4-3.3 .3 3 .4-2.6 .3 2.5 .3-4.1 .4 3.7 .3-2.6 .4 2.6 .3-2.4 .3 2.8 .4-3 .3 2.2 .4-1.7 .3 3.3 .3-4.2 .4 2.5 .3-1.8 .4 3.5 .3-3.9 .3 2.8 .4-2.6 .3 2.5 .4-2.4 .3 2.6 .3-3 .4 3.6 .3-2.3 .4 1.5 .3-3.3 .3 2 .4-2.1 .3 3.1 .4-2.4 .3 2.2 .3-1.7 .4 .9 .3-1.4 .4 2.2 .3-1.7 .3 2.8 .4-3.8 .3 3 .4-3.1 .3 2.2 .3-1.9 .4 2.4 .3-2.3 .4 2.7 .3-2.9 .3 2.9 .4-2.6 .3 2.1 .4-1.6 .3 2.7 .3-3.3 .4 3.1 .3-3.4 .4 2.9 .3-2.7 .3 2.6 .4-3.2 .3 3.7 .4-3 .3 2.6 .3-2.8 .4 3.7 .3-2.2 .4 2.2 .3-1.6 .3 2.6 .4-2.7 .3 2.6 .4-3 .3 2.9 .3-2.7 .4 2 .3-2.5 .4 2.7 .3-3.4 .3 2.8 .4-2.4 .3 2.6 .4-2.4 .3 .9 .3-2 .4 2.9 .3-2.5 .4 2.1 .3-3.1 .3 3.7 .4-2.8 .3 1.9 .4-2.4 .3 4.9 .3-5.5 .4 3.4 .3-2.1 .4 1.8 .3-2.1 .3 1.1 .4-.2 .3 2.2 .4-3.3 .3 2.2 .3-3.2 .4 2.9 .3-1.7 .4 1.7 .3-1.8 .3 3.4 .4-2.9 .3 3.2 .4-3.2 .3 3.4 .3-3.1 .4 1.6 .3-2.2 .4 2 .3-2.3 .3 3.7 .4-3.2 .3 1.9 .4-1.5 .3 2.6 .3-2.2 .4 .7 .3-.4 .4 2 .3-2.9 .3 2.1 .4-1.6 .3 1.8 .4-3.4 .3 3.4 .3-1.4 .4 1.8 .3-2.6 .4 2.7 .3-2.8 .3 3.1 .4-2 .3 1.6 .4-1.9 .3 2.2 .3-2.2 .4 2.9 .3-2.9 .4 2.7 .3-3.3 .3 2.7 .4-1 .3 1.3 .4-2.9 .3 4.2 .3-2.9 .4 1.5 .3-2.6 .4 2.2 .3-3.5 .3 3.6 .4-2.8 .3 3 .4-2.4 .3 1.9 .3-2.7 .4 2.6 .3-1.4 .4 1.5 .3-3 .3 2.5 .4-2 .3 3.3 .4-3.1 .3 2.8 .3-3.6 .4 2.8 .3-2.6 .4 2.8 .3-2.5 .3 2 .4-2.6 .3 3.2 .4-2.7 .3 2.2 .3-1.9 .4 1.6 .3-2.2 .4 3.5 .3-2 .3 1.1 .4-2.3 .3 3 .4-2 .3 1.7 .3-2.1 .4 2.7 .3-3 .4 2.6 .3-2.4 .3 2.6 .4-2.3 .3 2.8 .4-2.7 .3 2.4 .3-3.1 .4 2.7 .3-2.5 .4 2.1 .3-2.7 .3 2.9 .4-3.3 .3 2.6 .4-1.9 .3 1.6 .3-2.4 .4 1.9 .3-.7 .4 2.1 .3-3.1 .3 2.5 .4-2.1 .3 2.1 .4-2.1 .3 2.9 .3-3.5 .4 4.2 .3-4.1 .4 3.4 .3-2.6 .3 2.9 .4-2.9 .3 3.1 .4-3.2 .3 2.9 .3-2.2 .4 2.5 .3-2.6 .4 1.9 .3-1.2 .3 6 .4 2.1 .3 5.7 .4-1.1 .3 5.2 .3 .2 .4 5 .3 .6 .4 3.8 .3 .6 .3 3.9 .4-1.4 .3 6.1 .4-1.2 .3 4.7 .3-1.6 .4 4.7 .3-2.5 .4 4.9 .3-.7 .3 3.7 .4-.9 .3 4.1 .4-2.1 .3 5.2 .3-1.1 .4 3.4 .3-2.6 .4 4.5 .3-1.1 .3 4.2 .4-2 .3 4 .4-2.2 .3 2.9 .3-1 .4 2.9 .3-.2 .4 3.4 .3-2.4 .3 3.7 .4-2.1 .3 4.6 .4-1.9 .3 3.1 .3 .1 .4 3.7 .3-2.4 .4 4.4 .3-1.6 .3 3.5 .4-1.2 .3 3 .4-2 .3 4.3 .3-.9 .4 1.9 .3-.6 .4 3.5 .3-2.1 .3 5.1 .4-1.2 .3 2.3 .4-2.1 .3 4.5 .3-.8 .4 3 .3-2.4 .4 4 .3-2.1 .3 3.7 .4-2.3 .3 3.6 .4-2.7 .3 4.1 .3-2.6 .4 3.5 .3-2 .4 4.1 .3-1.6 .3 2.5 .4-1.4 .3 4 .4-1.6 .3 3.1 .3-3.3 .4 3.4 .3-1.2 .4 3.7 .3-2.4 .3 3.3 .4-2.2 .3 3.2 .4-1.5 .3 3 .3-2.9 .4 4 .3-1.8 .4 4 .3-2 .3 2.5 .4-1.1 .3 2.7 .4-2.6 .3 3.4 .3-2.6 .4 4.7 .3-2.8 .4 2.7 .3-2.9 .3 2.9 .4-.6 .3 2 .4-1.4 .3 2.6 .3-1.2 .4 2.2 .3-1 .4 2.8 .3-2.4 .3 3.5 .4-2.2 .3 2.8 .4-2.1 .3 4.4 .3-3.4 .4 3.7 .3-1.4 .4 2.7 .3-1.8 .3 2.4 .4-1.9 .3 2.8 .4-1.3 .3 2.7 .3-1.9 .4 2.6 .3-2.1 .4 1.8 .3-1.5 .3 3.1 .4-3 .3 4.4 .4-2.4 .3 1.3 .3-.8 .4 3.3 .3-2.5 .4 3.6 .3-2.7 .3 2.6 .4-1.5 .3 2.4 .4-2.8 .3 2.9 .3-1.7 .4 3 .3-2.4 .4 2.7 .3-2.6 .3 3.5 .4-2.5 .3 2.8 .4-1.6 .3 1.4 .3-1.2 .4 2.6 .3-2.1 .4 1.9 .3-1.9 .3 2.7 .4-1.9 .3 2.8 .4-3.2 .3 3.4 .3-2.1 .4 3.1 .3-3 .4 3.1 .3-3.2 .3 2.9 .4-2 .3 1.9 .4-2.6 .3 3.5 .3-1.4 .4 2.3 .3-1.5 .4 1.6 .3-2.4 .3 3.4 .4-1.5 .3 1.2 .4-1.3 .3 2.8 .3-1.9 .4 1.7 .3-1.1 .4 1.8 .3-1.5 .3 1.8 .4-3.3 .3 2.2 .4-1.1 .3 2.6 .3-2 .4 2.2 .3-1.8 .4 2.1 .3-.6 .3 2.4 .4-2.9 .3 1.9 .4-1.8 .3 2.6 .3-3.3 .4 3.8 .3-3.6 .4 2.9 .3-2.5 .3 3 .4-1.3 .3 3.3 .4-2.9 .3 3.1 .3-2.3 .4 2 .3-2.8 .4 2.4 .3-1.2 .3 2.9 .4-2 .3 1.4 .4-1.4 .3 2.9 .3-2.4 .4 .7 .3-1.6 .4 1.3 .3-1.6 .3 2.5 .4-2.1 .3 2.1 .4-2.1 .3 2.4 .3-1.6 .4 1.5 .3-2.7 .4 3.5 .3-1.7 .3 1.2 .4-1.7 .3 3.8 .4-1.8 .3 2.3 .3-3 .4 2.5 .3-3.3 .4 2.8 .3-2.8 .3 2.3 .4-2.4 .3 3.3 .4-3.4 .3 3.4 .3-1.5 .4 1.9 .3-2.2 .4 2.9 .3-2.3 .3 1.7 .4-1.3 .3 1.6 .4-2.1 .3 2.1 .3-2.7 .4 2.7 .3-.9 .4 2 .3-3 .3 3.7 .4-2.3 .3 1.9 .4-2 .3 2.3 .3-2.5 .4 .5 .3-1.6 .4 2.9 .3-2.1 .3 1.5 .4-2 .3 1.8 .4-1.8 .3 2.2 .3-1.8 .4 2.7 .3-2.9 .4 3.9 .3-3 .3 2.8 .4-3 .3 2.1 .4-.9 .3 1.2 .3-1.1 .4 1.3 .3-3 .4 3.1 .3-3.8 .3 3.9 .4-3.5 .3 4.3 .4-3.5 .3 3.8 .3-3.3 .4 1.6 .3-1.6 .4 3.1 .3-3.6 .3 3.2 .4-3.8 .3 3.5 .4-2.1 .3 3 .3-2.7 .4 2.9 .3-3.8 .4 2.3 .3-1.3 .3 1.9 .4-1.7 .3 2.2 .4-2.7 .3 3.4 .3-2.9 .4 2.8 .3-2.3 .4 2.3 .3-2.2 .3 2.5 .4-2.6 .3 2.3 .4-1.6 .3 1.9 .3-2.4 .4 2.5 .3-2.5 .4 3.2 .3-3.9 .3 4 .4-3.2 .3 2.5 .4-2.9 .3 1.7 .3-2.3 .4 2.2 .3-2.9 .4 3.4 .3-2.3 .3 2.5 .4-2.1 .3 2.5 .4-2.7 .3 4.3 .3-3.4 .4 2.4 .3-2.4 .4 2.7 .3-2.3 .3 1.9 .4-1.6 .3 .7 .4-1.8 .3 2.2 .3-3.1 .4 2.5 .3-1.5 .4 2.3 .3-1.7 .3 1.8 .4-1.5 .3 1.6 .4-2.9 .3 2 .3-2.2 .4 2.6 .3-1.3 .4 1 .3-1.8 .3 1.7 .4-1.3 .3 .7 .4-.7 .3 .6 .3-1.6 .4 2.4 .3-2.1 .4 2.3 .3-2 .3 2.1 .4-1.7 .3 2.5 .4-2 .3 2 .3-2.1 .4 1.5 .3-1.3 .4 2.6 .3-3.7 .3 3.2 .4-2.9 .3 2.6 .4-2.2 .3 3 .3-3.4 .4 2.1 .3-2.3 .4 1.9 .3-2.5 .3 2.5 .4-2.2" stroke="#f01c1c" stroke-width="1.2"/>
<path d="M42.4 772.9l.3-3.1 .4 3 .3-4.2 .4 4.2 .3-5 .3 4.8 .4-4.1 .3 3.5 .4-4.8 .3 4.8 .3-3.1 .4 6.1 .3-4.4 .4 3.3 .3-5.3 .3 5.1 .4-5.8 .3 4.6 .4-5.5 .3 4.3 .3-5.2 .4 4.4 .3-5.2 .4 4.2 .3-5.2 .3 6.7 .4-7.2 .3 7.3 .4-7.3 .3 3.8 .3-6.3 .4 5.7 .3-4.9 .4 5.7 .3-5.8 .3 2.6 .4-6.3 .3 5.1 .4-6.4 .3 6.4 .3-6.7 .4 6.3 .3-6.5 .4 5.5 .3-5.1 .3 6.1 .4-7.7 .3 4.8 .4-6 .3 3 .3-6.8 .4 5.2 .3-8 .4 7 .3-6.5 .3 4.3 .4-5.9 .3 6.7 .4-6.8 .3 6.4 .3-6.9 .4 5.3 .3-7 .4 4.5 .3-5.8 .3 5.4 .4-7.3 .3 4.5 .4-6.8 .3 5.7 .3-6.3 .4 5.5 .3-6.9 .4 4.9 .3-6.3 .3 4.5 .4-5.9 .3 4.1 .4-6.8 .3 5.9 .3-6.8 .4 5.5 .3-6.5 .4 6.2 .3-8.5 .3 6 .4-7.5 .3 6 .4-8.2 .3 6 .3-7.7 .4 6.5 .3-7.5 .4 5.6 .3-6.9 .3 6.3 .4-9.3 .3 6.6 .4-8.1 .3 5.2 .3-7.3 .4 5.3 .3-7.2 .4 6.5 .3-7.3 .3 5.9 .4-8.2 .3 6 .4-8.4 .3 6.2 .3-7.4 .4 6.9 .3-9.5 .4 5.5 .3-7.1 .3 4.8 .4-7.5 .3 7.4 .4-8 .3 3.7 .3-5.6 .4 7 .3-8.8 .4 6.4 .3-7.6 .3 5.6 .4-7.8 .3 6.2 .4-8.1 .3 6.8 .3-8.8 .4 6.9 .3-9.3 .4 6 .3-7 .3 5.6 .4-8 .3 6.9 .4-8 .3 5.1 .3-8.8 .4 10.1 .3-12 .4 6.5 .3-8 .3 5.4 .4-7.2 .3 4.9 .4-7.6 .3 5.2 .3-7.2 .4 4.8 .3-7.4 .4 6.6 .3-8.2 .3 7.7 .4-9.7 .3 7.2 .4-8.1 .3 7 .3-9.5 .4 6.3 .3-9.5 .4 7.1 .3-9.3 .3 6.3 .4-7.2 .3 5.3 .4-7.2 .3 6.5 .3-7.6 .4 6 .3-7.8 .4 6.2 .3-8 .3 4.5 .4-8 .3 7.3 .4-8.3 .3 5.9 .3-8.3 .4 6.1 .3-8.4 .4 7 .3-9.6 .3 7.3 .4-8.2 .3 5.4 .4-7.2 .3 5.5 .3-6 .4 4.9 .3-7.5 .4 7.2 .3-8.6 .3 6.6 .4-7.5 .3 5.5 .4-7.3 .3 5.7 .3-6.6 .4 5.6 .3-5.3 .4 4.8 .3-7.1 .3 7.8 .4-6.7 .3 4.8 .4-8.5 .3 6.6 .3-6.5 .4 3.9 .3-6.9 .4 4.2 .3-6.4 .3 5.2 .4-5.5 .3 4.1 .4-5.7 .3 6.4 .3-7 .4 5.6 .3-6.3 .4 4.9 .3-6.1 .3 4.9 .4-4.4 .3 4.5 .4-4.5 .3 2.8 .3-4.7 .4 3.6 .3-5.7 .4 6.7 .3-7.8 .3 7 .4-8 .3 5.8 .4-6.1 .3 6.6 .3-7 .4 5.1 .3-4.2 .4 3.7 .3-6.5 .3 5.8 .4-5.5 .3 2.9 .4-4.3 .3 4.1 .3-6 .4 5.2 .3-6.4 .4 6.9 .3-7.2 .3 5.9 .4-6.4 .3 4.1 .4-7.3 .3 5.8 .3-5.9 .4 6.3 .3-6.9 .4 7.8 .3-6.9 .3 5.7 .4-4.8 .3 4.9 .4-6.2 .3 5.1 .3-6.6 .4 5.2 .3-5.6 .4 5.1 .3-5.6 .3 3.8 .4-6.7 .3 4.2 .4-5.8 .3 5.9 .3-5.1 .4 5.3 .3-4.6 .4 5.3 .3-6.9 .3 5.8 .4-4.7 .3 4.4 .4-5 .3 4 .3-4.8 .4 6.1 .3-4.5 .4 3.8 .3-6.5 .3 5.6 .4-6.1 .3 6.4 .4-5.9 .3 5 .3-4.8 .4 4.5 .3-5.4 .4 5.1 .3-6 .3 4.1 .4-5.1 .3 6.4 .4-6.8 .3 4.9 .3-5.2 .4 5.2 .3-4.8 .4 3.8 .3-3.3 .3 5.4 .4-6.4 .3 5.7 .4-5.6 .3 5.8 .3-6.7 .4 5.6 .3-4.8 .4 5 .3-4.8 .3 4.3 .4-5.2 .3 5.1 .4-5.6 .3 5.2 .3-5.6 .4 4.9 .3-5.4 .4 4.6 .3-5.1 .3 4.3 .4-4.1 .3 4 .4-4.6 .3 4.3 .3-4.5 .4 4.3 .3-3.4 .4 3.4 .3-4.3 .3 4.5 .4-4.4 .3 5.4 .4-5.7 .3 4.7 .3-4.3 .4 5 .3-6 .4 4.1 .3-4.1 .3 5.4 .4-3.7 .3 3.5 .4-3.7 .3 4.6 .3-3.8 .4 4.2 .3-4.5 .4 4.3 .3-3.5 .3 5 .4-4.5 .3 3.4 .4-5.5 .3 5 .3-5.7 .4 6.1 .3-7.7 .4 5.5 .3-4.2 .3 4 .4-4.1 .3 5 .4-4.9 .3 4.7 .3-4.5 .4 4.4 .3-4.8 .4 4.9 .3-4.4 .3 3.9 .4-4.1 .3 5.2 .4-5.3 .3 4.6 .3-5.1 .4 4 .3-4.5 .4 4.2 .3-3.3 .3 3.7 .4-3.2 .3 4.5 .4-4.3 .3 3.9 .3-3.9 .4 3.5 .3-4.5 .4 4.6 .3-3.7 .3 2.8 .4-3.7 .3 4.4 .4-3.8 .3 4 .3-4.4 .4 4.4 .3-4 .4 3.7 .3-4.3 .3 4.9 .4-4.8 .3 3.7 .4-3.3 .3 5.9 .3-4.9 .4 5.4 .3-5.1 .4 4.9 .3-4.9 .3 4.8 .4-4.6 .3 4.5 .4-6 .3 4.2 .3-4.3 .4 4.1 .3-3.8 .4 3.8 .3-5.1 .3 5.1 .4-4.5 .3 6 .4-5.2 .3 3.2 .3-4.1 .4 3.5 .3-4.6 .4 4.6 .3-3.9 .3 4.6 .4-4.6 .3 4.1 .4-2.5 .3 4.3 .3-4.4 .4 3.9 .3-4.9 .4 2.5 .3-2.6 .3 2.4 .4-3.2 .3 5 .4-4.3 .3 3.5 .3-2 .4 4.2 .3-4.2 .4 4.5 .3-3.4 .3 3.5 .4-3.8 .3 3.5 .4-5.6 .3 4.4 .3-4.5 .4 2.9 .3-3.5 .4 4.6 .3-5 .3 5.1 .4-3.2 .3 4.3 .4-4.8 .3 4.4 .3-4.4 .4 4.8 .3-8.4 .4 7.9 .3-5.8 .3 4.2 .4-4.1 .3 4.4 .4-4.3 .3 3 .3-3.3 .4 4.3 .3-3.8 .4 2.7 .3-3.7 .3 3.8 .4-4.7 .3 4 .4-2.8 .3 4.8 .3-5.9 .4 5.8 .3-3.7 .4 4.3 .3-4.9 .3 3.9 .4-4.4 .3 4.3 .4-4.6 .3 5.1 .3-4.1 .4 3.6 .3-3.5 .4 3.9 .3-4.2 .3 4.6 .4-5.7 .3 5.7 .4-4.1 .3 3.7 .3-3.9 .4 3.5 .3-2.8 .4 4.3 .3-4 .3 2.1 .4-3.2 .3 4.2 .4-4.7 .3 4.6 .3-3.6 .4 5.3 .3-5.4 .4 5.8 .3-5.6 .3 4.3 .4-4 .3 2.6 .4-4 .3 3.5 .3-4 .4 3.2 .3-4 .4 5.5 .3-5.7 .3 4.5 .4-4.6 .3 5 .4-4.5 .3 5.4 .3-6.3 .4 4.8 .3-3.7 .4 4.7 .3-4.6 .3 4 .4-4.8 .3 5.6 .4-4.8 .3 5.3 .3-6.6 .4 6.2 .3-4.3 .4 2.7 .3-3.5 .3 4.6 .4-4.5 .3 4.3 .4-3.7 .3 4.5 .3-6 .4 6 .3-5.6 .4 4.6 .3-5.3 .3 6.9 .4-5 .3 5.1 .4-3.7 .3 5.1 .3-5.7 .4 4.4 .3-4.4 .4 3.6 .3-4.6 .3 4.3 .4-3.4 .3 2.4 .4-1.8 .3 1.7 .3-3.1 .4 3.8 .3-3.6 .4 4.4 .3-3.7 .3 3.7 .4-4.3 .3 4.6 .4-4.3 .3 4.9 .3-3.6 .4 3.4 .3-4.9 .4 5.6 .3-4.5 .3 4 .4-5.8 .3 6.4 .4-5.5 .3 4.8 .3-4.5 .4 4.3 .3-5.6 .4 4 .3-2.8 .3 4.1 .4-4.6 .3 4.1 .4-4.1 .3 4.9 .3-4.3 .4 3.1 .3-4.2 .4 3.6 .3-3.2 .3 3.6 .4-4.6 .3 6.1 .4-4.4 .3 5.5 .3-4.1 .4 5.3 .3-5.2 .4 5.7 .3-6.3 .3 3.6 .4-3.3 .3 3.9 .4-4.6 .3 5.2 .3-4.7 .4 3.8 .3-4.6 .4 4.1 .3-5.9 .3 6.2 .4-4.7 .3 3.5 .4-4.5 .3 3.7 .3-4.2 .4 4.9 .3-3.3 .4 3.5 .3-4.2 .3 4.6 .4-4.4 .3 4.7 .4-5.2 .3 3.3 .3-4.1 .4 3.9 .3-3 .4 4.7 .3-5.8 .3 6.2 .4-4.4 .3 7.2 .4-7.4 .3 5.6 .3-5.6 .4 3.1 .3-3 .4 5 .3-3.8 .3 3.3 .4-2.5 .3 4.1 .4-4.4 .3 6.4 .3-7.6 .4 5.5 .3-5.9 .4 4.3 .3-4.4 .3 4.6 .4-5.1 .3 6 .4-5.6 .3 3.5 .3-3.9 .4 4 .3-3 .4 2.8 .3-1.8 .3 3.6 .4-4.6 .3 4.6 .4-4.3 .3 4 .3-5.6 .4 4.3 .3-3 .4 2.6 .3-2.7 .3 3.2 .4-3.1 .3 5.8 .4-5.1 .3 3.7 .3-4.6 .4 4.5 .3-4.3 .4 4.3 .3-6.1 .3 4.4 .4-3.6 .3 2.9 .4-3.4 .3 3.9 .3-3.7 .4 4.6 .3-4.9 .4 5.9 .3-4.5 .3 4.2 .4-4.8 .3 5.7 .4-4.5 .3 3.6 .3-4 .4 4.4 .3-6.3 .4 4.8 .3-3.9 .3 3.9 .4-4.9 .3 3.9 .4-4.9 .3 6 .3-3 .4 4.2 .3-4.7 .4 5.3 .3-4.6 .3 4.5 .4-4.7 .3 4.1 .4-4.6 .3 5.1 .3-4.9 .4 5 .3-5 .4 5.7 .3-4.6 .3 3.3 .4-3 .3 3.8 .4-4.6 .3 4 .3-5.4 .4 3.4 .3-4.1 .4 4.5 .3-4.5 .3 5.5 .4-5.1 .3 5.5 .4-3.4 .3 4.6 .3-5.4 .4 3 .3-4.2 .4 4.5 .3-3.2 .3 3.8 .4-3.6 .3 3.4 .4-4.7 .3 4.7 .3-4.9 .4 4 .3-3.8 .4 4.6 .3-5.3 .3 5.7 .4-3.6 .3 5 .4-5.8 .3 4.7 .3-4.5 .4 5.2 .3-4.4 .4 3.6 .3-5.4 .3 3.7 .4-3.9 .3 4.9 .4-5.7 .3 3.4 .3-1.1 .4 3.9 .3-4.1 .4 3.2 .3-4.8 .3 3.7 .4-1.9 .3 3.5 .4-5.2 .3 3 .3-3.7 .4 4.2 .3-3.8 .4 4.3 .3-3.4 .3 5.7 .4-3.9 .3 4.5 .4-3.7 .3 4.3 .3-4.5 .4 3.6 .3-3.9 .4 3.8 .3-6.7 .3 5.7 .4-4.3 .3 4.2 .4-3.3 .3 3 .3-4.6 .4 3.7 .3-4.4 .4 4.5 .3-3.1 .3 3 .4-3 .3 4.1 .4-3.8 .3 3.7 .3-3.7 .4 4.8 .3-4.6 .4 5.6 .3-4.4 .3 3.5 .4-4.4 .3 4.7 .4-3.7 .3 3.7 .3-4.5 .4 3.8 .3-3.3 .4 4 .3-4.6 .3 3.9 .4-3.1 .3 2.9 .4-4.2 .3 4.1 .3-3.6 .4 4.8 .3-4.3 .4 2.5 .3-3.2 .3 6.1 .4-7 .3 5.3 .4-3.6 .3 3.4 .3-3.9 .4 4.3 .3-3.9 .4 4.9 .3-4 .3 4.6 .4-5.2 .3 3.4 .4-2.9 .3 4.8 .3-5.5 .4 4.1 .3-4.7 .4 3.8 .3-4.6 .3 3.7 .4-3.7 .3 4.9 .4-3.7 .3 4.7 .3-4.8 .4 3.8 .3-3.9 .4 5.9 .3-6.1 .3 4.1 .4-4.1 .3 3.8 .4-5.1 .3 4.7 .3-3.6 .4 4.5 .3-4.5 .4 4 .3-6.1 .3 5.1 .4-3 .3 6.2 .4-6.6 .3 4.2 .3-4.2 .4 4.8 .3-4.2 .4 4.8 .3-4.9 .3 4.2 .4-4.2 .3 4.6 .4-2.9 .3 3.3 .3-5.2 .4 5 .3-4 .4 4.7 .3-4.9 .3 2.6 .4-2.2 .3 4.2 .4-6 .3 5.6 .3-3.9 .4 4.4 .3-6.2 .4 3.2 .3-2.9 .3 4.7 .4-4 .3 5.1 .4-5.1 .3 5.4 .3-4.6 .4 4.7 .3-4.7 .4 5.2 .3-5 .3 4.4 .4-5.6 .3 4.6 .4-4.8 .3 3.2 .3-3.9 .4 4.8 .3-2.7 .4 2.3 .3-1.7 .3 3.4 .4-4.3 .3 2.5 .4-3.1 .3 4.6 .3-4.7 .4 3.3 .3-5 .4 3.6 .3-2.8 .3 4.6 .4-4.7 .3 4.9 .4-5.4 .3 5.6 .3-4.6 .4 4.3 .3-4.4 .4 5.3 .3-5.9 .3 4.5 .4-5 .3 4 .4-4 .3 6 .3-4.6 .4 2.2 .3-3.5 .4 4.7 .3-3.5 .3 8.4 .4-3.2 .3 7.7 .4-2 .3 6.8 .3-2 .4 6.2 .3-1.9 .4 6.9 .3-1.3 .3 7.5 .4-1.6 .3 6.1 .4-1 .3 6.2 .3 .1 .4 5.6 .3-1.2 .4 5.6 .3-1.8 .3 5 .4-3 .3 7.1 .4-2.8 .3 5.9 .3-2.3 .4 6.8 .3-1.7 .4 5.4 .3-2.7 .3 5.7 .4-2.5 .3 6.6 .4-3.2 .3 6.3 .3-3 .4 5.1 .3-2.9 .4 5.8 .3 .3 .3 5 .4-2.5 .3 6.1 .4-.9 .3 3.7 .3-1.2 .4 4.8 .3-1.9 .4 5 .3-3.2 .3 6.1 .4-3.8 .3 4.2 .4-1.4 .3 4.7 .3-1.8 .4 7.3 .3-3.1 .4 5.5 .3-4.7 .3 6.4 .4-3.7 .3 5.8 .4-4.3 .3 5.7 .3-3.2 .4 6.1 .3-3 .4 4.9 .3-2.4 .3 5.7 .4-3.5 .3 5.1 .4-3.6 .3 4.7 .3-2.1 .4 4.7 .3-3.3 .4 3.9 .3-3.3 .3 5.5 .4-5 .3 5.8 .4-3.4 .3 3.5 .3-1.2 .4 5.3 .3-5 .4 5.1 .3-2.7 .3 5.1 .4-4.9 .3 5.8 .4-2.6 .3 4.9 .3-2.9 .4 4.5 .3-3.9 .4 5.6 .3-5.1 .3 6.8 .4-5.1 .3 4.6 .4-5.9 .3 4.3 .3-3 .4 4.6 .3-4.3 .4 4.2 .3-3.2 .3 5.4 .4-2.9 .3 6.9 .4-4.1 .3 4.1 .3-5 .4 6.9 .3-3.2 .4 5.5 .3-3 .3 1.7 .4-2.3 .3 5 .4-4.2 .3 2.9 .3-3.4 .4 3.2 .3-2.8 .4 4.2 .3-4 .3 5.6 .4-3.9 .3 5.9 .4-3.8 .3 6 .3-3.2 .4 3.6 .3-4.5 .4 5.9 .3-5.5 .3 5.3 .4-5.8 .3 4.8 .4-4.3 .3 5.9 .3-4.4 .4 4.6 .3-4.3 .4 5.2 .3-4.2 .3 4.7 .4-4.4 .3 3.1 .4-3.6 .3 5.8 .3-3.9 .4 4.6 .3-5.7 .4 6.4 .3-7.2 .3 7.4 .4-3.9 .3 4.5 .4-3.8 .3 4.2 .3-3.9 .4 4.6 .3-5 .4 4.9 .3-3.6 .3 3.7 .4-3.2 .3 4.2 .4-6 .3 6 .3-4.7 .4 4 .3-3.5 .4 3.9 .3-3.9 .3 5.2 .4-5 .3 5 .4-3 .3 5.6 .3-4 .4 4.9 .3-4.3 .4 4.6 .3-3.5 .3 4.2 .4-3 .3 3.9 .4-5.3 .3 4.4 .3-3.3 .4 3.6 .3-3.8 .4 4.8 .3-4.3 .3 2.6 .4-3.4 .3 4.1 .4-4.1 .3 3.9 .3-3.5 .4 5.4 .3-4.6 .4 5.6 .3-4.4 .3 4.2 .4-4.1 .3 3.8 .4-3.4 .3 3.7 .3-4.4 .4 5.1 .3-4.1 .4 3.8 .3-3.9 .3 6.3 .4-4.2 .3 4.3 .4-4.7 .3 4.6 .3-3.8 .4 3.7 .3-3.9 .4 4.2 .3-3.9 .3 4.7 .4-4 .3 4.4 .4-2.8 .3 3.9 .3-2.1 .4 2.3 .3-2.9 .4 3.1 .3-4.6 .3 3.9 .4-4.9 .3 4 .4-4.7 .3 9.2 .3-8.3 .4 3.7 .3-3.1 .4 4.9 .3-4.5 .3 4.9 .4-4.3 .3 3 .4-3.9 .3 3.3 .3-1 .4 1.2 .3-3.8 .4 5.9 .3-3.6 .3 5 .4-3.8 .3 3.7 .4-4.1 .3 4.6 .3-5.8 .4 4 .3-4.2 .4 3.9 .3-4.1 .3 5.2 .4-4.7 .3 5.6 .4-5 .3 4 .3-3.5 .4 4 .3-3.1 .4 4.4 .3-6.3 .3 4.9 .4-4.3 .3 5.2 .4-5.5 .3 4.6 .3-3.6 .4 4.3 .3-5.1 .4 4.5 .3-4.2 .3 3.5 .4-4 .3 5.9 .4-5.4 .3 4 .3-4.3 .4 3.9 .3-4.6 .4 4.3 .3-3.2 .3 3.6 .4-5.4 .3 6.3 .4-5.7 .3 4.7 .3-4.4 .4 4.1 .3-2.7 .4 4.6 .3-3.9 .3 5.4 .4-6.6 .3 5.9 .4-5 .3 5.4 .3-5.3 .4 4.2 .3-5.5 .4 5.4 .3-4.8 .3 4.8 .4-3.6 .3 3.7 .4-5.6 .3 4.7 .3-4.9 .4 5 .3-4.2 .4 4.1 .3-6.1 .3 4.7 .4-2.6 .3 2.9 .4-3.7 .3 2.5 .3-3 .4 4.2 .3-3.6 .4 4.2 .3-5.1 .3 6 .4-4.5 .3 5.1 .4-4.6 .3 4.7 .3-4.8 .4 4.5 .3-5.8 .4 4 .3-2.1 .3 3.9 .4-6.3 .3 5.8 .4-5.4 .3 4.9 .3-4.2 .4 4.2 .3-5.4 .4 4.7 .3-4.2 .3 4.2 .4-3.3 .3 4.2 .4-5.4 .3 3.8 .3-4.3 .4 4.1 .3-3.3 .4 5.2 .3-4.3 .3 2.4 .4-3.7 .3 5.2 .4-3.1 .3 4.7 .3-4.2 .4 3.4 .3-3.4 .4 2.8 .3-3.8 .3 4.1 .4-4.5 .3 4.9 .4-3.4 .3 3.5 .3-3.3 .4 4.1 .3-6.6 .4 5 .3-4.4 .3 5 .4-3.8 .3 4.1 .4-3.6 .3 4.6 .3-5.1 .4 4.9 .3-5.3 .4 3 .3-3 .3 2.7 .4-5.2 .3 5 .4-3.6 .3 5.3 .3-4.3 .4 3.3 .3-4.8 .4 4.4 .3-2.1 .3 1.4 .4-4 .3 3.2 .4-4.5 .3 3.5 .3-3.4 .4 3.7 .3-2.8 .4 3.8 .3-3.3 .3 3.8 .4-2.1" stroke="#1a56e8" stroke-width="1.2"/>
<path d="M42.4 772.6l.3-7.9 .4 5.1 .3-5.9 .4 5 .3-6.3 .3 8.9 .4-8.6 .3 7.2 .4-5.4 .3 7 .3-8.1 .4 8.6 .3-9.6 .4 8.9 .3-10.1 .3 5.3 .4-6.4 .3 7.9 .4-9.3 .3 7.3 .3-9.1 .4 6.5 .3-5.2 .4 7.6 .3-11 .3 8.5 .4-10.8 .3 9.6 .4-8.5 .3 9 .3-8.1 .4 8.5 .3-7.9 .4 6.3 .3-6.7 .3 6.5 .4-10.7 .3 6.4 .4-8.9 .3 7.8 .3-10 .4 9.1 .3-7.3 .4 6.8 .3-7 .3 8.4 .4-10.6 .3 8.9 .4-10.8 .3 7.4 .3-8.1 .4 7.4 .3-9.2 .4 7.5 .3-8.3 .3 5.9 .4-7.2 .3 8.2 .4-11.3 .3 10.5 .3-10.3 .4 8.4 .3-9.9 .4 7.5 .3-9 .3 9.4 .4-8.7 .3 7.1 .4-11.4 .3 9.6 .3-10.4 .4 10.7 .3-10.3 .4 9.2 .3-11 .3 7.9 .4-11 .3 7.7 .4-8.3 .3 8 .3-10.4 .4 5.6 .3-9 .4 7.9 .3-8.4 .3 9.3 .4-9.5 .3 9.1 .4-8.5 .3 6.3 .3-7.8 .4 3.7 .3-7.6 .4 10.2 .3-12.4 .3 8.2 .4-9.8 .3 9.9 .4-10.9 .3 10.8 .3-12 .4 9.1 .3-9.8 .4 6.5 .3-11.1 .3 7.6 .4-10.6 .3 9.2 .4-10.5 .3 8.6 .3-10.9 .4 8.7 .3-13.1 .4 12 .3-10.6 .3 10.5 .4-10.1 .3 7.4 .4-10 .3 8.7 .3-10.6 .4 11.6 .3-12 .4 8 .3-10.7 .3 10.9 .4-11 .3 9 .4-11.1 .3 8.8 .3-11.1 .4 8.8 .3-10.7 .4 8.5 .3-13 .3 9.5 .4-10.8 .3 10.5 .4-11.4 .3 9.7 .3-11.9 .4 11.3 .3-10.8 .4 9.4 .3-11.9 .3 10.8 .4-12.1 .3 6.2 .4-10.4 .3 6.5 .3-8.5 .4 7.3 .3-10.6 .4 10.2 .3-11.6 .3 9.9 .4-11.1 .3 6.3 .4-11 .3 8.7 .3-12.8 .4 10.1 .3-12.7 .4 8.8 .3-9.9 .3 9.2 .4-12.5 .3 8.9 .4-12.4 .3 11 .3-13.1 .4 8.1 .3-9 .4 7.3 .3-8.3 .3 9.5 .4-10.4 .3 7.7 .4-8.8 .3 9.6 .3-10.8 .4 8.9 .3-11.6 .4 9.6 .3-9.4 .3 8.3 .4-11.4 .3 10.1 .4-9.3 .3 7.5 .3-8.2 .4 9.9 .3-11.1 .4 8.5 .3-8.1 .3 6 .4-9 .3 6.4 .4-9.4 .3 8.7 .3-8.2 .4 5.9 .3-8.1 .4 5.3 .3-9.3 .3 9.6 .4-11 .3 6.1 .4-7.2 .3 7.1 .3-11.5 .4 9.6 .3-9 .4 9.5 .3-7.8 .3 6 .4-8.2 .3 6.6 .4-6.7 .3 8.1 .3-9.6 .4 7.9 .3-7.8 .4 8 .3-8.9 .3 7.1 .4-8.2 .3 5.9 .4-7.3 .3 8.5 .3-11.2 .4 9.6 .3-9.4 .4 9.3 .3-9.4 .3 8.2 .4-6.7 .3 7.7 .4-10.1 .3 7 .3-7 .4 6.2 .3-7.4 .4 5.1 .3-6 .3 5.9 .4-7 .3 8.7 .4-7.8 .3 7.8 .3-8.2 .4 9 .3-8.4 .4 6 .3-7.7 .3 5.8 .4-7.2 .3 8.6 .4-9.4 .3 7 .3-7 .4 6.5 .3-6.8 .4 6.4 .3-4.1 .3 7.5 .4-9.6 .3 8.8 .4-9.6 .3 7.8 .3-9.1 .4 8.7 .3-9.9 .4 7.2 .3-6.8 .3 7.4 .4-8.1 .3 7.2 .4-8.4 .3 7.5 .3-7.8 .4 7.2 .3-7.6 .4 7.8 .3-7.5 .3 8.1 .4-8 .3 8.4 .4-8.1 .3 9.6 .3-8.9 .4 5.7 .3-6.4 .4 7.9 .3-8.1 .3 7.1 .4-7.3 .3 6.2 .4-6.4 .3 5.6 .3-5.8 .4 5.2 .3-7.8 .4 8.1 .3-8.7 .3 9.1 .4-6.8 .3 6.2 .4-5.4 .3 7.5 .3-7.5 .4 6.5 .3-7.2 .4 7.3 .3-8 .3 6.3 .4-6.2 .3 5.2 .4-5.8 .3 7.4 .3-8.2 .4 7.3 .3-8.2 .4 7.4 .3-8.3 .3 7.2 .4-6.9 .3 6.9 .4-6.5 .3 6.6 .3-7.2 .4 7.7 .3-8.4 .4 7.1 .3-5.5 .3 8.2 .4-7.4 .3 7.2 .4-6.1 .3 6.5 .3-6.9 .4 6.9 .3-7.5 .4 6.9 .3-6.1 .3 5.2 .4-5.9 .3 7.5 .4-7.6 .3 4.8 .3-6.8 .4 6.2 .3-6.7 .4 5.2 .3-5.4 .3 7.4 .4-8.7 .3 10.9 .4-10.2 .3 9.3 .3-7.7 .4 8.3 .3-7.1 .4 5.9 .3-7.2 .3 6.6 .4-6.1 .3 4.9 .4-5.2 .3 6.6 .3-7.3 .4 6.7 .3-7.5 .4 7.3 .3-5.9 .3 5.2 .4-7.3 .3 8 .4-6.5 .3 6.6 .3-5.1 .4 6.5 .3-8.2 .4 7 .3-6.8 .3 6.7 .4-7.7 .3 8 .4-7.8 .3 7.3 .3-4.5 .4 6 .3-7.3 .4 8.2 .3-6.9 .3 5.3 .4-7 .3 6.3 .4-6.8 .3 8.1 .3-8.3 .4 6.6 .3-7.1 .4 8.6 .3-6.8 .3 5.2 .4-6.7 .3 7.9 .4-7.3 .3 6.6 .3-8.3 .4 8.1 .3-8.9 .4 8.8 .3-6.3 .3 5 .4-7 .3 8.3 .4-8.3 .3 6.5 .3-8 .4 11 .3-8 .4 5.9 .3-5.6 .3 6.5 .4-5.3 .3 7.5 .4-7.8 .3 6.8 .3-8.7 .4 7.7 .3-7.9 .4 8.3 .3-7.4 .3 7.2 .4-6.6 .3 6.6 .4-7.4 .3 5.8 .3-5.4 .4 5.9 .3-5.7 .4 6 .3-6.3 .3 6.9 .4-6.2 .3 6.5 .4-6 .3 6.1 .3-6.4 .4 6.4 .3-5.2 .4 5.1 .3-7.1 .3 8.3 .4-7.6 .3 7 .4-7.7 .3 6.3 .3-6.5 .4 4.1 .3-6.2 .4 8 .3-7.6 .3 4.9 .4-6.2 .3 6.1 .4-4.8 .3 8 .3-6.1 .4 6.9 .3-7.2 .4 6.6 .3-7.7 .3 7.1 .4-8.1 .3 7 .4-7.3 .3 9.4 .3-6.8 .4 6.7 .3-5.9 .4 6.9 .3-3.7 .3 3.9 .4-5.4 .3 6.1 .4-7.7 .3 6.5 .3-4.8 .4 5.3 .3-6 .4 5.2 .3-7.3 .3 7.7 .4-6.9 .3 6.7 .4-5.7 .3 5.7 .3-6.8 .4 6.2 .3-7.1 .4 7.3 .3-7.2 .3 6.1 .4-6.7 .3 6.3 .4-6.4 .3 6.9 .3-6.9 .4 8.8 .3-7.6 .4 7.8 .3-8.9 .3 5.9 .4-7.4 .3 9.1 .4-6.7 .3 11.5 .3-12.4 .4 6.3 .3-7.3 .4 7 .3-6.3 .3 5.6 .4-4.8 .3 5.8 .4-5.2 .3 4.8 .3-5.6 .4 5.8 .3-6.7 .4 6.3 .3-8.3 .3 8.2 .4-8.2 .3 7.5 .4-7.1 .3 6.6 .3-4.2 .4 7 .3-6.8 .4 5.7 .3-6.8 .3 9 .4-6.6 .3 6.7 .4-7.9 .3 4.3 .3-5.2 .4 6.9 .3-7.1 .4 5.6 .3-6.9 .3 6.7 .4-5.8 .3 4.6 .4-5.9 .3 8.6 .3-7.9 .4 7.7 .3-6.3 .4 7.4 .3-8.6 .3 9 .4-6.6 .3 6 .4-6.7 .3 8 .3-8.2 .4 5.4 .3-6.3 .4 6.5 .3-6.6 .3 6.1 .4-6.2 .3 8.1 .4-7.3 .3 7.6 .3-6.2 .4 8.6 .3-8.7 .4 7.6 .3-6.9 .3 6.7 .4-7.1 .3 5.8 .4-6.9 .3 7.3 .3-6.9 .4 4.8 .3-6.3 .4 8 .3-6.5 .3 7.7 .4-7.5 .3 6.1 .4-7.1 .3 7.1 .3-9.8 .4 9.5 .3-8.8 .4 6.6 .3-5.8 .3 7.6 .4-7.8 .3 9.9 .4-7 .3 5.6 .3-6.4 .4 8.3 .3-8.8 .4 5.4 .3-5.6 .3 6.2 .4-6.8 .3 5.1 .4-5.2 .3 7.3 .3-5.6 .4 6.7 .3-6.1 .4 4.7 .3-3.8 .3 6.5 .4-8.9 .3 7.1 .4-5.9 .3 7 .3-9.5 .4 8.2 .3-7 .4 6.7 .3-6.1 .3 7.4 .4-7.1 .3 6.1 .4-5.7 .3 6.2 .3-6.7 .4 4.9 .3-6 .4 6.4 .3-6.5 .3 6.3 .4-8.7 .3 9.3 .4-6.2 .3 4.3 .3-3.1 .4 5.5 .3-7.1 .4 7.7 .3-7.2 .3 7.3 .4-8.4 .3 6.8 .4-8.4 .3 4.3 .3-5 .4 8.9 .3-7.2 .4 7.1 .3-8.5 .3 8 .4-6.7 .3 8.6 .4-7.9 .3 5.3 .3-7.2 .4 5.7 .3-5.8 .4 6.4 .3-5.7 .3 5.8 .4-6.8 .3 8.6 .4-8.4 .3 8.8 .3-8 .4 6.1 .3-6.6 .4 8.4 .3-6.5 .3 6.2 .4-6.2 .3 5.5 .4-5.6 .3 8.2 .3-7.3 .4 4.9 .3-6.1 .4 7.5 .3-7.1 .3 6.6 .4-5.2 .3 4.1 .4-6.4 .3 10.1 .3-8.3 .4 5.3 .3-5.6 .4 8.3 .3-8.5 .3 8.4 .4-6.8 .3 6.3 .4-6.7 .3 7 .3-6.6 .4 6.9 .3-7.8 .4 5.5 .3-6.3 .3 6.2 .4-5.6 .3 5.9 .4-7.4 .3 8.4 .3-7.3 .4 7.4 .3-7.7 .4 7.3 .3-8.2 .3 7.5 .4-6.4 .3 6.8 .4-7.9 .3 7.8 .3-8 .4 8 .3-5.7 .4 5.7 .3-7 .3 6.1 .4-6.8 .3 7 .4-6.1 .3 6.1 .3-5.5 .4 7.9 .3-7 .4 6.6 .3-6.4 .3 6.3 .4-7.3 .3 6.8 .4-7 .3 5.2 .3-8.5 .4 7.5 .3-6.5 .4 9.4 .3-9.7 .3 9.3 .4-7.3 .3 7.1 .4-5.7 .3 6 .3-7.2 .4 7.9 .3-6.7 .4 7.8 .3-7.9 .3 7.7 .4-4.5 .3 3.6 .4-5.8 .3 7.1 .3-7.4 .4 7.6 .3-7.9 .4 5.9 .3-6.6 .3 7.5 .4-8 .3 8 .4-9.3 .3 9.1 .3-7.5 .4 6.6 .3-7.2 .4 7.6 .3-8.2 .3 8.3 .4-7.1 .3 5.8 .4-5.6 .3 7.1 .3-8.5 .4 7.5 .3-6.8 .4 7.4 .3-8.2 .3 5.9 .4-5 .3 3.6 .4-5.6 .3 7.8 .3-6.8 .4 6.4 .3-7.1 .4 7.6 .3-7.7 .3 6.4 .4-7.2 .3 8.5 .4-7.4 .3 7.1 .3-7.6 .4 7.3 .3-6.9 .4 6.8 .3-7.2 .3 5.7 .4-7.4 .3 7.4 .4-5.2 .3 5.7 .3-5.5 .4 5.3 .3-6.7 .4 8.5 .3-8.2 .3 7.8 .4-6.6 .3 6.4 .4-7.2 .3 7.5 .3-6.1 .4 7.7 .3-5.2 .4 5.4 .3-6.9 .3 7.7 .4-6.5 .3 5.7 .4-5.3 .3 4.6 .3-7.9 .4 8.2 .3-9 .4 8.3 .3-7.3 .3 8.3 .4-8.8 .3 8.6 .4-7.4 .3 8.4 .3-6.9 .4 6.2 .3-6.7 .4 5.3 .3-5.5 .3 7.6 .4-7.8 .3 7 .4-6.2 .3 6.6 .3-7.2 .4 6.1 .3-6.6 .4 5.6 .3-4.7 .3 7 .4-8 .3 6.6 .4-8.7 .3 7 .3-6.6 .4 5.4 .3-8.3 .4 7.5 .3-5.8 .3 7.1 .4-5.4 .3 7.1 .4-6.3 .3 6.2 .3-4.5 .4 4.9 .3-8.3 .4 10.4 .3-6.7 .3 6.1 .4-9 .3 7.2 .4-8.1 .3 6.7 .3-5.6 .4 6.7 .3-9.1 .4 6.6 .3-5.7 .3 5.3 .4-6.4 .3 8.7 .4-9.1 .3 8.2 .3-5.3 .4 7.2 .3-6.5 .4 7.6 .3-5.6 .3 5.2 .4-6.3 .3 6 .4-7.4 .3 8.2 .3-6.9 .4 5.1 .3-7.4 .4 5 .3-5.5 .3 7.9 .4-5.5 .3 5.1 .4-6.7 .3 6.7 .3-7.1 .4 6.3 .3-6.9 .4 7.1 .3-7 .3 6.8 .4-8.5 .3 8.1 .4-6.1 .3 8.8 .3-5.9 .4 7.4 .3-8 .4 4.4 .3-6.9 .3 9.3 .4-11.3 .3 8.9 .4-6.2 .3 4.8 .3-7.3 .4 8.4 .3-7.2 .4 8.9 .3-8 .3 8.5 .4-5.7 .3 5.7 .4-7.2 .3 8.2 .3-8.9 .4 7.2 .3-6.4 .4 6.1 .3-6.3 .3 6.8 .4-6.2 .3 7.7 .4-8.8 .3 8 .3-6.6 .4 6.8 .3-6.9 .4 6.6 .3-7.5 .3 5.5 .4-4.9 .3 8.6 .4-10 .3 6.5 .3-6.2 .4 8.5 .3-7.1 .4 7.5 .3-8.7 .3 9.9 .4-9.8 .3 8.6 .4-5.8 .3 3.9 .3-6.4 .4 7.7 .3-7.4 .4 8.7 .3-4.9 .3 12 .4 .5 .3 11.8 .4-1.5 .3 10.5 .3-2.9 .4 9.7 .3-3.5 .4 7.9 .3-3.5 .3 11.2 .4-3.5 .3 7.4 .4-3.7 .3 9.5 .3-2.8 .4 8.2 .3-4.4 .4 10.8 .3-6.6 .3 11.4 .4-5.1 .3 9.4 .4-6.3 .3 9.1 .3-5 .4 6.4 .3-4.2 .4 8.2 .3-6.7 .3 7.5 .4-5.5 .3 10.8 .4-6.4 .3 9.2 .3-4.8 .4 7.7 .3-7.2 .4 8 .3-3.9 .3 9.3 .4-7.4 .3 8.5 .4-4 .3 6.6 .3-2.2 .4 8.7 .3-6.1 .4 7.7 .3-6.3 .3 9.5 .4-8.3 .3 9.3 .4-5.3 .3 8 .3-7.5 .4 9.5 .3-4.1 .4 6.4 .3-4.6 .3 6.3 .4-4.6 .3 7.8 .4-4.6 .3 9.1 .3-6.5 .4 8.4 .3-8.9 .4 7.9 .3-5.8 .3 6.6 .4-5.4 .3 6.8 .4-2.3 .3 5.9 .3-7 .4 8.7 .3-6.3 .4 8.1 .3-5.5 .3 7.2 .4-6.4 .3 8.2 .4-7.5 .3 8.3 .3-7.6 .4 8 .3-6 .4 7.8 .3-7.6 .3 6.6 .4-7.8 .3 8.5 .4-7.3 .3 7.8 .3-7 .4 6.5 .3-5 .4 8.3 .3-7.1 .3 10 .4-6.6 .3 6.3 .4-6.6 .3 7.5 .3-8.5 .4 8.4 .3-6.6 .4 5 .3-6.1 .3 7.9 .4-6.6 .3 6 .4-4.5 .3 8 .3-9.8 .4 9.8 .3-6.5 .4 7.3 .3-4.7 .3 5.5 .4-6.8 .3 8.9 .4-5.7 .3 7.1 .3-7.3 .4 8.7 .3-8.6 .4 8.2 .3-9.2 .3 7 .4-6.8 .3 7.7 .4-7.2 .3 8.4 .3-5.7 .4 7.8 .3-7.1 .4 7.6 .3-6.5 .3 8.2 .4-8 .3 7 .4-6.9 .3 7.8 .3-8.6 .4 7.7 .3-7.9 .4 8 .3-7.2 .3 9.2 .4-7.4 .3 6.9 .4-6.9 .3 8.4 .3-7 .4 8.8 .3-7.6 .4 6.2 .3-6.6 .3 7.5 .4-7.8 .3 6.5 .4-6.7 .3 8.2 .3-8.3 .4 7.2 .3-5.5 .4 7.7 .3-7.6 .3 6.5 .4-7.3 .3 7 .4-6 .3 8.5 .3-6.2 .4 4.8 .3-6.4 .4 7.9 .3-7.9 .3 5.8 .4-5.7 .3 7.5 .4-8.4 .3 5.4 .3-4.1 .4 6 .3-4.8 .4 7 .3-7 .3 4.8 .4-6.5 .3 6.7 .4-6.2 .3 5.4 .3-5.1 .4 6.4 .3-8.2 .4 8.4 .3-5 .3 5.2 .4-6.4 .3 6.8 .4-6.2 .3 7.7 .3-6.1 .4 5.1 .3-6.6 .4 6.9 .3-8.2 .3 6.1 .4-4.9 .3 5.5 .4-6.8 .3 6.3 .3-5.7 .4 6.1 .3-6.1 .4 8.1 .3-7.9 .3 7.5 .4-8 .3 7.1 .4-7 .3 7.3 .3-7.1 .4 8.5 .3-9.5 .4 6.2 .3-4.7 .3 6.4 .4-6.8 .3 7.5 .4-8.1 .3 8.7 .3-8.3 .4 7.2 .3-6 .4 9.2 .3-7.6 .3 5.7 .4-7.2 .3 7.2 .4-6.9 .3 5.4 .3-4.1 .4 7 .3-8.9 .4 6.6 .3-6.4 .3 8.9 .4-7 .3 5.2 .4-11.6 .3 12 .3-8.5 .4 9.7 .3-7.2 .4 8.3 .3-7.5 .3 6.5 .4-5.9 .3 6.3 .4-3.4 .3 5.1 .3-6.4 .4 4.5 .3-6 .4 8.2 .3-7.8 .3 6.9 .4-5.8 .3 4.7 .4-5.7 .3 8.3 .3-9.2 .4 7.9 .3-7.9 .4 5.9 .3-5 .3 7 .4-6.8 .3 5.2 .4-6.5 .3 7.5 .3-7.1 .4 5.8 .3-6.7 .4 7.8 .3-7.6 .3 7.9 .4-6.7 .3 5.6 .4-4.5 .3 6.2 .3-7.5 .4 6.9 .3-6.2 .4 6.5 .3-7.2 .3 6.4 .4-6.4 .3 6.3 .4-6.6 .3 6.3 .3-6.8 .4 8.5 .3-5.8 .4 7.1 .3-7.3 .3 8.7 .4-8.7 .3 6.7 .4-8.2 .3 7.7 .3-7.6 .4 9.3 .3-8.1 .4 7.5 .3-7.1 .3 4.8 .4-6.4 .3 8.9 .4-7.9 .3 6.2 .3-7.7 .4 9 .3-8.3 .4 7 .3-6.6 .3 6 .4-5.3 .3 7.1 .4-6.6 .3 3.9 .3-6.3 .4 6.9 .3-6.8 .4 7.7 .3-6.3 .3 6.2 .4-7.3 .3 7.7 .4-5.5 .3 5.6 .3-7.3 .4 9.8 .3-8.7 .4 6.9 .3-5.4 .3 6.9 .4-8.8 .3 6.6 .4-6.4 .3 6.6 .3-6.7 .4 6.7 .3-8 .4 9.4 .3-8.5 .3 6.3 .4-6.8 .3 5.9 .4-5.8 .3 5.8 .3-5 .4 4.1 .3-5.4 .4 6.5 .3-7.2 .3 7.3 .4-6.2 .3 4.9 .4-5.9 .3 6.5 .3-6.7 .4 8 .3-7.3 .4 6.1 .3-5.2 .3 5.8 .4-5.8 .3 5.5 .4-6.3 .3 6.5 .3-4.9 .4 5.7 .3-7.4 .4 7.1 .3-7.6 .3 11.3 .4-7.1 .3 5.2 .4-7.1 .3 5.8 .3-6.2 .4 6.3 .3-7.4 .4 7.2 .3-7.9 .3 7.2 .4-6.5 .3 7.1 .4-6.6 .3 8.7 .3-6.2 .4 5.4 .3-6.7 .4 7 .3-6.4 .3 5.2 .4-6.8 .3 5.3 .4-6.1 .3 7.6 .3-6.6 .4 6.8 .3-8.5 .4 9 .3-7.2 .3 7.1 .4-6.1" stroke="#34a865" stroke-width="1.2"/>
<line x1="419.5" y1="703.3" x2="419.5" y2="734.4" stroke="#f02828" stroke-width="1.3"/>
<line x1="377.8" y1="618.8" x2="377.6" y2="625.2" stroke="#9fdcb5" stroke-width="1.4"/>
</g>
<rect x="453.9" y="7" width="67.1" height="70.8" class="lg"/>
<line x1="456.3" y1="17.4" x2="487" y2="17.4" stroke="#606060" stroke-width="1.2"/>
<text x="490.6" y="23" class="lt">0 T</text>
<line x1="456.3" y1="34.5" x2="487" y2="34.5" stroke="#f04848" stroke-width="1.2"/>
<text x="490.6" y="40.1" class="lt">5 T</text>
<line x1="456.3" y1="51.5" x2="487" y2="51.5" stroke="#3070e0" stroke-width="1.2"/>
<text x="490.6" y="57.1" class="lt">10 T</text>
<line x1="456.3" y1="68.6" x2="487" y2="68.6" stroke="#40b070" stroke-width="1.2"/>
<text x="490.6" y="74.2" class="lt">14 T</text>
<rect x="42.4" y="7" width="478.6" height="215.2" class="fr"/>
<text x="61.2" y="36.6" class="coil" textLength="39.6" lengthAdjust="spacingAndGlyphs">Coil-A</text>
<rect x="453.9" y="282.3" width="67.1" height="70.8" class="lg"/>
<line x1="456.3" y1="292.7" x2="487" y2="292.7" stroke="#606060" stroke-width="1.2"/>
<text x="490.6" y="298.3" class="lt">0 T</text>
<line x1="456.3" y1="309.8" x2="487" y2="309.8" stroke="#f04848" stroke-width="1.2"/>
<text x="490.6" y="315.4" class="lt">5 T</text>
<line x1="456.3" y1="326.8" x2="487" y2="326.8" stroke="#3070e0" stroke-width="1.2"/>
<text x="490.6" y="332.4" class="lt">10 T</text>
<line x1="456.3" y1="343.9" x2="487" y2="343.9" stroke="#40b070" stroke-width="1.2"/>
<text x="490.6" y="349.5" class="lt">14 T</text>
<rect x="42.4" y="282.3" width="478.6" height="215.2" class="fr"/>
<text x="61.2" y="306.2" class="coil" textLength="39.6" lengthAdjust="spacingAndGlyphs">Coil-B</text>
<rect x="453.9" y="557.7" width="67.1" height="70.8" class="lg"/>
<line x1="456.3" y1="568.1" x2="487" y2="568.1" stroke="#606060" stroke-width="1.2"/>
<text x="490.6" y="573.7" class="lt">0 T</text>
<line x1="456.3" y1="585.1" x2="487" y2="585.1" stroke="#f04848" stroke-width="1.2"/>
<text x="490.6" y="590.8" class="lt">5 T</text>
<line x1="456.3" y1="602.2" x2="487" y2="602.2" stroke="#3070e0" stroke-width="1.2"/>
<text x="490.6" y="607.8" class="lt">10 T</text>
<line x1="456.3" y1="619.2" x2="487" y2="619.2" stroke="#40b070" stroke-width="1.2"/>
<text x="490.6" y="624.9" class="lt">14 T</text>
<rect x="42.4" y="557.7" width="478.6" height="215.3" class="fr"/>
<text x="61.2" y="575.4" class="coil" textLength="39.6" lengthAdjust="spacingAndGlyphs">Coil-C</text>
</svg></body></html>
